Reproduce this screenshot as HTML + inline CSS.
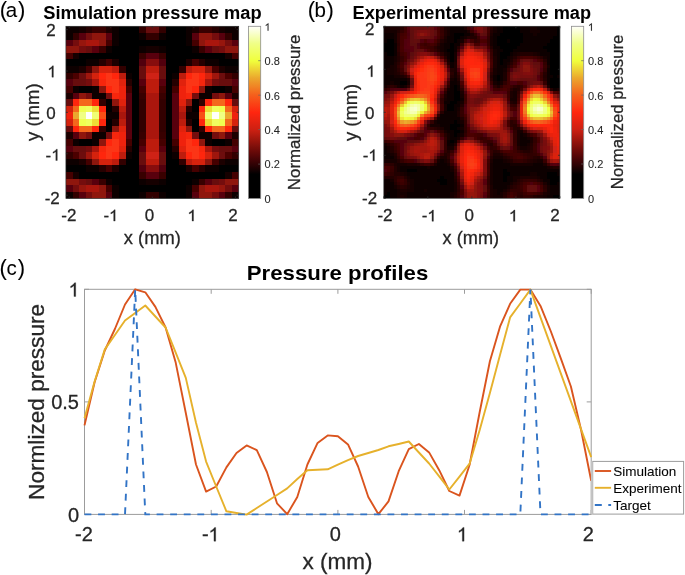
<!DOCTYPE html>
<html><head><meta charset="utf-8"><style>
html,body{margin:0;padding:0;background:#fff;}
body{width:685px;height:575px;position:relative;overflow:hidden;font-family:"Liberation Sans", sans-serif;}
text:not([font-weight]){stroke:#262626;stroke-width:0.28px;}
text.s{stroke-width:0.08px;}
</style></head><body>
<svg width="685" height="575" viewBox="0 0 685 575" style="position:absolute;left:0;top:0;will-change:transform" font-family='"Liberation Sans", sans-serif' fill="#262626"><defs><filter id="bl" x="0" y="0" width="1" height="1"><feGaussianBlur stdDeviation="0.45" edgeMode="duplicate"/></filter><clipPath id="cpa"><rect x="65.9" y="26.3" width="172.8" height="172.2"/></clipPath><clipPath id="cpb"><rect x="383.8" y="26.3" width="176.1" height="172.0"/></clipPath></defs><g shape-rendering="crispEdges" filter="url(#bl)" clip-path="url(#cpa)"><rect x="65.90" y="26.30" width="13.29" height="6.62" fill="#0e0101"/><rect x="79.19" y="26.30" width="6.65" height="6.62" fill="#160102"/><rect x="85.84" y="26.30" width="6.65" height="6.62" fill="#270204"/><rect x="92.48" y="26.30" width="13.29" height="6.62" fill="#370205"/><rect x="105.78" y="26.30" width="6.65" height="6.62" fill="#1c0103"/><rect x="112.42" y="26.30" width="6.65" height="6.62" fill="#0e0101"/><rect x="119.07" y="26.30" width="19.94" height="6.62" fill="#060001"/><rect x="139.01" y="26.30" width="6.65" height="6.62" fill="#320205"/><rect x="145.65" y="26.30" width="13.29" height="6.62" fill="#680a08"/><rect x="158.95" y="26.30" width="6.65" height="6.62" fill="#320205"/><rect x="165.59" y="26.30" width="19.94" height="6.62" fill="#060001"/><rect x="185.53" y="26.30" width="6.65" height="6.62" fill="#0e0101"/><rect x="192.18" y="26.30" width="6.65" height="6.62" fill="#1c0103"/><rect x="198.82" y="26.30" width="13.29" height="6.62" fill="#370205"/><rect x="212.12" y="26.30" width="6.65" height="6.62" fill="#270204"/><rect x="218.76" y="26.30" width="6.65" height="6.62" fill="#160102"/><rect x="225.41" y="26.30" width="13.29" height="6.62" fill="#0e0101"/><rect x="65.90" y="32.92" width="6.65" height="6.62" fill="#0e0101"/><rect x="72.55" y="32.92" width="6.65" height="6.62" fill="#320205"/><rect x="79.19" y="32.92" width="6.65" height="6.62" fill="#580607"/><rect x="85.84" y="32.92" width="6.65" height="6.62" fill="#740d09"/><rect x="92.48" y="32.92" width="13.29" height="6.62" fill="#8f130c"/><rect x="105.78" y="32.92" width="6.65" height="6.62" fill="#580607"/><rect x="112.42" y="32.92" width="6.65" height="6.62" fill="#110102"/><rect x="119.07" y="32.92" width="19.94" height="6.62" fill="#060001"/><rect x="139.01" y="32.92" width="6.65" height="6.62" fill="#110102"/><rect x="145.65" y="32.92" width="13.29" height="6.62" fill="#320205"/><rect x="158.95" y="32.92" width="6.65" height="6.62" fill="#110102"/><rect x="165.59" y="32.92" width="19.94" height="6.62" fill="#060001"/><rect x="185.53" y="32.92" width="6.65" height="6.62" fill="#110102"/><rect x="192.18" y="32.92" width="6.65" height="6.62" fill="#580607"/><rect x="198.82" y="32.92" width="13.29" height="6.62" fill="#8f130c"/><rect x="212.12" y="32.92" width="6.65" height="6.62" fill="#740d09"/><rect x="218.76" y="32.92" width="6.65" height="6.62" fill="#580607"/><rect x="225.41" y="32.92" width="6.65" height="6.62" fill="#320205"/><rect x="232.05" y="32.92" width="6.65" height="6.62" fill="#0e0101"/><rect x="65.90" y="39.55" width="6.65" height="6.62" fill="#580607"/><rect x="72.55" y="39.55" width="6.65" height="6.62" fill="#740d09"/><rect x="79.19" y="39.55" width="6.65" height="6.62" fill="#97140d"/><rect x="85.84" y="39.55" width="13.29" height="6.62" fill="#aa190e"/><rect x="99.13" y="39.55" width="6.65" height="6.62" fill="#8f130c"/><rect x="105.78" y="39.55" width="6.65" height="6.62" fill="#440406"/><rect x="112.42" y="39.55" width="6.65" height="6.62" fill="#0e0101"/><rect x="119.07" y="39.55" width="6.65" height="6.62" fill="#060001"/><rect x="125.72" y="39.55" width="6.65" height="6.62" fill="#030000"/><rect x="132.36" y="39.55" width="39.88" height="6.62" fill="#060001"/><rect x="172.24" y="39.55" width="6.65" height="6.62" fill="#030000"/><rect x="178.88" y="39.55" width="6.65" height="6.62" fill="#060001"/><rect x="185.53" y="39.55" width="6.65" height="6.62" fill="#0e0101"/><rect x="192.18" y="39.55" width="6.65" height="6.62" fill="#440406"/><rect x="198.82" y="39.55" width="6.65" height="6.62" fill="#8f130c"/><rect x="205.47" y="39.55" width="13.29" height="6.62" fill="#aa190e"/><rect x="218.76" y="39.55" width="6.65" height="6.62" fill="#97140d"/><rect x="225.41" y="39.55" width="6.65" height="6.62" fill="#740d09"/><rect x="232.05" y="39.55" width="6.65" height="6.62" fill="#580607"/><rect x="65.90" y="46.17" width="13.29" height="6.62" fill="#8f130c"/><rect x="79.19" y="46.17" width="6.65" height="6.62" fill="#740d09"/><rect x="85.84" y="46.17" width="6.65" height="6.62" fill="#680a08"/><rect x="92.48" y="46.17" width="6.65" height="6.62" fill="#580607"/><rect x="99.13" y="46.17" width="6.65" height="6.62" fill="#370205"/><rect x="105.78" y="46.17" width="6.65" height="6.62" fill="#110102"/><rect x="112.42" y="46.17" width="6.65" height="6.62" fill="#060001"/><rect x="119.07" y="46.17" width="13.29" height="6.62" fill="#030000"/><rect x="132.36" y="46.17" width="6.65" height="6.62" fill="#060001"/><rect x="139.01" y="46.17" width="6.65" height="6.62" fill="#0e0101"/><rect x="145.65" y="46.17" width="13.29" height="6.62" fill="#160102"/><rect x="158.95" y="46.17" width="6.65" height="6.62" fill="#0e0101"/><rect x="165.59" y="46.17" width="6.65" height="6.62" fill="#060001"/><rect x="172.24" y="46.17" width="13.29" height="6.62" fill="#030000"/><rect x="185.53" y="46.17" width="6.65" height="6.62" fill="#060001"/><rect x="192.18" y="46.17" width="6.65" height="6.62" fill="#110102"/><rect x="198.82" y="46.17" width="6.65" height="6.62" fill="#370205"/><rect x="205.47" y="46.17" width="6.65" height="6.62" fill="#580607"/><rect x="212.12" y="46.17" width="6.65" height="6.62" fill="#680a08"/><rect x="218.76" y="46.17" width="6.65" height="6.62" fill="#740d09"/><rect x="225.41" y="46.17" width="13.29" height="6.62" fill="#8f130c"/><rect x="65.90" y="52.79" width="6.65" height="6.62" fill="#440406"/><rect x="72.55" y="52.79" width="6.65" height="6.62" fill="#160102"/><rect x="79.19" y="52.79" width="33.23" height="6.62" fill="#060001"/><rect x="112.42" y="52.79" width="19.94" height="6.62" fill="#030000"/><rect x="132.36" y="52.79" width="6.65" height="6.62" fill="#060001"/><rect x="139.01" y="52.79" width="6.65" height="6.62" fill="#370205"/><rect x="145.65" y="52.79" width="13.29" height="6.62" fill="#580607"/><rect x="158.95" y="52.79" width="6.65" height="6.62" fill="#370205"/><rect x="165.59" y="52.79" width="6.65" height="6.62" fill="#060001"/><rect x="172.24" y="52.79" width="19.94" height="6.62" fill="#030000"/><rect x="192.18" y="52.79" width="33.23" height="6.62" fill="#060001"/><rect x="225.41" y="52.79" width="6.65" height="6.62" fill="#160102"/><rect x="232.05" y="52.79" width="6.65" height="6.62" fill="#440406"/><rect x="65.90" y="59.42" width="19.94" height="6.62" fill="#060001"/><rect x="85.84" y="59.42" width="13.29" height="6.62" fill="#0e0101"/><rect x="99.13" y="59.42" width="6.65" height="6.62" fill="#270204"/><rect x="105.78" y="59.42" width="6.65" height="6.62" fill="#440406"/><rect x="112.42" y="59.42" width="6.65" height="6.62" fill="#1c0103"/><rect x="119.07" y="59.42" width="13.29" height="6.62" fill="#030000"/><rect x="132.36" y="59.42" width="6.65" height="6.62" fill="#060001"/><rect x="139.01" y="59.42" width="6.65" height="6.62" fill="#510507"/><rect x="145.65" y="59.42" width="13.29" height="6.62" fill="#87110b"/><rect x="158.95" y="59.42" width="6.65" height="6.62" fill="#510507"/><rect x="165.59" y="59.42" width="6.65" height="6.62" fill="#060001"/><rect x="172.24" y="59.42" width="13.29" height="6.62" fill="#030000"/><rect x="185.53" y="59.42" width="6.65" height="6.62" fill="#1c0103"/><rect x="192.18" y="59.42" width="6.65" height="6.62" fill="#440406"/><rect x="198.82" y="59.42" width="6.65" height="6.62" fill="#270204"/><rect x="205.47" y="59.42" width="13.29" height="6.62" fill="#0e0101"/><rect x="218.76" y="59.42" width="19.94" height="6.62" fill="#060001"/><rect x="65.90" y="66.04" width="13.29" height="6.62" fill="#0e0101"/><rect x="79.19" y="66.04" width="6.65" height="6.62" fill="#1c0103"/><rect x="85.84" y="66.04" width="6.65" height="6.62" fill="#440406"/><rect x="92.48" y="66.04" width="6.65" height="6.62" fill="#8f130c"/><rect x="99.13" y="66.04" width="13.29" height="6.62" fill="#d52111"/><rect x="112.42" y="66.04" width="6.65" height="6.62" fill="#bd1d10"/><rect x="119.07" y="66.04" width="6.65" height="6.62" fill="#320205"/><rect x="125.72" y="66.04" width="6.65" height="6.62" fill="#030000"/><rect x="132.36" y="66.04" width="6.65" height="6.62" fill="#060001"/><rect x="139.01" y="66.04" width="6.65" height="6.62" fill="#680a08"/><rect x="145.65" y="66.04" width="13.29" height="6.62" fill="#bd1d10"/><rect x="158.95" y="66.04" width="6.65" height="6.62" fill="#680a08"/><rect x="165.59" y="66.04" width="6.65" height="6.62" fill="#060001"/><rect x="172.24" y="66.04" width="6.65" height="6.62" fill="#030000"/><rect x="178.88" y="66.04" width="6.65" height="6.62" fill="#320205"/><rect x="185.53" y="66.04" width="6.65" height="6.62" fill="#bd1d10"/><rect x="192.18" y="66.04" width="13.29" height="6.62" fill="#d52111"/><rect x="205.47" y="66.04" width="6.65" height="6.62" fill="#8f130c"/><rect x="212.12" y="66.04" width="6.65" height="6.62" fill="#440406"/><rect x="218.76" y="66.04" width="6.65" height="6.62" fill="#1c0103"/><rect x="225.41" y="66.04" width="13.29" height="6.62" fill="#0e0101"/><rect x="65.90" y="72.66" width="6.65" height="6.62" fill="#320205"/><rect x="72.55" y="72.66" width="6.65" height="6.62" fill="#4c0406"/><rect x="79.19" y="72.66" width="6.65" height="6.62" fill="#6d0b09"/><rect x="85.84" y="72.66" width="6.65" height="6.62" fill="#9f160d"/><rect x="92.48" y="72.66" width="6.65" height="6.62" fill="#d52111"/><rect x="99.13" y="72.66" width="6.65" height="6.62" fill="#ff260f"/><rect x="105.78" y="72.66" width="6.65" height="6.62" fill="#fc3613"/><rect x="112.42" y="72.66" width="6.65" height="6.62" fill="#ff260f"/><rect x="119.07" y="72.66" width="6.65" height="6.62" fill="#bd1d10"/><rect x="125.72" y="72.66" width="6.65" height="6.62" fill="#0e0101"/><rect x="132.36" y="72.66" width="6.65" height="6.62" fill="#030000"/><rect x="139.01" y="72.66" width="6.65" height="6.62" fill="#680a08"/><rect x="145.65" y="72.66" width="13.29" height="6.62" fill="#cf2012"/><rect x="158.95" y="72.66" width="6.65" height="6.62" fill="#680a08"/><rect x="165.59" y="72.66" width="6.65" height="6.62" fill="#030000"/><rect x="172.24" y="72.66" width="6.65" height="6.62" fill="#0e0101"/><rect x="178.88" y="72.66" width="6.65" height="6.62" fill="#bd1d10"/><rect x="185.53" y="72.66" width="6.65" height="6.62" fill="#ff260f"/><rect x="192.18" y="72.66" width="6.65" height="6.62" fill="#fc3613"/><rect x="198.82" y="72.66" width="6.65" height="6.62" fill="#ff260f"/><rect x="205.47" y="72.66" width="6.65" height="6.62" fill="#d52111"/><rect x="212.12" y="72.66" width="6.65" height="6.62" fill="#9f160d"/><rect x="218.76" y="72.66" width="6.65" height="6.62" fill="#6d0b09"/><rect x="225.41" y="72.66" width="6.65" height="6.62" fill="#4c0406"/><rect x="232.05" y="72.66" width="6.65" height="6.62" fill="#320205"/><rect x="65.90" y="79.28" width="6.65" height="6.62" fill="#580607"/><rect x="72.55" y="79.28" width="13.29" height="6.62" fill="#680a08"/><rect x="85.84" y="79.28" width="6.65" height="6.62" fill="#740d09"/><rect x="92.48" y="79.28" width="6.65" height="6.62" fill="#aa190e"/><rect x="99.13" y="79.28" width="6.65" height="6.62" fill="#f7250f"/><rect x="105.78" y="79.28" width="13.29" height="6.62" fill="#fc3613"/><rect x="119.07" y="79.28" width="6.65" height="6.62" fill="#e12211"/><rect x="125.72" y="79.28" width="6.65" height="6.62" fill="#270204"/><rect x="132.36" y="79.28" width="6.65" height="6.62" fill="#030000"/><rect x="139.01" y="79.28" width="6.65" height="6.62" fill="#580607"/><rect x="145.65" y="79.28" width="13.29" height="6.62" fill="#bd1d10"/><rect x="158.95" y="79.28" width="6.65" height="6.62" fill="#580607"/><rect x="165.59" y="79.28" width="6.65" height="6.62" fill="#030000"/><rect x="172.24" y="79.28" width="6.65" height="6.62" fill="#270204"/><rect x="178.88" y="79.28" width="6.65" height="6.62" fill="#e12211"/><rect x="185.53" y="79.28" width="13.29" height="6.62" fill="#fc3613"/><rect x="198.82" y="79.28" width="6.65" height="6.62" fill="#f7250f"/><rect x="205.47" y="79.28" width="6.65" height="6.62" fill="#aa190e"/><rect x="212.12" y="79.28" width="6.65" height="6.62" fill="#740d09"/><rect x="218.76" y="79.28" width="13.29" height="6.62" fill="#680a08"/><rect x="232.05" y="79.28" width="6.65" height="6.62" fill="#580607"/><rect x="65.90" y="85.91" width="6.65" height="6.62" fill="#440406"/><rect x="72.55" y="85.91" width="6.65" height="6.62" fill="#080001"/><rect x="79.19" y="85.91" width="13.29" height="6.62" fill="#060001"/><rect x="92.48" y="85.91" width="6.65" height="6.62" fill="#080001"/><rect x="99.13" y="85.91" width="6.65" height="6.62" fill="#8f130c"/><rect x="105.78" y="85.91" width="6.65" height="6.62" fill="#ff260f"/><rect x="112.42" y="85.91" width="6.65" height="6.62" fill="#fc3613"/><rect x="119.07" y="85.91" width="6.65" height="6.62" fill="#ef2410"/><rect x="125.72" y="85.91" width="6.65" height="6.62" fill="#440406"/><rect x="132.36" y="85.91" width="6.65" height="6.62" fill="#030000"/><rect x="139.01" y="85.91" width="6.65" height="6.62" fill="#440406"/><rect x="145.65" y="85.91" width="13.29" height="6.62" fill="#bd1d10"/><rect x="158.95" y="85.91" width="6.65" height="6.62" fill="#440406"/><rect x="165.59" y="85.91" width="6.65" height="6.62" fill="#030000"/><rect x="172.24" y="85.91" width="6.65" height="6.62" fill="#440406"/><rect x="178.88" y="85.91" width="6.65" height="6.62" fill="#ef2410"/><rect x="185.53" y="85.91" width="6.65" height="6.62" fill="#fc3613"/><rect x="192.18" y="85.91" width="6.65" height="6.62" fill="#ff260f"/><rect x="198.82" y="85.91" width="6.65" height="6.62" fill="#8f130c"/><rect x="205.47" y="85.91" width="6.65" height="6.62" fill="#080001"/><rect x="212.12" y="85.91" width="13.29" height="6.62" fill="#060001"/><rect x="225.41" y="85.91" width="6.65" height="6.62" fill="#080001"/><rect x="232.05" y="85.91" width="6.65" height="6.62" fill="#440406"/><rect x="65.90" y="92.53" width="6.65" height="6.62" fill="#1c0103"/><rect x="72.55" y="92.53" width="6.65" height="6.62" fill="#580607"/><rect x="79.19" y="92.53" width="6.65" height="6.62" fill="#8f130c"/><rect x="85.84" y="92.53" width="6.65" height="6.62" fill="#740d09"/><rect x="92.48" y="92.53" width="13.29" height="6.62" fill="#080001"/><rect x="105.78" y="92.53" width="6.65" height="6.62" fill="#740d09"/><rect x="112.42" y="92.53" width="6.65" height="6.62" fill="#f7250f"/><rect x="119.07" y="92.53" width="6.65" height="6.62" fill="#ef2410"/><rect x="125.72" y="92.53" width="6.65" height="6.62" fill="#580607"/><rect x="132.36" y="92.53" width="6.65" height="6.62" fill="#030000"/><rect x="139.01" y="92.53" width="6.65" height="6.62" fill="#370205"/><rect x="145.65" y="92.53" width="13.29" height="6.62" fill="#aa190e"/><rect x="158.95" y="92.53" width="6.65" height="6.62" fill="#370205"/><rect x="165.59" y="92.53" width="6.65" height="6.62" fill="#030000"/><rect x="172.24" y="92.53" width="6.65" height="6.62" fill="#580607"/><rect x="178.88" y="92.53" width="6.65" height="6.62" fill="#ef2410"/><rect x="185.53" y="92.53" width="6.65" height="6.62" fill="#f7250f"/><rect x="192.18" y="92.53" width="6.65" height="6.62" fill="#740d09"/><rect x="198.82" y="92.53" width="13.29" height="6.62" fill="#080001"/><rect x="212.12" y="92.53" width="6.65" height="6.62" fill="#740d09"/><rect x="218.76" y="92.53" width="6.65" height="6.62" fill="#8f130c"/><rect x="225.41" y="92.53" width="6.65" height="6.62" fill="#580607"/><rect x="232.05" y="92.53" width="6.65" height="6.62" fill="#1c0103"/><rect x="65.90" y="99.15" width="6.65" height="6.62" fill="#680a08"/><rect x="72.55" y="99.15" width="6.65" height="6.62" fill="#ff260f"/><rect x="79.19" y="99.15" width="13.29" height="6.62" fill="#f4681e"/><rect x="92.48" y="99.15" width="6.65" height="6.62" fill="#ff260f"/><rect x="99.13" y="99.15" width="6.65" height="6.62" fill="#320205"/><rect x="105.78" y="99.15" width="6.65" height="6.62" fill="#060001"/><rect x="112.42" y="99.15" width="6.65" height="6.62" fill="#8f130c"/><rect x="119.07" y="99.15" width="6.65" height="6.62" fill="#e12211"/><rect x="125.72" y="99.15" width="6.65" height="6.62" fill="#580607"/><rect x="132.36" y="99.15" width="6.65" height="6.62" fill="#030000"/><rect x="139.01" y="99.15" width="6.65" height="6.62" fill="#320205"/><rect x="145.65" y="99.15" width="13.29" height="6.62" fill="#aa190e"/><rect x="158.95" y="99.15" width="6.65" height="6.62" fill="#320205"/><rect x="165.59" y="99.15" width="6.65" height="6.62" fill="#030000"/><rect x="172.24" y="99.15" width="6.65" height="6.62" fill="#580607"/><rect x="178.88" y="99.15" width="6.65" height="6.62" fill="#e12211"/><rect x="185.53" y="99.15" width="6.65" height="6.62" fill="#8f130c"/><rect x="192.18" y="99.15" width="6.65" height="6.62" fill="#060001"/><rect x="198.82" y="99.15" width="6.65" height="6.62" fill="#320205"/><rect x="205.47" y="99.15" width="6.65" height="6.62" fill="#ff260f"/><rect x="212.12" y="99.15" width="13.29" height="6.62" fill="#f4681e"/><rect x="225.41" y="99.15" width="6.65" height="6.62" fill="#ff260f"/><rect x="232.05" y="99.15" width="6.65" height="6.62" fill="#680a08"/><rect x="65.90" y="105.78" width="6.65" height="6.62" fill="#d52111"/><rect x="72.55" y="105.78" width="6.65" height="6.62" fill="#f4681e"/><rect x="79.19" y="105.78" width="6.65" height="6.62" fill="#f0ff51"/><rect x="85.84" y="105.78" width="6.65" height="6.62" fill="#f0ff5e"/><rect x="92.48" y="105.78" width="6.65" height="6.62" fill="#eedd36"/><rect x="99.13" y="105.78" width="6.65" height="6.62" fill="#ff260f"/><rect x="105.78" y="105.78" width="6.65" height="6.62" fill="#060001"/><rect x="112.42" y="105.78" width="6.65" height="6.62" fill="#270204"/><rect x="119.07" y="105.78" width="6.65" height="6.62" fill="#bd1d10"/><rect x="125.72" y="105.78" width="6.65" height="6.62" fill="#580607"/><rect x="132.36" y="105.78" width="6.65" height="6.62" fill="#030000"/><rect x="139.01" y="105.78" width="6.65" height="6.62" fill="#320205"/><rect x="145.65" y="105.78" width="13.29" height="6.62" fill="#aa190e"/><rect x="158.95" y="105.78" width="6.65" height="6.62" fill="#320205"/><rect x="165.59" y="105.78" width="6.65" height="6.62" fill="#030000"/><rect x="172.24" y="105.78" width="6.65" height="6.62" fill="#580607"/><rect x="178.88" y="105.78" width="6.65" height="6.62" fill="#bd1d10"/><rect x="185.53" y="105.78" width="6.65" height="6.62" fill="#270204"/><rect x="192.18" y="105.78" width="6.65" height="6.62" fill="#060001"/><rect x="198.82" y="105.78" width="6.65" height="6.62" fill="#ff260f"/><rect x="205.47" y="105.78" width="6.65" height="6.62" fill="#eedd36"/><rect x="212.12" y="105.78" width="6.65" height="6.62" fill="#f0ff5e"/><rect x="218.76" y="105.78" width="6.65" height="6.62" fill="#f0ff51"/><rect x="225.41" y="105.78" width="6.65" height="6.62" fill="#f4681e"/><rect x="232.05" y="105.78" width="6.65" height="6.62" fill="#d52111"/><rect x="65.90" y="112.40" width="6.65" height="6.62" fill="#ef2410"/><rect x="72.55" y="112.40" width="6.65" height="6.62" fill="#eba82d"/><rect x="79.19" y="112.40" width="6.65" height="6.62" fill="#f0ff83"/><rect x="85.84" y="112.40" width="6.65" height="6.62" fill="#fffffa"/><rect x="92.48" y="112.40" width="6.65" height="6.62" fill="#f0ff72"/><rect x="99.13" y="112.40" width="6.65" height="6.62" fill="#f84f18"/><rect x="105.78" y="112.40" width="6.65" height="6.62" fill="#0e0101"/><rect x="112.42" y="112.40" width="6.65" height="6.62" fill="#110102"/><rect x="119.07" y="112.40" width="6.65" height="6.62" fill="#aa190e"/><rect x="125.72" y="112.40" width="6.65" height="6.62" fill="#580607"/><rect x="132.36" y="112.40" width="6.65" height="6.62" fill="#030000"/><rect x="139.01" y="112.40" width="6.65" height="6.62" fill="#320205"/><rect x="145.65" y="112.40" width="13.29" height="6.62" fill="#aa190e"/><rect x="158.95" y="112.40" width="6.65" height="6.62" fill="#320205"/><rect x="165.59" y="112.40" width="6.65" height="6.62" fill="#030000"/><rect x="172.24" y="112.40" width="6.65" height="6.62" fill="#580607"/><rect x="178.88" y="112.40" width="6.65" height="6.62" fill="#aa190e"/><rect x="185.53" y="112.40" width="6.65" height="6.62" fill="#110102"/><rect x="192.18" y="112.40" width="6.65" height="6.62" fill="#0e0101"/><rect x="198.82" y="112.40" width="6.65" height="6.62" fill="#f84f18"/><rect x="205.47" y="112.40" width="6.65" height="6.62" fill="#f0ff72"/><rect x="212.12" y="112.40" width="6.65" height="6.62" fill="#fffffa"/><rect x="218.76" y="112.40" width="6.65" height="6.62" fill="#f0ff83"/><rect x="225.41" y="112.40" width="6.65" height="6.62" fill="#eba82d"/><rect x="232.05" y="112.40" width="6.65" height="6.62" fill="#ef2410"/><rect x="65.90" y="119.02" width="6.65" height="6.62" fill="#d52111"/><rect x="72.55" y="119.02" width="6.65" height="6.62" fill="#f4681e"/><rect x="79.19" y="119.02" width="6.65" height="6.62" fill="#f0ff51"/><rect x="85.84" y="119.02" width="6.65" height="6.62" fill="#f0ff5e"/><rect x="92.48" y="119.02" width="6.65" height="6.62" fill="#eedd36"/><rect x="99.13" y="119.02" width="6.65" height="6.62" fill="#ff260f"/><rect x="105.78" y="119.02" width="6.65" height="6.62" fill="#060001"/><rect x="112.42" y="119.02" width="6.65" height="6.62" fill="#270204"/><rect x="119.07" y="119.02" width="6.65" height="6.62" fill="#bd1d10"/><rect x="125.72" y="119.02" width="6.65" height="6.62" fill="#580607"/><rect x="132.36" y="119.02" width="6.65" height="6.62" fill="#030000"/><rect x="139.01" y="119.02" width="6.65" height="6.62" fill="#320205"/><rect x="145.65" y="119.02" width="13.29" height="6.62" fill="#aa190e"/><rect x="158.95" y="119.02" width="6.65" height="6.62" fill="#320205"/><rect x="165.59" y="119.02" width="6.65" height="6.62" fill="#030000"/><rect x="172.24" y="119.02" width="6.65" height="6.62" fill="#580607"/><rect x="178.88" y="119.02" width="6.65" height="6.62" fill="#bd1d10"/><rect x="185.53" y="119.02" width="6.65" height="6.62" fill="#270204"/><rect x="192.18" y="119.02" width="6.65" height="6.62" fill="#060001"/><rect x="198.82" y="119.02" width="6.65" height="6.62" fill="#ff260f"/><rect x="205.47" y="119.02" width="6.65" height="6.62" fill="#eedd36"/><rect x="212.12" y="119.02" width="6.65" height="6.62" fill="#f0ff5e"/><rect x="218.76" y="119.02" width="6.65" height="6.62" fill="#f0ff51"/><rect x="225.41" y="119.02" width="6.65" height="6.62" fill="#f4681e"/><rect x="232.05" y="119.02" width="6.65" height="6.62" fill="#d52111"/><rect x="65.90" y="125.65" width="6.65" height="6.62" fill="#680a08"/><rect x="72.55" y="125.65" width="6.65" height="6.62" fill="#ff260f"/><rect x="79.19" y="125.65" width="13.29" height="6.62" fill="#f4681e"/><rect x="92.48" y="125.65" width="6.65" height="6.62" fill="#ff260f"/><rect x="99.13" y="125.65" width="6.65" height="6.62" fill="#320205"/><rect x="105.78" y="125.65" width="6.65" height="6.62" fill="#060001"/><rect x="112.42" y="125.65" width="6.65" height="6.62" fill="#8f130c"/><rect x="119.07" y="125.65" width="6.65" height="6.62" fill="#e12211"/><rect x="125.72" y="125.65" width="6.65" height="6.62" fill="#580607"/><rect x="132.36" y="125.65" width="6.65" height="6.62" fill="#030000"/><rect x="139.01" y="125.65" width="6.65" height="6.62" fill="#320205"/><rect x="145.65" y="125.65" width="13.29" height="6.62" fill="#aa190e"/><rect x="158.95" y="125.65" width="6.65" height="6.62" fill="#320205"/><rect x="165.59" y="125.65" width="6.65" height="6.62" fill="#030000"/><rect x="172.24" y="125.65" width="6.65" height="6.62" fill="#580607"/><rect x="178.88" y="125.65" width="6.65" height="6.62" fill="#e12211"/><rect x="185.53" y="125.65" width="6.65" height="6.62" fill="#8f130c"/><rect x="192.18" y="125.65" width="6.65" height="6.62" fill="#060001"/><rect x="198.82" y="125.65" width="6.65" height="6.62" fill="#320205"/><rect x="205.47" y="125.65" width="6.65" height="6.62" fill="#ff260f"/><rect x="212.12" y="125.65" width="13.29" height="6.62" fill="#f4681e"/><rect x="225.41" y="125.65" width="6.65" height="6.62" fill="#ff260f"/><rect x="232.05" y="125.65" width="6.65" height="6.62" fill="#680a08"/><rect x="65.90" y="132.27" width="6.65" height="6.62" fill="#1c0103"/><rect x="72.55" y="132.27" width="6.65" height="6.62" fill="#580607"/><rect x="79.19" y="132.27" width="6.65" height="6.62" fill="#8f130c"/><rect x="85.84" y="132.27" width="6.65" height="6.62" fill="#740d09"/><rect x="92.48" y="132.27" width="13.29" height="6.62" fill="#080001"/><rect x="105.78" y="132.27" width="6.65" height="6.62" fill="#740d09"/><rect x="112.42" y="132.27" width="6.65" height="6.62" fill="#f7250f"/><rect x="119.07" y="132.27" width="6.65" height="6.62" fill="#ef2410"/><rect x="125.72" y="132.27" width="6.65" height="6.62" fill="#580607"/><rect x="132.36" y="132.27" width="6.65" height="6.62" fill="#030000"/><rect x="139.01" y="132.27" width="6.65" height="6.62" fill="#370205"/><rect x="145.65" y="132.27" width="13.29" height="6.62" fill="#aa190e"/><rect x="158.95" y="132.27" width="6.65" height="6.62" fill="#370205"/><rect x="165.59" y="132.27" width="6.65" height="6.62" fill="#030000"/><rect x="172.24" y="132.27" width="6.65" height="6.62" fill="#580607"/><rect x="178.88" y="132.27" width="6.65" height="6.62" fill="#ef2410"/><rect x="185.53" y="132.27" width="6.65" height="6.62" fill="#f7250f"/><rect x="192.18" y="132.27" width="6.65" height="6.62" fill="#740d09"/><rect x="198.82" y="132.27" width="13.29" height="6.62" fill="#080001"/><rect x="212.12" y="132.27" width="6.65" height="6.62" fill="#740d09"/><rect x="218.76" y="132.27" width="6.65" height="6.62" fill="#8f130c"/><rect x="225.41" y="132.27" width="6.65" height="6.62" fill="#580607"/><rect x="232.05" y="132.27" width="6.65" height="6.62" fill="#1c0103"/><rect x="65.90" y="138.89" width="6.65" height="6.62" fill="#440406"/><rect x="72.55" y="138.89" width="6.65" height="6.62" fill="#080001"/><rect x="79.19" y="138.89" width="13.29" height="6.62" fill="#060001"/><rect x="92.48" y="138.89" width="6.65" height="6.62" fill="#080001"/><rect x="99.13" y="138.89" width="6.65" height="6.62" fill="#8f130c"/><rect x="105.78" y="138.89" width="6.65" height="6.62" fill="#ff260f"/><rect x="112.42" y="138.89" width="6.65" height="6.62" fill="#fc3613"/><rect x="119.07" y="138.89" width="6.65" height="6.62" fill="#ef2410"/><rect x="125.72" y="138.89" width="6.65" height="6.62" fill="#440406"/><rect x="132.36" y="138.89" width="6.65" height="6.62" fill="#030000"/><rect x="139.01" y="138.89" width="6.65" height="6.62" fill="#440406"/><rect x="145.65" y="138.89" width="13.29" height="6.62" fill="#bd1d10"/><rect x="158.95" y="138.89" width="6.65" height="6.62" fill="#440406"/><rect x="165.59" y="138.89" width="6.65" height="6.62" fill="#030000"/><rect x="172.24" y="138.89" width="6.65" height="6.62" fill="#440406"/><rect x="178.88" y="138.89" width="6.65" height="6.62" fill="#ef2410"/><rect x="185.53" y="138.89" width="6.65" height="6.62" fill="#fc3613"/><rect x="192.18" y="138.89" width="6.65" height="6.62" fill="#ff260f"/><rect x="198.82" y="138.89" width="6.65" height="6.62" fill="#8f130c"/><rect x="205.47" y="138.89" width="6.65" height="6.62" fill="#080001"/><rect x="212.12" y="138.89" width="13.29" height="6.62" fill="#060001"/><rect x="225.41" y="138.89" width="6.65" height="6.62" fill="#080001"/><rect x="232.05" y="138.89" width="6.65" height="6.62" fill="#440406"/><rect x="65.90" y="145.52" width="6.65" height="6.62" fill="#580607"/><rect x="72.55" y="145.52" width="13.29" height="6.62" fill="#680a08"/><rect x="85.84" y="145.52" width="6.65" height="6.62" fill="#740d09"/><rect x="92.48" y="145.52" width="6.65" height="6.62" fill="#aa190e"/><rect x="99.13" y="145.52" width="6.65" height="6.62" fill="#f7250f"/><rect x="105.78" y="145.52" width="13.29" height="6.62" fill="#fc3613"/><rect x="119.07" y="145.52" width="6.65" height="6.62" fill="#e12211"/><rect x="125.72" y="145.52" width="6.65" height="6.62" fill="#270204"/><rect x="132.36" y="145.52" width="6.65" height="6.62" fill="#030000"/><rect x="139.01" y="145.52" width="6.65" height="6.62" fill="#580607"/><rect x="145.65" y="145.52" width="13.29" height="6.62" fill="#bd1d10"/><rect x="158.95" y="145.52" width="6.65" height="6.62" fill="#580607"/><rect x="165.59" y="145.52" width="6.65" height="6.62" fill="#030000"/><rect x="172.24" y="145.52" width="6.65" height="6.62" fill="#270204"/><rect x="178.88" y="145.52" width="6.65" height="6.62" fill="#e12211"/><rect x="185.53" y="145.52" width="13.29" height="6.62" fill="#fc3613"/><rect x="198.82" y="145.52" width="6.65" height="6.62" fill="#f7250f"/><rect x="205.47" y="145.52" width="6.65" height="6.62" fill="#aa190e"/><rect x="212.12" y="145.52" width="6.65" height="6.62" fill="#740d09"/><rect x="218.76" y="145.52" width="13.29" height="6.62" fill="#680a08"/><rect x="232.05" y="145.52" width="6.65" height="6.62" fill="#580607"/><rect x="65.90" y="152.14" width="6.65" height="6.62" fill="#320205"/><rect x="72.55" y="152.14" width="6.65" height="6.62" fill="#4c0406"/><rect x="79.19" y="152.14" width="6.65" height="6.62" fill="#6d0b09"/><rect x="85.84" y="152.14" width="6.65" height="6.62" fill="#9f160d"/><rect x="92.48" y="152.14" width="6.65" height="6.62" fill="#d52111"/><rect x="99.13" y="152.14" width="6.65" height="6.62" fill="#ff260f"/><rect x="105.78" y="152.14" width="6.65" height="6.62" fill="#fc3613"/><rect x="112.42" y="152.14" width="6.65" height="6.62" fill="#ff260f"/><rect x="119.07" y="152.14" width="6.65" height="6.62" fill="#bd1d10"/><rect x="125.72" y="152.14" width="6.65" height="6.62" fill="#0e0101"/><rect x="132.36" y="152.14" width="6.65" height="6.62" fill="#030000"/><rect x="139.01" y="152.14" width="6.65" height="6.62" fill="#680a08"/><rect x="145.65" y="152.14" width="13.29" height="6.62" fill="#cf2012"/><rect x="158.95" y="152.14" width="6.65" height="6.62" fill="#680a08"/><rect x="165.59" y="152.14" width="6.65" height="6.62" fill="#030000"/><rect x="172.24" y="152.14" width="6.65" height="6.62" fill="#0e0101"/><rect x="178.88" y="152.14" width="6.65" height="6.62" fill="#bd1d10"/><rect x="185.53" y="152.14" width="6.65" height="6.62" fill="#ff260f"/><rect x="192.18" y="152.14" width="6.65" height="6.62" fill="#fc3613"/><rect x="198.82" y="152.14" width="6.65" height="6.62" fill="#ff260f"/><rect x="205.47" y="152.14" width="6.65" height="6.62" fill="#d52111"/><rect x="212.12" y="152.14" width="6.65" height="6.62" fill="#9f160d"/><rect x="218.76" y="152.14" width="6.65" height="6.62" fill="#6d0b09"/><rect x="225.41" y="152.14" width="6.65" height="6.62" fill="#4c0406"/><rect x="232.05" y="152.14" width="6.65" height="6.62" fill="#320205"/><rect x="65.90" y="158.76" width="13.29" height="6.62" fill="#0e0101"/><rect x="79.19" y="158.76" width="6.65" height="6.62" fill="#1c0103"/><rect x="85.84" y="158.76" width="6.65" height="6.62" fill="#440406"/><rect x="92.48" y="158.76" width="6.65" height="6.62" fill="#8f130c"/><rect x="99.13" y="158.76" width="13.29" height="6.62" fill="#d52111"/><rect x="112.42" y="158.76" width="6.65" height="6.62" fill="#bd1d10"/><rect x="119.07" y="158.76" width="6.65" height="6.62" fill="#320205"/><rect x="125.72" y="158.76" width="6.65" height="6.62" fill="#030000"/><rect x="132.36" y="158.76" width="6.65" height="6.62" fill="#060001"/><rect x="139.01" y="158.76" width="6.65" height="6.62" fill="#680a08"/><rect x="145.65" y="158.76" width="13.29" height="6.62" fill="#bd1d10"/><rect x="158.95" y="158.76" width="6.65" height="6.62" fill="#680a08"/><rect x="165.59" y="158.76" width="6.65" height="6.62" fill="#060001"/><rect x="172.24" y="158.76" width="6.65" height="6.62" fill="#030000"/><rect x="178.88" y="158.76" width="6.65" height="6.62" fill="#320205"/><rect x="185.53" y="158.76" width="6.65" height="6.62" fill="#bd1d10"/><rect x="192.18" y="158.76" width="13.29" height="6.62" fill="#d52111"/><rect x="205.47" y="158.76" width="6.65" height="6.62" fill="#8f130c"/><rect x="212.12" y="158.76" width="6.65" height="6.62" fill="#440406"/><rect x="218.76" y="158.76" width="6.65" height="6.62" fill="#1c0103"/><rect x="225.41" y="158.76" width="13.29" height="6.62" fill="#0e0101"/><rect x="65.90" y="165.38" width="19.94" height="6.62" fill="#060001"/><rect x="85.84" y="165.38" width="13.29" height="6.62" fill="#0e0101"/><rect x="99.13" y="165.38" width="6.65" height="6.62" fill="#270204"/><rect x="105.78" y="165.38" width="6.65" height="6.62" fill="#440406"/><rect x="112.42" y="165.38" width="6.65" height="6.62" fill="#1c0103"/><rect x="119.07" y="165.38" width="13.29" height="6.62" fill="#030000"/><rect x="132.36" y="165.38" width="6.65" height="6.62" fill="#060001"/><rect x="139.01" y="165.38" width="6.65" height="6.62" fill="#510507"/><rect x="145.65" y="165.38" width="13.29" height="6.62" fill="#87110b"/><rect x="158.95" y="165.38" width="6.65" height="6.62" fill="#510507"/><rect x="165.59" y="165.38" width="6.65" height="6.62" fill="#060001"/><rect x="172.24" y="165.38" width="13.29" height="6.62" fill="#030000"/><rect x="185.53" y="165.38" width="6.65" height="6.62" fill="#1c0103"/><rect x="192.18" y="165.38" width="6.65" height="6.62" fill="#440406"/><rect x="198.82" y="165.38" width="6.65" height="6.62" fill="#270204"/><rect x="205.47" y="165.38" width="13.29" height="6.62" fill="#0e0101"/><rect x="218.76" y="165.38" width="19.94" height="6.62" fill="#060001"/><rect x="65.90" y="172.01" width="6.65" height="6.62" fill="#440406"/><rect x="72.55" y="172.01" width="6.65" height="6.62" fill="#160102"/><rect x="79.19" y="172.01" width="33.23" height="6.62" fill="#060001"/><rect x="112.42" y="172.01" width="19.94" height="6.62" fill="#030000"/><rect x="132.36" y="172.01" width="6.65" height="6.62" fill="#060001"/><rect x="139.01" y="172.01" width="6.65" height="6.62" fill="#370205"/><rect x="145.65" y="172.01" width="13.29" height="6.62" fill="#580607"/><rect x="158.95" y="172.01" width="6.65" height="6.62" fill="#370205"/><rect x="165.59" y="172.01" width="6.65" height="6.62" fill="#060001"/><rect x="172.24" y="172.01" width="19.94" height="6.62" fill="#030000"/><rect x="192.18" y="172.01" width="33.23" height="6.62" fill="#060001"/><rect x="225.41" y="172.01" width="6.65" height="6.62" fill="#160102"/><rect x="232.05" y="172.01" width="6.65" height="6.62" fill="#440406"/><rect x="65.90" y="178.63" width="13.29" height="6.62" fill="#8f130c"/><rect x="79.19" y="178.63" width="6.65" height="6.62" fill="#740d09"/><rect x="85.84" y="178.63" width="6.65" height="6.62" fill="#680a08"/><rect x="92.48" y="178.63" width="6.65" height="6.62" fill="#580607"/><rect x="99.13" y="178.63" width="6.65" height="6.62" fill="#370205"/><rect x="105.78" y="178.63" width="6.65" height="6.62" fill="#110102"/><rect x="112.42" y="178.63" width="6.65" height="6.62" fill="#060001"/><rect x="119.07" y="178.63" width="13.29" height="6.62" fill="#030000"/><rect x="132.36" y="178.63" width="6.65" height="6.62" fill="#060001"/><rect x="139.01" y="178.63" width="6.65" height="6.62" fill="#0e0101"/><rect x="145.65" y="178.63" width="13.29" height="6.62" fill="#160102"/><rect x="158.95" y="178.63" width="6.65" height="6.62" fill="#0e0101"/><rect x="165.59" y="178.63" width="6.65" height="6.62" fill="#060001"/><rect x="172.24" y="178.63" width="13.29" height="6.62" fill="#030000"/><rect x="185.53" y="178.63" width="6.65" height="6.62" fill="#060001"/><rect x="192.18" y="178.63" width="6.65" height="6.62" fill="#110102"/><rect x="198.82" y="178.63" width="6.65" height="6.62" fill="#370205"/><rect x="205.47" y="178.63" width="6.65" height="6.62" fill="#580607"/><rect x="212.12" y="178.63" width="6.65" height="6.62" fill="#680a08"/><rect x="218.76" y="178.63" width="6.65" height="6.62" fill="#740d09"/><rect x="225.41" y="178.63" width="13.29" height="6.62" fill="#8f130c"/><rect x="65.90" y="185.25" width="6.65" height="6.62" fill="#580607"/><rect x="72.55" y="185.25" width="6.65" height="6.62" fill="#740d09"/><rect x="79.19" y="185.25" width="6.65" height="6.62" fill="#97140d"/><rect x="85.84" y="185.25" width="13.29" height="6.62" fill="#aa190e"/><rect x="99.13" y="185.25" width="6.65" height="6.62" fill="#8f130c"/><rect x="105.78" y="185.25" width="6.65" height="6.62" fill="#440406"/><rect x="112.42" y="185.25" width="6.65" height="6.62" fill="#0e0101"/><rect x="119.07" y="185.25" width="6.65" height="6.62" fill="#060001"/><rect x="125.72" y="185.25" width="6.65" height="6.62" fill="#030000"/><rect x="132.36" y="185.25" width="39.88" height="6.62" fill="#060001"/><rect x="172.24" y="185.25" width="6.65" height="6.62" fill="#030000"/><rect x="178.88" y="185.25" width="6.65" height="6.62" fill="#060001"/><rect x="185.53" y="185.25" width="6.65" height="6.62" fill="#0e0101"/><rect x="192.18" y="185.25" width="6.65" height="6.62" fill="#440406"/><rect x="198.82" y="185.25" width="6.65" height="6.62" fill="#8f130c"/><rect x="205.47" y="185.25" width="13.29" height="6.62" fill="#aa190e"/><rect x="218.76" y="185.25" width="6.65" height="6.62" fill="#97140d"/><rect x="225.41" y="185.25" width="6.65" height="6.62" fill="#740d09"/><rect x="232.05" y="185.25" width="6.65" height="6.62" fill="#580607"/><rect x="65.90" y="191.88" width="6.65" height="6.62" fill="#0e0101"/><rect x="72.55" y="191.88" width="6.65" height="6.62" fill="#320205"/><rect x="79.19" y="191.88" width="6.65" height="6.62" fill="#580607"/><rect x="85.84" y="191.88" width="6.65" height="6.62" fill="#740d09"/><rect x="92.48" y="191.88" width="13.29" height="6.62" fill="#8f130c"/><rect x="105.78" y="191.88" width="6.65" height="6.62" fill="#580607"/><rect x="112.42" y="191.88" width="6.65" height="6.62" fill="#110102"/><rect x="119.07" y="191.88" width="19.94" height="6.62" fill="#060001"/><rect x="139.01" y="191.88" width="6.65" height="6.62" fill="#110102"/><rect x="145.65" y="191.88" width="13.29" height="6.62" fill="#320205"/><rect x="158.95" y="191.88" width="6.65" height="6.62" fill="#110102"/><rect x="165.59" y="191.88" width="19.94" height="6.62" fill="#060001"/><rect x="185.53" y="191.88" width="6.65" height="6.62" fill="#110102"/><rect x="192.18" y="191.88" width="6.65" height="6.62" fill="#580607"/><rect x="198.82" y="191.88" width="13.29" height="6.62" fill="#8f130c"/><rect x="212.12" y="191.88" width="6.65" height="6.62" fill="#740d09"/><rect x="218.76" y="191.88" width="6.65" height="6.62" fill="#580607"/><rect x="225.41" y="191.88" width="6.65" height="6.62" fill="#320205"/><rect x="232.05" y="191.88" width="6.65" height="6.62" fill="#0e0101"/></g><g shape-rendering="crispEdges" filter="url(#bl)" clip-path="url(#cpb)"><rect x="383.80" y="26.30" width="3.32" height="3.25" fill="#160102"/><rect x="387.12" y="26.30" width="3.32" height="3.25" fill="#190103"/><rect x="390.45" y="26.30" width="9.97" height="3.25" fill="#1c0103"/><rect x="400.41" y="26.30" width="3.32" height="3.25" fill="#270204"/><rect x="403.74" y="26.30" width="3.32" height="3.25" fill="#3a0305"/><rect x="407.06" y="26.30" width="3.32" height="3.25" fill="#530507"/><rect x="410.38" y="26.30" width="3.32" height="3.25" fill="#630808"/><rect x="413.70" y="26.30" width="3.32" height="3.25" fill="#680a08"/><rect x="417.03" y="26.30" width="6.65" height="3.25" fill="#650908"/><rect x="423.67" y="26.30" width="3.32" height="3.25" fill="#680a08"/><rect x="426.99" y="26.30" width="3.32" height="3.25" fill="#6a0a09"/><rect x="430.32" y="26.30" width="3.32" height="3.25" fill="#650908"/><rect x="433.64" y="26.30" width="3.32" height="3.25" fill="#580607"/><rect x="436.96" y="26.30" width="3.32" height="3.25" fill="#470406"/><rect x="440.28" y="26.30" width="3.32" height="3.25" fill="#320205"/><rect x="443.61" y="26.30" width="3.32" height="3.25" fill="#1f0103"/><rect x="446.93" y="26.30" width="3.32" height="3.25" fill="#140102"/><rect x="450.25" y="26.30" width="3.32" height="3.25" fill="#0e0101"/><rect x="453.58" y="26.30" width="6.65" height="3.25" fill="#0b0001"/><rect x="460.22" y="26.30" width="3.32" height="3.25" fill="#110102"/><rect x="463.54" y="26.30" width="3.32" height="3.25" fill="#1c0103"/><rect x="466.87" y="26.30" width="3.32" height="3.25" fill="#350205"/><rect x="470.19" y="26.30" width="3.32" height="3.25" fill="#530507"/><rect x="473.51" y="26.30" width="3.32" height="3.25" fill="#720c09"/><rect x="476.83" y="26.30" width="3.32" height="3.25" fill="#81100a"/><rect x="480.16" y="26.30" width="3.32" height="3.25" fill="#7c0f0a"/><rect x="483.48" y="26.30" width="3.32" height="3.25" fill="#630808"/><rect x="486.80" y="26.30" width="3.32" height="3.25" fill="#420306"/><rect x="490.12" y="26.30" width="3.32" height="3.25" fill="#270204"/><rect x="493.45" y="26.30" width="3.32" height="3.25" fill="#140102"/><rect x="496.77" y="26.30" width="3.32" height="3.25" fill="#0b0001"/><rect x="500.09" y="26.30" width="3.32" height="3.25" fill="#080001"/><rect x="503.42" y="26.30" width="16.61" height="3.25" fill="#060001"/><rect x="520.03" y="26.30" width="3.32" height="3.25" fill="#080001"/><rect x="523.35" y="26.30" width="3.32" height="3.25" fill="#0b0001"/><rect x="526.67" y="26.30" width="3.32" height="3.25" fill="#110102"/><rect x="530.00" y="26.30" width="3.32" height="3.25" fill="#140102"/><rect x="533.32" y="26.30" width="3.32" height="3.25" fill="#160102"/><rect x="536.64" y="26.30" width="3.32" height="3.25" fill="#110102"/><rect x="539.96" y="26.30" width="3.32" height="3.25" fill="#0e0101"/><rect x="543.29" y="26.30" width="3.32" height="3.25" fill="#0b0001"/><rect x="546.61" y="26.30" width="9.97" height="3.25" fill="#080001"/><rect x="556.58" y="26.30" width="3.32" height="3.25" fill="#060001"/><rect x="383.80" y="29.55" width="3.32" height="3.25" fill="#160102"/><rect x="387.12" y="29.55" width="3.32" height="3.25" fill="#140102"/><rect x="390.45" y="29.55" width="3.32" height="3.25" fill="#160102"/><rect x="393.77" y="29.55" width="3.32" height="3.25" fill="#190103"/><rect x="397.09" y="29.55" width="3.32" height="3.25" fill="#220103"/><rect x="400.41" y="29.55" width="3.32" height="3.25" fill="#300205"/><rect x="403.74" y="29.55" width="3.32" height="3.25" fill="#3f0306"/><rect x="407.06" y="29.55" width="3.32" height="3.25" fill="#510507"/><rect x="410.38" y="29.55" width="3.32" height="3.25" fill="#600808"/><rect x="413.70" y="29.55" width="3.32" height="3.25" fill="#6d0b09"/><rect x="417.03" y="29.55" width="3.32" height="3.25" fill="#770d0a"/><rect x="420.35" y="29.55" width="6.65" height="3.25" fill="#7c0f0a"/><rect x="426.99" y="29.55" width="3.32" height="3.25" fill="#740d09"/><rect x="430.32" y="29.55" width="3.32" height="3.25" fill="#6a0a09"/><rect x="433.64" y="29.55" width="3.32" height="3.25" fill="#5b0707"/><rect x="436.96" y="29.55" width="3.32" height="3.25" fill="#490406"/><rect x="440.28" y="29.55" width="3.32" height="3.25" fill="#350205"/><rect x="443.61" y="29.55" width="3.32" height="3.25" fill="#220103"/><rect x="446.93" y="29.55" width="3.32" height="3.25" fill="#160102"/><rect x="450.25" y="29.55" width="3.32" height="3.25" fill="#0e0101"/><rect x="453.58" y="29.55" width="9.97" height="3.25" fill="#080001"/><rect x="463.54" y="29.55" width="3.32" height="3.25" fill="#0e0101"/><rect x="466.87" y="29.55" width="3.32" height="3.25" fill="#1f0103"/><rect x="470.19" y="29.55" width="3.32" height="3.25" fill="#3a0305"/><rect x="473.51" y="29.55" width="3.32" height="3.25" fill="#580607"/><rect x="476.83" y="29.55" width="3.32" height="3.25" fill="#6f0c09"/><rect x="480.16" y="29.55" width="3.32" height="3.25" fill="#740d09"/><rect x="483.48" y="29.55" width="3.32" height="3.25" fill="#630808"/><rect x="486.80" y="29.55" width="3.32" height="3.25" fill="#420306"/><rect x="490.12" y="29.55" width="3.32" height="3.25" fill="#240104"/><rect x="493.45" y="29.55" width="3.32" height="3.25" fill="#140102"/><rect x="496.77" y="29.55" width="3.32" height="3.25" fill="#0b0001"/><rect x="500.09" y="29.55" width="3.32" height="3.25" fill="#080001"/><rect x="503.42" y="29.55" width="16.61" height="3.25" fill="#060001"/><rect x="520.03" y="29.55" width="6.65" height="3.25" fill="#080001"/><rect x="526.67" y="29.55" width="3.32" height="3.25" fill="#0e0101"/><rect x="530.00" y="29.55" width="3.32" height="3.25" fill="#140102"/><rect x="533.32" y="29.55" width="3.32" height="3.25" fill="#160102"/><rect x="536.64" y="29.55" width="3.32" height="3.25" fill="#140102"/><rect x="539.96" y="29.55" width="3.32" height="3.25" fill="#0e0101"/><rect x="543.29" y="29.55" width="6.65" height="3.25" fill="#0b0001"/><rect x="549.93" y="29.55" width="6.65" height="3.25" fill="#080001"/><rect x="556.58" y="29.55" width="3.32" height="3.25" fill="#060001"/><rect x="383.80" y="32.79" width="3.32" height="3.25" fill="#110102"/><rect x="387.12" y="32.79" width="6.65" height="3.25" fill="#0b0001"/><rect x="393.77" y="32.79" width="3.32" height="3.25" fill="#160102"/><rect x="397.09" y="32.79" width="3.32" height="3.25" fill="#2d0204"/><rect x="400.41" y="32.79" width="3.32" height="3.25" fill="#3f0306"/><rect x="403.74" y="32.79" width="3.32" height="3.25" fill="#470406"/><rect x="407.06" y="32.79" width="3.32" height="3.25" fill="#4e0407"/><rect x="410.38" y="32.79" width="3.32" height="3.25" fill="#5e0708"/><rect x="413.70" y="32.79" width="3.32" height="3.25" fill="#720c09"/><rect x="417.03" y="32.79" width="3.32" height="3.25" fill="#84100b"/><rect x="420.35" y="32.79" width="3.32" height="3.25" fill="#8c120c"/><rect x="423.67" y="32.79" width="3.32" height="3.25" fill="#87110b"/><rect x="426.99" y="32.79" width="3.32" height="3.25" fill="#790e0a"/><rect x="430.32" y="32.79" width="3.32" height="3.25" fill="#6a0a09"/><rect x="433.64" y="32.79" width="3.32" height="3.25" fill="#5b0707"/><rect x="436.96" y="32.79" width="3.32" height="3.25" fill="#4c0406"/><rect x="440.28" y="32.79" width="3.32" height="3.25" fill="#370205"/><rect x="443.61" y="32.79" width="3.32" height="3.25" fill="#240104"/><rect x="446.93" y="32.79" width="3.32" height="3.25" fill="#140102"/><rect x="450.25" y="32.79" width="3.32" height="3.25" fill="#0b0001"/><rect x="453.58" y="32.79" width="3.32" height="3.25" fill="#060001"/><rect x="456.90" y="32.79" width="3.32" height="3.25" fill="#030000"/><rect x="460.22" y="32.79" width="3.32" height="3.25" fill="#060001"/><rect x="463.54" y="32.79" width="3.32" height="3.25" fill="#080001"/><rect x="466.87" y="32.79" width="3.32" height="3.25" fill="#0e0101"/><rect x="470.19" y="32.79" width="3.32" height="3.25" fill="#1c0103"/><rect x="473.51" y="32.79" width="3.32" height="3.25" fill="#300205"/><rect x="476.83" y="32.79" width="3.32" height="3.25" fill="#4e0407"/><rect x="480.16" y="32.79" width="3.32" height="3.25" fill="#630808"/><rect x="483.48" y="32.79" width="3.32" height="3.25" fill="#5b0707"/><rect x="486.80" y="32.79" width="3.32" height="3.25" fill="#3d0306"/><rect x="490.12" y="32.79" width="3.32" height="3.25" fill="#1f0103"/><rect x="493.45" y="32.79" width="3.32" height="3.25" fill="#0e0101"/><rect x="496.77" y="32.79" width="3.32" height="3.25" fill="#080001"/><rect x="500.09" y="32.79" width="23.26" height="3.25" fill="#060001"/><rect x="523.35" y="32.79" width="3.32" height="3.25" fill="#080001"/><rect x="526.67" y="32.79" width="3.32" height="3.25" fill="#0b0001"/><rect x="530.00" y="32.79" width="3.32" height="3.25" fill="#110102"/><rect x="533.32" y="32.79" width="3.32" height="3.25" fill="#140102"/><rect x="536.64" y="32.79" width="3.32" height="3.25" fill="#110102"/><rect x="539.96" y="32.79" width="3.32" height="3.25" fill="#0e0101"/><rect x="543.29" y="32.79" width="6.65" height="3.25" fill="#0b0001"/><rect x="549.93" y="32.79" width="6.65" height="3.25" fill="#080001"/><rect x="556.58" y="32.79" width="3.32" height="3.25" fill="#060001"/><rect x="383.80" y="36.04" width="3.32" height="3.25" fill="#0e0101"/><rect x="387.12" y="36.04" width="6.65" height="3.25" fill="#080001"/><rect x="393.77" y="36.04" width="3.32" height="3.25" fill="#140102"/><rect x="397.09" y="36.04" width="3.32" height="3.25" fill="#2d0204"/><rect x="400.41" y="36.04" width="3.32" height="3.25" fill="#440406"/><rect x="403.74" y="36.04" width="3.32" height="3.25" fill="#4c0406"/><rect x="407.06" y="36.04" width="3.32" height="3.25" fill="#510507"/><rect x="410.38" y="36.04" width="3.32" height="3.25" fill="#5e0708"/><rect x="413.70" y="36.04" width="3.32" height="3.25" fill="#6d0b09"/><rect x="417.03" y="36.04" width="3.32" height="3.25" fill="#770d0a"/><rect x="420.35" y="36.04" width="3.32" height="3.25" fill="#720c09"/><rect x="423.67" y="36.04" width="3.32" height="3.25" fill="#6d0b09"/><rect x="426.99" y="36.04" width="3.32" height="3.25" fill="#6a0a09"/><rect x="430.32" y="36.04" width="3.32" height="3.25" fill="#630808"/><rect x="433.64" y="36.04" width="3.32" height="3.25" fill="#560507"/><rect x="436.96" y="36.04" width="3.32" height="3.25" fill="#440406"/><rect x="440.28" y="36.04" width="3.32" height="3.25" fill="#300205"/><rect x="443.61" y="36.04" width="3.32" height="3.25" fill="#1f0103"/><rect x="446.93" y="36.04" width="3.32" height="3.25" fill="#110102"/><rect x="450.25" y="36.04" width="3.32" height="3.25" fill="#080001"/><rect x="453.58" y="36.04" width="6.65" height="3.25" fill="#060001"/><rect x="460.22" y="36.04" width="3.32" height="3.25" fill="#0b0001"/><rect x="463.54" y="36.04" width="3.32" height="3.25" fill="#160102"/><rect x="466.87" y="36.04" width="6.65" height="3.25" fill="#220103"/><rect x="473.51" y="36.04" width="3.32" height="3.25" fill="#240104"/><rect x="476.83" y="36.04" width="3.32" height="3.25" fill="#3a0305"/><rect x="480.16" y="36.04" width="3.32" height="3.25" fill="#530507"/><rect x="483.48" y="36.04" width="3.32" height="3.25" fill="#510507"/><rect x="486.80" y="36.04" width="3.32" height="3.25" fill="#350205"/><rect x="490.12" y="36.04" width="3.32" height="3.25" fill="#190103"/><rect x="493.45" y="36.04" width="3.32" height="3.25" fill="#0b0001"/><rect x="496.77" y="36.04" width="26.58" height="3.25" fill="#060001"/><rect x="523.35" y="36.04" width="3.32" height="3.25" fill="#080001"/><rect x="526.67" y="36.04" width="3.32" height="3.25" fill="#0b0001"/><rect x="530.00" y="36.04" width="3.32" height="3.25" fill="#0e0101"/><rect x="533.32" y="36.04" width="6.65" height="3.25" fill="#110102"/><rect x="539.96" y="36.04" width="3.32" height="3.25" fill="#0e0101"/><rect x="543.29" y="36.04" width="3.32" height="3.25" fill="#0b0001"/><rect x="546.61" y="36.04" width="6.65" height="3.25" fill="#080001"/><rect x="553.25" y="36.04" width="6.65" height="3.25" fill="#060001"/><rect x="383.80" y="39.28" width="3.32" height="3.25" fill="#080001"/><rect x="387.12" y="39.28" width="6.65" height="3.25" fill="#060001"/><rect x="393.77" y="39.28" width="3.32" height="3.25" fill="#140102"/><rect x="397.09" y="39.28" width="3.32" height="3.25" fill="#2d0204"/><rect x="400.41" y="39.28" width="3.32" height="3.25" fill="#440406"/><rect x="403.74" y="39.28" width="3.32" height="3.25" fill="#510507"/><rect x="407.06" y="39.28" width="3.32" height="3.25" fill="#560507"/><rect x="410.38" y="39.28" width="3.32" height="3.25" fill="#5e0708"/><rect x="413.70" y="39.28" width="3.32" height="3.25" fill="#630808"/><rect x="417.03" y="39.28" width="3.32" height="3.25" fill="#5e0708"/><rect x="420.35" y="39.28" width="3.32" height="3.25" fill="#510507"/><rect x="423.67" y="39.28" width="3.32" height="3.25" fill="#4c0406"/><rect x="426.99" y="39.28" width="3.32" height="3.25" fill="#530507"/><rect x="430.32" y="39.28" width="3.32" height="3.25" fill="#560507"/><rect x="433.64" y="39.28" width="3.32" height="3.25" fill="#490406"/><rect x="436.96" y="39.28" width="3.32" height="3.25" fill="#350205"/><rect x="440.28" y="39.28" width="3.32" height="3.25" fill="#240104"/><rect x="443.61" y="39.28" width="3.32" height="3.25" fill="#160102"/><rect x="446.93" y="39.28" width="3.32" height="3.25" fill="#0e0101"/><rect x="450.25" y="39.28" width="3.32" height="3.25" fill="#080001"/><rect x="453.58" y="39.28" width="3.32" height="3.25" fill="#060001"/><rect x="456.90" y="39.28" width="3.32" height="3.25" fill="#080001"/><rect x="460.22" y="39.28" width="3.32" height="3.25" fill="#190103"/><rect x="463.54" y="39.28" width="3.32" height="3.25" fill="#3d0306"/><rect x="466.87" y="39.28" width="3.32" height="3.25" fill="#510507"/><rect x="470.19" y="39.28" width="3.32" height="3.25" fill="#3f0306"/><rect x="473.51" y="39.28" width="3.32" height="3.25" fill="#2d0204"/><rect x="476.83" y="39.28" width="3.32" height="3.25" fill="#350205"/><rect x="480.16" y="39.28" width="3.32" height="3.25" fill="#4c0406"/><rect x="483.48" y="39.28" width="3.32" height="3.25" fill="#490406"/><rect x="486.80" y="39.28" width="3.32" height="3.25" fill="#320205"/><rect x="490.12" y="39.28" width="3.32" height="3.25" fill="#160102"/><rect x="493.45" y="39.28" width="3.32" height="3.25" fill="#080001"/><rect x="496.77" y="39.28" width="9.97" height="3.25" fill="#060001"/><rect x="506.74" y="39.28" width="3.32" height="3.25" fill="#080001"/><rect x="510.06" y="39.28" width="13.29" height="3.25" fill="#060001"/><rect x="523.35" y="39.28" width="3.32" height="3.25" fill="#080001"/><rect x="526.67" y="39.28" width="3.32" height="3.25" fill="#0b0001"/><rect x="530.00" y="39.28" width="9.97" height="3.25" fill="#0e0101"/><rect x="539.96" y="39.28" width="6.65" height="3.25" fill="#0b0001"/><rect x="546.61" y="39.28" width="3.32" height="3.25" fill="#080001"/><rect x="549.93" y="39.28" width="9.97" height="3.25" fill="#060001"/><rect x="383.80" y="42.53" width="3.32" height="3.25" fill="#060001"/><rect x="387.12" y="42.53" width="6.65" height="3.25" fill="#030000"/><rect x="393.77" y="42.53" width="3.32" height="3.25" fill="#110102"/><rect x="397.09" y="42.53" width="3.32" height="3.25" fill="#2a0204"/><rect x="400.41" y="42.53" width="3.32" height="3.25" fill="#440406"/><rect x="403.74" y="42.53" width="3.32" height="3.25" fill="#510507"/><rect x="407.06" y="42.53" width="3.32" height="3.25" fill="#580607"/><rect x="410.38" y="42.53" width="6.65" height="3.25" fill="#5b0707"/><rect x="417.03" y="42.53" width="3.32" height="3.25" fill="#4e0407"/><rect x="420.35" y="42.53" width="3.32" height="3.25" fill="#3f0306"/><rect x="423.67" y="42.53" width="3.32" height="3.25" fill="#370205"/><rect x="426.99" y="42.53" width="3.32" height="3.25" fill="#3f0306"/><rect x="430.32" y="42.53" width="3.32" height="3.25" fill="#440406"/><rect x="433.64" y="42.53" width="3.32" height="3.25" fill="#3a0305"/><rect x="436.96" y="42.53" width="3.32" height="3.25" fill="#270204"/><rect x="440.28" y="42.53" width="3.32" height="3.25" fill="#190103"/><rect x="443.61" y="42.53" width="3.32" height="3.25" fill="#110102"/><rect x="446.93" y="42.53" width="3.32" height="3.25" fill="#080001"/><rect x="450.25" y="42.53" width="3.32" height="3.25" fill="#060001"/><rect x="453.58" y="42.53" width="3.32" height="3.25" fill="#080001"/><rect x="456.90" y="42.53" width="3.32" height="3.25" fill="#110102"/><rect x="460.22" y="42.53" width="3.32" height="3.25" fill="#350205"/><rect x="463.54" y="42.53" width="3.32" height="3.25" fill="#6d0b09"/><rect x="466.87" y="42.53" width="3.32" height="3.25" fill="#8c120c"/><rect x="470.19" y="42.53" width="3.32" height="3.25" fill="#6d0b09"/><rect x="473.51" y="42.53" width="3.32" height="3.25" fill="#470406"/><rect x="476.83" y="42.53" width="3.32" height="3.25" fill="#440406"/><rect x="480.16" y="42.53" width="3.32" height="3.25" fill="#560507"/><rect x="483.48" y="42.53" width="3.32" height="3.25" fill="#510507"/><rect x="486.80" y="42.53" width="3.32" height="3.25" fill="#350205"/><rect x="490.12" y="42.53" width="3.32" height="3.25" fill="#190103"/><rect x="493.45" y="42.53" width="3.32" height="3.25" fill="#0b0001"/><rect x="496.77" y="42.53" width="23.26" height="3.25" fill="#060001"/><rect x="520.03" y="42.53" width="6.65" height="3.25" fill="#080001"/><rect x="526.67" y="42.53" width="6.65" height="3.25" fill="#0b0001"/><rect x="533.32" y="42.53" width="3.32" height="3.25" fill="#080001"/><rect x="536.64" y="42.53" width="3.32" height="3.25" fill="#0b0001"/><rect x="539.96" y="42.53" width="6.65" height="3.25" fill="#080001"/><rect x="546.61" y="42.53" width="13.29" height="3.25" fill="#060001"/><rect x="383.80" y="45.77" width="3.32" height="3.25" fill="#060001"/><rect x="387.12" y="45.77" width="6.65" height="3.25" fill="#030000"/><rect x="393.77" y="45.77" width="3.32" height="3.25" fill="#110102"/><rect x="397.09" y="45.77" width="3.32" height="3.25" fill="#2d0204"/><rect x="400.41" y="45.77" width="3.32" height="3.25" fill="#470406"/><rect x="403.74" y="45.77" width="3.32" height="3.25" fill="#530507"/><rect x="407.06" y="45.77" width="3.32" height="3.25" fill="#560507"/><rect x="410.38" y="45.77" width="3.32" height="3.25" fill="#580607"/><rect x="413.70" y="45.77" width="3.32" height="3.25" fill="#5b0707"/><rect x="417.03" y="45.77" width="3.32" height="3.25" fill="#530507"/><rect x="420.35" y="45.77" width="3.32" height="3.25" fill="#470406"/><rect x="423.67" y="45.77" width="3.32" height="3.25" fill="#3f0306"/><rect x="426.99" y="45.77" width="3.32" height="3.25" fill="#3a0305"/><rect x="430.32" y="45.77" width="3.32" height="3.25" fill="#370205"/><rect x="433.64" y="45.77" width="3.32" height="3.25" fill="#2a0204"/><rect x="436.96" y="45.77" width="3.32" height="3.25" fill="#1f0103"/><rect x="440.28" y="45.77" width="3.32" height="3.25" fill="#140102"/><rect x="443.61" y="45.77" width="3.32" height="3.25" fill="#0e0101"/><rect x="446.93" y="45.77" width="3.32" height="3.25" fill="#080001"/><rect x="450.25" y="45.77" width="3.32" height="3.25" fill="#060001"/><rect x="453.58" y="45.77" width="3.32" height="3.25" fill="#0b0001"/><rect x="456.90" y="45.77" width="3.32" height="3.25" fill="#220103"/><rect x="460.22" y="45.77" width="3.32" height="3.25" fill="#510507"/><rect x="463.54" y="45.77" width="3.32" height="3.25" fill="#97140d"/><rect x="466.87" y="45.77" width="3.32" height="3.25" fill="#bf1d11"/><rect x="470.19" y="45.77" width="3.32" height="3.25" fill="#9f160d"/><rect x="473.51" y="45.77" width="3.32" height="3.25" fill="#720c09"/><rect x="476.83" y="45.77" width="3.32" height="3.25" fill="#6d0b09"/><rect x="480.16" y="45.77" width="3.32" height="3.25" fill="#770d0a"/><rect x="483.48" y="45.77" width="3.32" height="3.25" fill="#680a08"/><rect x="486.80" y="45.77" width="3.32" height="3.25" fill="#440406"/><rect x="490.12" y="45.77" width="3.32" height="3.25" fill="#240104"/><rect x="493.45" y="45.77" width="3.32" height="3.25" fill="#110102"/><rect x="496.77" y="45.77" width="3.32" height="3.25" fill="#080001"/><rect x="500.09" y="45.77" width="16.61" height="3.25" fill="#060001"/><rect x="516.71" y="45.77" width="26.58" height="3.25" fill="#080001"/><rect x="543.29" y="45.77" width="16.61" height="3.25" fill="#060001"/><rect x="383.80" y="49.02" width="3.32" height="3.25" fill="#060001"/><rect x="387.12" y="49.02" width="6.65" height="3.25" fill="#030000"/><rect x="393.77" y="49.02" width="3.32" height="3.25" fill="#110102"/><rect x="397.09" y="49.02" width="3.32" height="3.25" fill="#2d0204"/><rect x="400.41" y="49.02" width="3.32" height="3.25" fill="#440406"/><rect x="403.74" y="49.02" width="3.32" height="3.25" fill="#4e0407"/><rect x="407.06" y="49.02" width="3.32" height="3.25" fill="#510507"/><rect x="410.38" y="49.02" width="3.32" height="3.25" fill="#580607"/><rect x="413.70" y="49.02" width="3.32" height="3.25" fill="#600808"/><rect x="417.03" y="49.02" width="3.32" height="3.25" fill="#650908"/><rect x="420.35" y="49.02" width="3.32" height="3.25" fill="#630808"/><rect x="423.67" y="49.02" width="3.32" height="3.25" fill="#580607"/><rect x="426.99" y="49.02" width="3.32" height="3.25" fill="#4c0406"/><rect x="430.32" y="49.02" width="3.32" height="3.25" fill="#3d0306"/><rect x="433.64" y="49.02" width="3.32" height="3.25" fill="#300205"/><rect x="436.96" y="49.02" width="3.32" height="3.25" fill="#220103"/><rect x="440.28" y="49.02" width="3.32" height="3.25" fill="#190103"/><rect x="443.61" y="49.02" width="3.32" height="3.25" fill="#0e0101"/><rect x="446.93" y="49.02" width="3.32" height="3.25" fill="#060001"/><rect x="450.25" y="49.02" width="3.32" height="3.25" fill="#030000"/><rect x="453.58" y="49.02" width="3.32" height="3.25" fill="#0e0101"/><rect x="456.90" y="49.02" width="3.32" height="3.25" fill="#350205"/><rect x="460.22" y="49.02" width="3.32" height="3.25" fill="#740d09"/><rect x="463.54" y="49.02" width="3.32" height="3.25" fill="#bf1d11"/><rect x="466.87" y="49.02" width="3.32" height="3.25" fill="#dc2211"/><rect x="470.19" y="49.02" width="3.32" height="3.25" fill="#d02012"/><rect x="473.51" y="49.02" width="3.32" height="3.25" fill="#af1a0f"/><rect x="476.83" y="49.02" width="3.32" height="3.25" fill="#a7180e"/><rect x="480.16" y="49.02" width="3.32" height="3.25" fill="#a4170e"/><rect x="483.48" y="49.02" width="3.32" height="3.25" fill="#87110b"/><rect x="486.80" y="49.02" width="3.32" height="3.25" fill="#580607"/><rect x="490.12" y="49.02" width="3.32" height="3.25" fill="#300205"/><rect x="493.45" y="49.02" width="3.32" height="3.25" fill="#160102"/><rect x="496.77" y="49.02" width="3.32" height="3.25" fill="#0b0001"/><rect x="500.09" y="49.02" width="3.32" height="3.25" fill="#080001"/><rect x="503.42" y="49.02" width="9.97" height="3.25" fill="#060001"/><rect x="513.38" y="49.02" width="3.32" height="3.25" fill="#080001"/><rect x="516.71" y="49.02" width="3.32" height="3.25" fill="#0e0101"/><rect x="520.03" y="49.02" width="6.65" height="3.25" fill="#110102"/><rect x="526.67" y="49.02" width="3.32" height="3.25" fill="#0e0101"/><rect x="530.00" y="49.02" width="6.65" height="3.25" fill="#0b0001"/><rect x="536.64" y="49.02" width="9.97" height="3.25" fill="#080001"/><rect x="546.61" y="49.02" width="13.29" height="3.25" fill="#060001"/><rect x="383.80" y="52.26" width="3.32" height="3.25" fill="#080001"/><rect x="387.12" y="52.26" width="6.65" height="3.25" fill="#060001"/><rect x="393.77" y="52.26" width="3.32" height="3.25" fill="#110102"/><rect x="397.09" y="52.26" width="3.32" height="3.25" fill="#270204"/><rect x="400.41" y="52.26" width="3.32" height="3.25" fill="#3d0306"/><rect x="403.74" y="52.26" width="3.32" height="3.25" fill="#470406"/><rect x="407.06" y="52.26" width="3.32" height="3.25" fill="#4e0407"/><rect x="410.38" y="52.26" width="3.32" height="3.25" fill="#5b0707"/><rect x="413.70" y="52.26" width="3.32" height="3.25" fill="#6a0a09"/><rect x="417.03" y="52.26" width="3.32" height="3.25" fill="#790e0a"/><rect x="420.35" y="52.26" width="3.32" height="3.25" fill="#84100b"/><rect x="423.67" y="52.26" width="3.32" height="3.25" fill="#87110b"/><rect x="426.99" y="52.26" width="3.32" height="3.25" fill="#7c0f0a"/><rect x="430.32" y="52.26" width="3.32" height="3.25" fill="#6a0a09"/><rect x="433.64" y="52.26" width="3.32" height="3.25" fill="#560507"/><rect x="436.96" y="52.26" width="3.32" height="3.25" fill="#3f0306"/><rect x="440.28" y="52.26" width="3.32" height="3.25" fill="#2a0204"/><rect x="443.61" y="52.26" width="3.32" height="3.25" fill="#160102"/><rect x="446.93" y="52.26" width="3.32" height="3.25" fill="#080001"/><rect x="450.25" y="52.26" width="3.32" height="3.25" fill="#030000"/><rect x="453.58" y="52.26" width="3.32" height="3.25" fill="#140102"/><rect x="456.90" y="52.26" width="3.32" height="3.25" fill="#4e0407"/><rect x="460.22" y="52.26" width="3.32" height="3.25" fill="#a2170e"/><rect x="463.54" y="52.26" width="3.32" height="3.25" fill="#df2211"/><rect x="466.87" y="52.26" width="3.32" height="3.25" fill="#ef2410"/><rect x="470.19" y="52.26" width="3.32" height="3.25" fill="#eb2410"/><rect x="473.51" y="52.26" width="3.32" height="3.25" fill="#e12211"/><rect x="476.83" y="52.26" width="3.32" height="3.25" fill="#d92111"/><rect x="480.16" y="52.26" width="3.32" height="3.25" fill="#cf2012"/><rect x="483.48" y="52.26" width="3.32" height="3.25" fill="#a2170e"/><rect x="486.80" y="52.26" width="3.32" height="3.25" fill="#680a08"/><rect x="490.12" y="52.26" width="3.32" height="3.25" fill="#370205"/><rect x="493.45" y="52.26" width="3.32" height="3.25" fill="#190103"/><rect x="496.77" y="52.26" width="3.32" height="3.25" fill="#0b0001"/><rect x="500.09" y="52.26" width="9.97" height="3.25" fill="#060001"/><rect x="510.06" y="52.26" width="3.32" height="3.25" fill="#0b0001"/><rect x="513.38" y="52.26" width="3.32" height="3.25" fill="#140102"/><rect x="516.71" y="52.26" width="3.32" height="3.25" fill="#1c0103"/><rect x="520.03" y="52.26" width="6.65" height="3.25" fill="#240104"/><rect x="526.67" y="52.26" width="6.65" height="3.25" fill="#220103"/><rect x="533.32" y="52.26" width="3.32" height="3.25" fill="#1c0103"/><rect x="536.64" y="52.26" width="3.32" height="3.25" fill="#190103"/><rect x="539.96" y="52.26" width="3.32" height="3.25" fill="#110102"/><rect x="543.29" y="52.26" width="3.32" height="3.25" fill="#0b0001"/><rect x="546.61" y="52.26" width="3.32" height="3.25" fill="#080001"/><rect x="549.93" y="52.26" width="9.97" height="3.25" fill="#060001"/><rect x="383.80" y="55.51" width="9.97" height="3.25" fill="#080001"/><rect x="393.77" y="55.51" width="3.32" height="3.25" fill="#140102"/><rect x="397.09" y="55.51" width="3.32" height="3.25" fill="#220103"/><rect x="400.41" y="55.51" width="3.32" height="3.25" fill="#320205"/><rect x="403.74" y="55.51" width="3.32" height="3.25" fill="#420306"/><rect x="407.06" y="55.51" width="3.32" height="3.25" fill="#510507"/><rect x="410.38" y="55.51" width="3.32" height="3.25" fill="#630808"/><rect x="413.70" y="55.51" width="3.32" height="3.25" fill="#790e0a"/><rect x="417.03" y="55.51" width="3.32" height="3.25" fill="#91130c"/><rect x="420.35" y="55.51" width="3.32" height="3.25" fill="#aa190e"/><rect x="423.67" y="55.51" width="3.32" height="3.25" fill="#bf1d11"/><rect x="426.99" y="55.51" width="3.32" height="3.25" fill="#ca1f12"/><rect x="430.32" y="55.51" width="3.32" height="3.25" fill="#c21e11"/><rect x="433.64" y="55.51" width="3.32" height="3.25" fill="#a2170e"/><rect x="436.96" y="55.51" width="3.32" height="3.25" fill="#740d09"/><rect x="440.28" y="55.51" width="3.32" height="3.25" fill="#4c0406"/><rect x="443.61" y="55.51" width="3.32" height="3.25" fill="#270204"/><rect x="446.93" y="55.51" width="3.32" height="3.25" fill="#0b0001"/><rect x="450.25" y="55.51" width="3.32" height="3.25" fill="#030000"/><rect x="453.58" y="55.51" width="3.32" height="3.25" fill="#160102"/><rect x="456.90" y="55.51" width="3.32" height="3.25" fill="#650908"/><rect x="460.22" y="55.51" width="3.32" height="3.25" fill="#cd2012"/><rect x="463.54" y="55.51" width="3.32" height="3.25" fill="#f22410"/><rect x="466.87" y="55.51" width="3.32" height="3.25" fill="#fc260f"/><rect x="470.19" y="55.51" width="3.32" height="3.25" fill="#fa250f"/><rect x="473.51" y="55.51" width="3.32" height="3.25" fill="#f42510"/><rect x="476.83" y="55.51" width="3.32" height="3.25" fill="#ed2410"/><rect x="480.16" y="55.51" width="3.32" height="3.25" fill="#e32311"/><rect x="483.48" y="55.51" width="3.32" height="3.25" fill="#b71b10"/><rect x="486.80" y="55.51" width="3.32" height="3.25" fill="#720c09"/><rect x="490.12" y="55.51" width="3.32" height="3.25" fill="#3d0306"/><rect x="493.45" y="55.51" width="3.32" height="3.25" fill="#1c0103"/><rect x="496.77" y="55.51" width="3.32" height="3.25" fill="#0b0001"/><rect x="500.09" y="55.51" width="6.65" height="3.25" fill="#060001"/><rect x="506.74" y="55.51" width="3.32" height="3.25" fill="#0b0001"/><rect x="510.06" y="55.51" width="3.32" height="3.25" fill="#140102"/><rect x="513.38" y="55.51" width="3.32" height="3.25" fill="#240104"/><rect x="516.71" y="55.51" width="3.32" height="3.25" fill="#350205"/><rect x="520.03" y="55.51" width="3.32" height="3.25" fill="#420306"/><rect x="523.35" y="55.51" width="6.65" height="3.25" fill="#470406"/><rect x="530.00" y="55.51" width="3.32" height="3.25" fill="#440406"/><rect x="533.32" y="55.51" width="3.32" height="3.25" fill="#3d0306"/><rect x="536.64" y="55.51" width="3.32" height="3.25" fill="#320205"/><rect x="539.96" y="55.51" width="3.32" height="3.25" fill="#270204"/><rect x="543.29" y="55.51" width="3.32" height="3.25" fill="#160102"/><rect x="546.61" y="55.51" width="3.32" height="3.25" fill="#0b0001"/><rect x="549.93" y="55.51" width="6.65" height="3.25" fill="#030000"/><rect x="556.58" y="55.51" width="3.32" height="3.25" fill="#060001"/><rect x="383.80" y="58.75" width="6.65" height="3.25" fill="#0b0001"/><rect x="390.45" y="58.75" width="3.32" height="3.25" fill="#0e0101"/><rect x="393.77" y="58.75" width="3.32" height="3.25" fill="#160102"/><rect x="397.09" y="58.75" width="3.32" height="3.25" fill="#240104"/><rect x="400.41" y="58.75" width="3.32" height="3.25" fill="#350205"/><rect x="403.74" y="58.75" width="3.32" height="3.25" fill="#470406"/><rect x="407.06" y="58.75" width="3.32" height="3.25" fill="#5b0707"/><rect x="410.38" y="58.75" width="3.32" height="3.25" fill="#720c09"/><rect x="413.70" y="58.75" width="3.32" height="3.25" fill="#8f130c"/><rect x="417.03" y="58.75" width="3.32" height="3.25" fill="#b21a0f"/><rect x="420.35" y="58.75" width="3.32" height="3.25" fill="#d22112"/><rect x="423.67" y="58.75" width="3.32" height="3.25" fill="#e62310"/><rect x="426.99" y="58.75" width="6.65" height="3.25" fill="#f22410"/><rect x="433.64" y="58.75" width="3.32" height="3.25" fill="#e32311"/><rect x="436.96" y="58.75" width="3.32" height="3.25" fill="#b71b10"/><rect x="440.28" y="58.75" width="3.32" height="3.25" fill="#790e0a"/><rect x="443.61" y="58.75" width="3.32" height="3.25" fill="#420306"/><rect x="446.93" y="58.75" width="3.32" height="3.25" fill="#140102"/><rect x="450.25" y="58.75" width="3.32" height="3.25" fill="#030000"/><rect x="453.58" y="58.75" width="3.32" height="3.25" fill="#190103"/><rect x="456.90" y="58.75" width="3.32" height="3.25" fill="#740d09"/><rect x="460.22" y="58.75" width="3.32" height="3.25" fill="#df2211"/><rect x="463.54" y="58.75" width="3.32" height="3.25" fill="#fa250f"/><rect x="466.87" y="58.75" width="3.32" height="3.25" fill="#ff2810"/><rect x="470.19" y="58.75" width="3.32" height="3.25" fill="#ff260f"/><rect x="473.51" y="58.75" width="3.32" height="3.25" fill="#fa250f"/><rect x="476.83" y="58.75" width="3.32" height="3.25" fill="#f7250f"/><rect x="480.16" y="58.75" width="3.32" height="3.25" fill="#ef2410"/><rect x="483.48" y="58.75" width="3.32" height="3.25" fill="#cf2012"/><rect x="486.80" y="58.75" width="3.32" height="3.25" fill="#81100a"/><rect x="490.12" y="58.75" width="3.32" height="3.25" fill="#440406"/><rect x="493.45" y="58.75" width="3.32" height="3.25" fill="#1c0103"/><rect x="496.77" y="58.75" width="3.32" height="3.25" fill="#0b0001"/><rect x="500.09" y="58.75" width="3.32" height="3.25" fill="#060001"/><rect x="503.42" y="58.75" width="3.32" height="3.25" fill="#080001"/><rect x="506.74" y="58.75" width="3.32" height="3.25" fill="#0e0101"/><rect x="510.06" y="58.75" width="3.32" height="3.25" fill="#1f0103"/><rect x="513.38" y="58.75" width="3.32" height="3.25" fill="#320205"/><rect x="516.71" y="58.75" width="3.32" height="3.25" fill="#490406"/><rect x="520.03" y="58.75" width="3.32" height="3.25" fill="#5e0708"/><rect x="523.35" y="58.75" width="6.65" height="3.25" fill="#6a0a09"/><rect x="530.00" y="58.75" width="3.32" height="3.25" fill="#600808"/><rect x="533.32" y="58.75" width="3.32" height="3.25" fill="#560507"/><rect x="536.64" y="58.75" width="3.32" height="3.25" fill="#4c0406"/><rect x="539.96" y="58.75" width="3.32" height="3.25" fill="#3f0306"/><rect x="543.29" y="58.75" width="3.32" height="3.25" fill="#270204"/><rect x="546.61" y="58.75" width="3.32" height="3.25" fill="#0e0101"/><rect x="549.93" y="58.75" width="6.65" height="3.25" fill="#030000"/><rect x="556.58" y="58.75" width="3.32" height="3.25" fill="#060001"/><rect x="383.80" y="62.00" width="6.65" height="3.25" fill="#0b0001"/><rect x="390.45" y="62.00" width="3.32" height="3.25" fill="#110102"/><rect x="393.77" y="62.00" width="3.32" height="3.25" fill="#1c0103"/><rect x="397.09" y="62.00" width="3.32" height="3.25" fill="#2a0204"/><rect x="400.41" y="62.00" width="3.32" height="3.25" fill="#3f0306"/><rect x="403.74" y="62.00" width="3.32" height="3.25" fill="#560507"/><rect x="407.06" y="62.00" width="3.32" height="3.25" fill="#6f0c09"/><rect x="410.38" y="62.00" width="3.32" height="3.25" fill="#8c120c"/><rect x="413.70" y="62.00" width="3.32" height="3.25" fill="#ad190f"/><rect x="417.03" y="62.00" width="3.32" height="3.25" fill="#d22112"/><rect x="420.35" y="62.00" width="3.32" height="3.25" fill="#eb2410"/><rect x="423.67" y="62.00" width="3.32" height="3.25" fill="#fa250f"/><rect x="426.99" y="62.00" width="6.65" height="3.25" fill="#fe2c10"/><rect x="433.64" y="62.00" width="3.32" height="3.25" fill="#f9250f"/><rect x="436.96" y="62.00" width="3.32" height="3.25" fill="#e42311"/><rect x="440.28" y="62.00" width="3.32" height="3.25" fill="#ad190f"/><rect x="443.61" y="62.00" width="3.32" height="3.25" fill="#630808"/><rect x="446.93" y="62.00" width="3.32" height="3.25" fill="#240104"/><rect x="450.25" y="62.00" width="3.32" height="3.25" fill="#080001"/><rect x="453.58" y="62.00" width="3.32" height="3.25" fill="#1c0103"/><rect x="456.90" y="62.00" width="3.32" height="3.25" fill="#740d09"/><rect x="460.22" y="62.00" width="3.32" height="3.25" fill="#df2211"/><rect x="463.54" y="62.00" width="3.32" height="3.25" fill="#fa250f"/><rect x="466.87" y="62.00" width="3.32" height="3.25" fill="#ff2810"/><rect x="470.19" y="62.00" width="3.32" height="3.25" fill="#ff260f"/><rect x="473.51" y="62.00" width="3.32" height="3.25" fill="#fc260f"/><rect x="476.83" y="62.00" width="3.32" height="3.25" fill="#fe260f"/><rect x="480.16" y="62.00" width="3.32" height="3.25" fill="#f7250f"/><rect x="483.48" y="62.00" width="3.32" height="3.25" fill="#de2211"/><rect x="486.80" y="62.00" width="3.32" height="3.25" fill="#8f130c"/><rect x="490.12" y="62.00" width="3.32" height="3.25" fill="#490406"/><rect x="493.45" y="62.00" width="3.32" height="3.25" fill="#1c0103"/><rect x="496.77" y="62.00" width="3.32" height="3.25" fill="#0b0001"/><rect x="500.09" y="62.00" width="3.32" height="3.25" fill="#060001"/><rect x="503.42" y="62.00" width="3.32" height="3.25" fill="#0b0001"/><rect x="506.74" y="62.00" width="3.32" height="3.25" fill="#140102"/><rect x="510.06" y="62.00" width="3.32" height="3.25" fill="#270204"/><rect x="513.38" y="62.00" width="3.32" height="3.25" fill="#3d0306"/><rect x="516.71" y="62.00" width="3.32" height="3.25" fill="#560507"/><rect x="520.03" y="62.00" width="3.32" height="3.25" fill="#6f0c09"/><rect x="523.35" y="62.00" width="3.32" height="3.25" fill="#84100b"/><rect x="526.67" y="62.00" width="3.32" height="3.25" fill="#81100a"/><rect x="530.00" y="62.00" width="3.32" height="3.25" fill="#6d0b09"/><rect x="533.32" y="62.00" width="3.32" height="3.25" fill="#600808"/><rect x="536.64" y="62.00" width="3.32" height="3.25" fill="#5e0708"/><rect x="539.96" y="62.00" width="3.32" height="3.25" fill="#530507"/><rect x="543.29" y="62.00" width="3.32" height="3.25" fill="#320205"/><rect x="546.61" y="62.00" width="3.32" height="3.25" fill="#110102"/><rect x="549.93" y="62.00" width="6.65" height="3.25" fill="#030000"/><rect x="556.58" y="62.00" width="3.32" height="3.25" fill="#060001"/><rect x="383.80" y="65.24" width="3.32" height="3.25" fill="#0e0101"/><rect x="387.12" y="65.24" width="3.32" height="3.25" fill="#110102"/><rect x="390.45" y="65.24" width="3.32" height="3.25" fill="#140102"/><rect x="393.77" y="65.24" width="3.32" height="3.25" fill="#1f0103"/><rect x="397.09" y="65.24" width="3.32" height="3.25" fill="#300205"/><rect x="400.41" y="65.24" width="3.32" height="3.25" fill="#440406"/><rect x="403.74" y="65.24" width="3.32" height="3.25" fill="#630808"/><rect x="407.06" y="65.24" width="3.32" height="3.25" fill="#87110b"/><rect x="410.38" y="65.24" width="3.32" height="3.25" fill="#af1a0f"/><rect x="413.70" y="65.24" width="3.32" height="3.25" fill="#d42112"/><rect x="417.03" y="65.24" width="3.32" height="3.25" fill="#eb2410"/><rect x="420.35" y="65.24" width="3.32" height="3.25" fill="#fa250f"/><rect x="423.67" y="65.24" width="3.32" height="3.25" fill="#fd3011"/><rect x="426.99" y="65.24" width="6.65" height="3.25" fill="#fc3813"/><rect x="433.64" y="65.24" width="3.32" height="3.25" fill="#fe2e11"/><rect x="436.96" y="65.24" width="3.32" height="3.25" fill="#f52510"/><rect x="440.28" y="65.24" width="3.32" height="3.25" fill="#d52111"/><rect x="443.61" y="65.24" width="3.32" height="3.25" fill="#89120b"/><rect x="446.93" y="65.24" width="3.32" height="3.25" fill="#3d0306"/><rect x="450.25" y="65.24" width="3.32" height="3.25" fill="#110102"/><rect x="453.58" y="65.24" width="3.32" height="3.25" fill="#1f0103"/><rect x="456.90" y="65.24" width="3.32" height="3.25" fill="#680a08"/><rect x="460.22" y="65.24" width="3.32" height="3.25" fill="#cf2012"/><rect x="463.54" y="65.24" width="3.32" height="3.25" fill="#f42510"/><rect x="466.87" y="65.24" width="3.32" height="3.25" fill="#ff260f"/><rect x="470.19" y="65.24" width="6.65" height="3.25" fill="#fe2a10"/><rect x="476.83" y="65.24" width="3.32" height="3.25" fill="#fe2c10"/><rect x="480.16" y="65.24" width="3.32" height="3.25" fill="#fe260f"/><rect x="483.48" y="65.24" width="3.32" height="3.25" fill="#e32311"/><rect x="486.80" y="65.24" width="3.32" height="3.25" fill="#8f130c"/><rect x="490.12" y="65.24" width="3.32" height="3.25" fill="#440406"/><rect x="493.45" y="65.24" width="3.32" height="3.25" fill="#1c0103"/><rect x="496.77" y="65.24" width="3.32" height="3.25" fill="#0b0001"/><rect x="500.09" y="65.24" width="3.32" height="3.25" fill="#080001"/><rect x="503.42" y="65.24" width="3.32" height="3.25" fill="#110102"/><rect x="506.74" y="65.24" width="3.32" height="3.25" fill="#220103"/><rect x="510.06" y="65.24" width="3.32" height="3.25" fill="#350205"/><rect x="513.38" y="65.24" width="3.32" height="3.25" fill="#4c0406"/><rect x="516.71" y="65.24" width="3.32" height="3.25" fill="#600808"/><rect x="520.03" y="65.24" width="3.32" height="3.25" fill="#790e0a"/><rect x="523.35" y="65.24" width="3.32" height="3.25" fill="#8f130c"/><rect x="526.67" y="65.24" width="3.32" height="3.25" fill="#8c120c"/><rect x="530.00" y="65.24" width="3.32" height="3.25" fill="#770d0a"/><rect x="533.32" y="65.24" width="3.32" height="3.25" fill="#680a08"/><rect x="536.64" y="65.24" width="3.32" height="3.25" fill="#650908"/><rect x="539.96" y="65.24" width="3.32" height="3.25" fill="#580607"/><rect x="543.29" y="65.24" width="3.32" height="3.25" fill="#370205"/><rect x="546.61" y="65.24" width="3.32" height="3.25" fill="#140102"/><rect x="549.93" y="65.24" width="3.32" height="3.25" fill="#030000"/><rect x="553.25" y="65.24" width="3.32" height="3.25" fill="#000000"/><rect x="556.58" y="65.24" width="3.32" height="3.25" fill="#060001"/><rect x="383.80" y="68.49" width="3.32" height="3.25" fill="#110102"/><rect x="387.12" y="68.49" width="3.32" height="3.25" fill="#140102"/><rect x="390.45" y="68.49" width="3.32" height="3.25" fill="#190103"/><rect x="393.77" y="68.49" width="3.32" height="3.25" fill="#1f0103"/><rect x="397.09" y="68.49" width="3.32" height="3.25" fill="#2a0204"/><rect x="400.41" y="68.49" width="3.32" height="3.25" fill="#3d0306"/><rect x="403.74" y="68.49" width="3.32" height="3.25" fill="#600808"/><rect x="407.06" y="68.49" width="3.32" height="3.25" fill="#91130c"/><rect x="410.38" y="68.49" width="3.32" height="3.25" fill="#cd2012"/><rect x="413.70" y="68.49" width="3.32" height="3.25" fill="#ed2410"/><rect x="417.03" y="68.49" width="3.32" height="3.25" fill="#fc260f"/><rect x="420.35" y="68.49" width="3.32" height="3.25" fill="#fe2e11"/><rect x="423.67" y="68.49" width="3.32" height="3.25" fill="#fc3613"/><rect x="426.99" y="68.49" width="3.32" height="3.25" fill="#fb3d14"/><rect x="430.32" y="68.49" width="3.32" height="3.25" fill="#fb3f15"/><rect x="433.64" y="68.49" width="3.32" height="3.25" fill="#fc3613"/><rect x="436.96" y="68.49" width="3.32" height="3.25" fill="#fc260f"/><rect x="440.28" y="68.49" width="3.32" height="3.25" fill="#e62310"/><rect x="443.61" y="68.49" width="3.32" height="3.25" fill="#ad190f"/><rect x="446.93" y="68.49" width="3.32" height="3.25" fill="#580607"/><rect x="450.25" y="68.49" width="3.32" height="3.25" fill="#220103"/><rect x="453.58" y="68.49" width="3.32" height="3.25" fill="#1c0103"/><rect x="456.90" y="68.49" width="3.32" height="3.25" fill="#4e0407"/><rect x="460.22" y="68.49" width="3.32" height="3.25" fill="#a2170e"/><rect x="463.54" y="68.49" width="3.32" height="3.25" fill="#e82310"/><rect x="466.87" y="68.49" width="3.32" height="3.25" fill="#fe2a10"/><rect x="470.19" y="68.49" width="3.32" height="3.25" fill="#fc3813"/><rect x="473.51" y="68.49" width="3.32" height="3.25" fill="#fc3a13"/><rect x="476.83" y="68.49" width="3.32" height="3.25" fill="#fc3813"/><rect x="480.16" y="68.49" width="3.32" height="3.25" fill="#ff2810"/><rect x="483.48" y="68.49" width="3.32" height="3.25" fill="#da2211"/><rect x="486.80" y="68.49" width="3.32" height="3.25" fill="#790e0a"/><rect x="490.12" y="68.49" width="3.32" height="3.25" fill="#370205"/><rect x="493.45" y="68.49" width="3.32" height="3.25" fill="#190103"/><rect x="496.77" y="68.49" width="6.65" height="3.25" fill="#0e0101"/><rect x="503.42" y="68.49" width="3.32" height="3.25" fill="#190103"/><rect x="506.74" y="68.49" width="3.32" height="3.25" fill="#320205"/><rect x="510.06" y="68.49" width="3.32" height="3.25" fill="#4e0407"/><rect x="513.38" y="68.49" width="3.32" height="3.25" fill="#600808"/><rect x="516.71" y="68.49" width="3.32" height="3.25" fill="#6d0b09"/><rect x="520.03" y="68.49" width="3.32" height="3.25" fill="#7c0f0a"/><rect x="523.35" y="68.49" width="3.32" height="3.25" fill="#89120b"/><rect x="526.67" y="68.49" width="3.32" height="3.25" fill="#8c120c"/><rect x="530.00" y="68.49" width="3.32" height="3.25" fill="#7f0f0a"/><rect x="533.32" y="68.49" width="3.32" height="3.25" fill="#6f0c09"/><rect x="536.64" y="68.49" width="3.32" height="3.25" fill="#630808"/><rect x="539.96" y="68.49" width="3.32" height="3.25" fill="#4e0407"/><rect x="543.29" y="68.49" width="3.32" height="3.25" fill="#300205"/><rect x="546.61" y="68.49" width="3.32" height="3.25" fill="#110102"/><rect x="549.93" y="68.49" width="6.65" height="3.25" fill="#030000"/><rect x="556.58" y="68.49" width="3.32" height="3.25" fill="#060001"/><rect x="383.80" y="71.73" width="3.32" height="3.25" fill="#110102"/><rect x="387.12" y="71.73" width="3.32" height="3.25" fill="#140102"/><rect x="390.45" y="71.73" width="3.32" height="3.25" fill="#190103"/><rect x="393.77" y="71.73" width="3.32" height="3.25" fill="#1c0103"/><rect x="397.09" y="71.73" width="3.32" height="3.25" fill="#220103"/><rect x="400.41" y="71.73" width="3.32" height="3.25" fill="#300205"/><rect x="403.74" y="71.73" width="3.32" height="3.25" fill="#490406"/><rect x="407.06" y="71.73" width="3.32" height="3.25" fill="#790e0a"/><rect x="410.38" y="71.73" width="3.32" height="3.25" fill="#c81f11"/><rect x="413.70" y="71.73" width="3.32" height="3.25" fill="#f52510"/><rect x="417.03" y="71.73" width="3.32" height="3.25" fill="#fd3011"/><rect x="420.35" y="71.73" width="3.32" height="3.25" fill="#fd3412"/><rect x="423.67" y="71.73" width="3.32" height="3.25" fill="#fc3813"/><rect x="426.99" y="71.73" width="3.32" height="3.25" fill="#fa4115"/><rect x="430.32" y="71.73" width="3.32" height="3.25" fill="#fa4516"/><rect x="433.64" y="71.73" width="3.32" height="3.25" fill="#fb3b14"/><rect x="436.96" y="71.73" width="3.32" height="3.25" fill="#ff2810"/><rect x="440.28" y="71.73" width="3.32" height="3.25" fill="#ed2410"/><rect x="443.61" y="71.73" width="3.32" height="3.25" fill="#c21e11"/><rect x="446.93" y="71.73" width="3.32" height="3.25" fill="#6a0a09"/><rect x="450.25" y="71.73" width="3.32" height="3.25" fill="#2a0204"/><rect x="453.58" y="71.73" width="3.32" height="3.25" fill="#190103"/><rect x="456.90" y="71.73" width="3.32" height="3.25" fill="#370205"/><rect x="460.22" y="71.73" width="3.32" height="3.25" fill="#7c0f0a"/><rect x="463.54" y="71.73" width="3.32" height="3.25" fill="#da2211"/><rect x="466.87" y="71.73" width="3.32" height="3.25" fill="#fe2a10"/><rect x="470.19" y="71.73" width="3.32" height="3.25" fill="#fb3f15"/><rect x="473.51" y="71.73" width="3.32" height="3.25" fill="#fa4516"/><rect x="476.83" y="71.73" width="3.32" height="3.25" fill="#fb3f15"/><rect x="480.16" y="71.73" width="3.32" height="3.25" fill="#ff2810"/><rect x="483.48" y="71.73" width="3.32" height="3.25" fill="#d22112"/><rect x="486.80" y="71.73" width="3.32" height="3.25" fill="#680a08"/><rect x="490.12" y="71.73" width="3.32" height="3.25" fill="#2a0204"/><rect x="493.45" y="71.73" width="3.32" height="3.25" fill="#140102"/><rect x="496.77" y="71.73" width="3.32" height="3.25" fill="#0b0001"/><rect x="500.09" y="71.73" width="3.32" height="3.25" fill="#0e0101"/><rect x="503.42" y="71.73" width="3.32" height="3.25" fill="#1c0103"/><rect x="506.74" y="71.73" width="3.32" height="3.25" fill="#3f0306"/><rect x="510.06" y="71.73" width="3.32" height="3.25" fill="#650908"/><rect x="513.38" y="71.73" width="6.65" height="3.25" fill="#770d0a"/><rect x="520.03" y="71.73" width="3.32" height="3.25" fill="#790e0a"/><rect x="523.35" y="71.73" width="3.32" height="3.25" fill="#81100a"/><rect x="526.67" y="71.73" width="3.32" height="3.25" fill="#84100b"/><rect x="530.00" y="71.73" width="3.32" height="3.25" fill="#7f0f0a"/><rect x="533.32" y="71.73" width="3.32" height="3.25" fill="#720c09"/><rect x="536.64" y="71.73" width="3.32" height="3.25" fill="#5b0707"/><rect x="539.96" y="71.73" width="3.32" height="3.25" fill="#420306"/><rect x="543.29" y="71.73" width="3.32" height="3.25" fill="#270204"/><rect x="546.61" y="71.73" width="3.32" height="3.25" fill="#110102"/><rect x="549.93" y="71.73" width="9.97" height="3.25" fill="#060001"/><rect x="383.80" y="74.98" width="9.97" height="3.25" fill="#110102"/><rect x="393.77" y="74.98" width="3.32" height="3.25" fill="#140102"/><rect x="397.09" y="74.98" width="3.32" height="3.25" fill="#160102"/><rect x="400.41" y="74.98" width="3.32" height="3.25" fill="#1c0103"/><rect x="403.74" y="74.98" width="3.32" height="3.25" fill="#270204"/><rect x="407.06" y="74.98" width="3.32" height="3.25" fill="#470406"/><rect x="410.38" y="74.98" width="3.32" height="3.25" fill="#94140c"/><rect x="413.70" y="74.98" width="3.32" height="3.25" fill="#ed2410"/><rect x="417.03" y="74.98" width="3.32" height="3.25" fill="#fd3212"/><rect x="420.35" y="74.98" width="3.32" height="3.25" fill="#fc3613"/><rect x="423.67" y="74.98" width="3.32" height="3.25" fill="#fc3813"/><rect x="426.99" y="74.98" width="3.32" height="3.25" fill="#fa4115"/><rect x="430.32" y="74.98" width="3.32" height="3.25" fill="#f94717"/><rect x="433.64" y="74.98" width="3.32" height="3.25" fill="#fb3f15"/><rect x="436.96" y="74.98" width="3.32" height="3.25" fill="#fe2c10"/><rect x="440.28" y="74.98" width="3.32" height="3.25" fill="#ef2410"/><rect x="443.61" y="74.98" width="3.32" height="3.25" fill="#bf1d11"/><rect x="446.93" y="74.98" width="3.32" height="3.25" fill="#650908"/><rect x="450.25" y="74.98" width="3.32" height="3.25" fill="#240104"/><rect x="453.58" y="74.98" width="3.32" height="3.25" fill="#140102"/><rect x="456.90" y="74.98" width="3.32" height="3.25" fill="#2a0204"/><rect x="460.22" y="74.98" width="3.32" height="3.25" fill="#680a08"/><rect x="463.54" y="74.98" width="3.32" height="3.25" fill="#cd2012"/><rect x="466.87" y="74.98" width="3.32" height="3.25" fill="#fc260f"/><rect x="470.19" y="74.98" width="3.32" height="3.25" fill="#fb3b14"/><rect x="473.51" y="74.98" width="3.32" height="3.25" fill="#fa4316"/><rect x="476.83" y="74.98" width="3.32" height="3.25" fill="#fb3d14"/><rect x="480.16" y="74.98" width="3.32" height="3.25" fill="#ff260f"/><rect x="483.48" y="74.98" width="3.32" height="3.25" fill="#cf2012"/><rect x="486.80" y="74.98" width="3.32" height="3.25" fill="#630808"/><rect x="490.12" y="74.98" width="3.32" height="3.25" fill="#240104"/><rect x="493.45" y="74.98" width="3.32" height="3.25" fill="#0e0101"/><rect x="496.77" y="74.98" width="3.32" height="3.25" fill="#060001"/><rect x="500.09" y="74.98" width="3.32" height="3.25" fill="#080001"/><rect x="503.42" y="74.98" width="3.32" height="3.25" fill="#1c0103"/><rect x="506.74" y="74.98" width="3.32" height="3.25" fill="#420306"/><rect x="510.06" y="74.98" width="3.32" height="3.25" fill="#6d0b09"/><rect x="513.38" y="74.98" width="3.32" height="3.25" fill="#7f0f0a"/><rect x="516.71" y="74.98" width="3.32" height="3.25" fill="#790e0a"/><rect x="520.03" y="74.98" width="3.32" height="3.25" fill="#740d09"/><rect x="523.35" y="74.98" width="6.65" height="3.25" fill="#770d0a"/><rect x="530.00" y="74.98" width="3.32" height="3.25" fill="#740d09"/><rect x="533.32" y="74.98" width="3.32" height="3.25" fill="#6a0a09"/><rect x="536.64" y="74.98" width="3.32" height="3.25" fill="#530507"/><rect x="539.96" y="74.98" width="3.32" height="3.25" fill="#3d0306"/><rect x="543.29" y="74.98" width="3.32" height="3.25" fill="#240104"/><rect x="546.61" y="74.98" width="3.32" height="3.25" fill="#110102"/><rect x="549.93" y="74.98" width="3.32" height="3.25" fill="#080001"/><rect x="553.25" y="74.98" width="3.32" height="3.25" fill="#060001"/><rect x="556.58" y="74.98" width="3.32" height="3.25" fill="#080001"/><rect x="383.80" y="78.22" width="3.32" height="3.25" fill="#0e0101"/><rect x="387.12" y="78.22" width="6.65" height="3.25" fill="#0b0001"/><rect x="393.77" y="78.22" width="9.97" height="3.25" fill="#0e0101"/><rect x="403.74" y="78.22" width="3.32" height="3.25" fill="#0b0001"/><rect x="407.06" y="78.22" width="3.32" height="3.25" fill="#1c0103"/><rect x="410.38" y="78.22" width="3.32" height="3.25" fill="#680a08"/><rect x="413.70" y="78.22" width="3.32" height="3.25" fill="#e12211"/><rect x="417.03" y="78.22" width="3.32" height="3.25" fill="#fd3011"/><rect x="420.35" y="78.22" width="6.65" height="3.25" fill="#fc3613"/><rect x="426.99" y="78.22" width="3.32" height="3.25" fill="#fb3f15"/><rect x="430.32" y="78.22" width="3.32" height="3.25" fill="#fa4516"/><rect x="433.64" y="78.22" width="3.32" height="3.25" fill="#fb3d14"/><rect x="436.96" y="78.22" width="3.32" height="3.25" fill="#ff2810"/><rect x="440.28" y="78.22" width="3.32" height="3.25" fill="#e82310"/><rect x="443.61" y="78.22" width="3.32" height="3.25" fill="#aa190e"/><rect x="446.93" y="78.22" width="3.32" height="3.25" fill="#530507"/><rect x="450.25" y="78.22" width="3.32" height="3.25" fill="#190103"/><rect x="453.58" y="78.22" width="3.32" height="3.25" fill="#0b0001"/><rect x="456.90" y="78.22" width="3.32" height="3.25" fill="#220103"/><rect x="460.22" y="78.22" width="3.32" height="3.25" fill="#5b0707"/><rect x="463.54" y="78.22" width="3.32" height="3.25" fill="#ba1c10"/><rect x="466.87" y="78.22" width="3.32" height="3.25" fill="#f22410"/><rect x="470.19" y="78.22" width="3.32" height="3.25" fill="#fd3011"/><rect x="473.51" y="78.22" width="3.32" height="3.25" fill="#fc3613"/><rect x="476.83" y="78.22" width="3.32" height="3.25" fill="#fd3212"/><rect x="480.16" y="78.22" width="3.32" height="3.25" fill="#f9250f"/><rect x="483.48" y="78.22" width="3.32" height="3.25" fill="#cd2012"/><rect x="486.80" y="78.22" width="3.32" height="3.25" fill="#6a0a09"/><rect x="490.12" y="78.22" width="3.32" height="3.25" fill="#2a0204"/><rect x="493.45" y="78.22" width="3.32" height="3.25" fill="#0e0101"/><rect x="496.77" y="78.22" width="3.32" height="3.25" fill="#060001"/><rect x="500.09" y="78.22" width="3.32" height="3.25" fill="#080001"/><rect x="503.42" y="78.22" width="3.32" height="3.25" fill="#1c0103"/><rect x="506.74" y="78.22" width="3.32" height="3.25" fill="#420306"/><rect x="510.06" y="78.22" width="3.32" height="3.25" fill="#650908"/><rect x="513.38" y="78.22" width="3.32" height="3.25" fill="#6f0c09"/><rect x="516.71" y="78.22" width="3.32" height="3.25" fill="#6a0a09"/><rect x="520.03" y="78.22" width="6.65" height="3.25" fill="#650908"/><rect x="526.67" y="78.22" width="3.32" height="3.25" fill="#680a08"/><rect x="530.00" y="78.22" width="3.32" height="3.25" fill="#6a0a09"/><rect x="533.32" y="78.22" width="3.32" height="3.25" fill="#650908"/><rect x="536.64" y="78.22" width="3.32" height="3.25" fill="#580607"/><rect x="539.96" y="78.22" width="3.32" height="3.25" fill="#420306"/><rect x="543.29" y="78.22" width="3.32" height="3.25" fill="#270204"/><rect x="546.61" y="78.22" width="3.32" height="3.25" fill="#110102"/><rect x="549.93" y="78.22" width="3.32" height="3.25" fill="#060001"/><rect x="553.25" y="78.22" width="3.32" height="3.25" fill="#030000"/><rect x="556.58" y="78.22" width="3.32" height="3.25" fill="#060001"/><rect x="383.80" y="81.47" width="3.32" height="3.25" fill="#0e0101"/><rect x="387.12" y="81.47" width="3.32" height="3.25" fill="#110102"/><rect x="390.45" y="81.47" width="3.32" height="3.25" fill="#140102"/><rect x="393.77" y="81.47" width="3.32" height="3.25" fill="#110102"/><rect x="397.09" y="81.47" width="3.32" height="3.25" fill="#0b0001"/><rect x="400.41" y="81.47" width="6.65" height="3.25" fill="#060001"/><rect x="407.06" y="81.47" width="3.32" height="3.25" fill="#140102"/><rect x="410.38" y="81.47" width="3.32" height="3.25" fill="#600808"/><rect x="413.70" y="81.47" width="3.32" height="3.25" fill="#de2211"/><rect x="417.03" y="81.47" width="3.32" height="3.25" fill="#fe2e11"/><rect x="420.35" y="81.47" width="6.65" height="3.25" fill="#fc3613"/><rect x="426.99" y="81.47" width="3.32" height="3.25" fill="#fb3b14"/><rect x="430.32" y="81.47" width="3.32" height="3.25" fill="#fb3d14"/><rect x="433.64" y="81.47" width="3.32" height="3.25" fill="#fd3011"/><rect x="436.96" y="81.47" width="3.32" height="3.25" fill="#f42510"/><rect x="440.28" y="81.47" width="3.32" height="3.25" fill="#d02012"/><rect x="443.61" y="81.47" width="3.32" height="3.25" fill="#81100a"/><rect x="446.93" y="81.47" width="3.32" height="3.25" fill="#3d0306"/><rect x="450.25" y="81.47" width="3.32" height="3.25" fill="#110102"/><rect x="453.58" y="81.47" width="3.32" height="3.25" fill="#080001"/><rect x="456.90" y="81.47" width="3.32" height="3.25" fill="#190103"/><rect x="460.22" y="81.47" width="3.32" height="3.25" fill="#4c0406"/><rect x="463.54" y="81.47" width="3.32" height="3.25" fill="#9f160d"/><rect x="466.87" y="81.47" width="3.32" height="3.25" fill="#e42311"/><rect x="470.19" y="81.47" width="3.32" height="3.25" fill="#f7250f"/><rect x="473.51" y="81.47" width="3.32" height="3.25" fill="#fc260f"/><rect x="476.83" y="81.47" width="3.32" height="3.25" fill="#f9250f"/><rect x="480.16" y="81.47" width="3.32" height="3.25" fill="#e92310"/><rect x="483.48" y="81.47" width="3.32" height="3.25" fill="#bf1d11"/><rect x="486.80" y="81.47" width="3.32" height="3.25" fill="#740d09"/><rect x="490.12" y="81.47" width="3.32" height="3.25" fill="#3a0305"/><rect x="493.45" y="81.47" width="3.32" height="3.25" fill="#160102"/><rect x="496.77" y="81.47" width="3.32" height="3.25" fill="#0e0101"/><rect x="500.09" y="81.47" width="3.32" height="3.25" fill="#160102"/><rect x="503.42" y="81.47" width="3.32" height="3.25" fill="#2d0204"/><rect x="506.74" y="81.47" width="3.32" height="3.25" fill="#420306"/><rect x="510.06" y="81.47" width="6.65" height="3.25" fill="#4e0407"/><rect x="516.71" y="81.47" width="6.65" height="3.25" fill="#470406"/><rect x="523.35" y="81.47" width="3.32" height="3.25" fill="#510507"/><rect x="526.67" y="81.47" width="3.32" height="3.25" fill="#5e0708"/><rect x="530.00" y="81.47" width="3.32" height="3.25" fill="#6a0a09"/><rect x="533.32" y="81.47" width="6.65" height="3.25" fill="#720c09"/><rect x="539.96" y="81.47" width="3.32" height="3.25" fill="#600808"/><rect x="543.29" y="81.47" width="3.32" height="3.25" fill="#350205"/><rect x="546.61" y="81.47" width="3.32" height="3.25" fill="#0e0101"/><rect x="549.93" y="81.47" width="6.65" height="3.25" fill="#000000"/><rect x="556.58" y="81.47" width="3.32" height="3.25" fill="#030000"/><rect x="383.80" y="84.72" width="3.32" height="3.25" fill="#160102"/><rect x="387.12" y="84.72" width="3.32" height="3.25" fill="#220103"/><rect x="390.45" y="84.72" width="3.32" height="3.25" fill="#2d0204"/><rect x="393.77" y="84.72" width="3.32" height="3.25" fill="#270204"/><rect x="397.09" y="84.72" width="3.32" height="3.25" fill="#190103"/><rect x="400.41" y="84.72" width="3.32" height="3.25" fill="#110102"/><rect x="403.74" y="84.72" width="3.32" height="3.25" fill="#140102"/><rect x="407.06" y="84.72" width="3.32" height="3.25" fill="#2d0204"/><rect x="410.38" y="84.72" width="3.32" height="3.25" fill="#770d0a"/><rect x="413.70" y="84.72" width="3.32" height="3.25" fill="#e32311"/><rect x="417.03" y="84.72" width="3.32" height="3.25" fill="#fe2c10"/><rect x="420.35" y="84.72" width="6.65" height="3.25" fill="#fc3613"/><rect x="426.99" y="84.72" width="3.32" height="3.25" fill="#fc3a13"/><rect x="430.32" y="84.72" width="3.32" height="3.25" fill="#fc3613"/><rect x="433.64" y="84.72" width="3.32" height="3.25" fill="#fc260f"/><rect x="436.96" y="84.72" width="3.32" height="3.25" fill="#df2211"/><rect x="440.28" y="84.72" width="3.32" height="3.25" fill="#9f160d"/><rect x="443.61" y="84.72" width="3.32" height="3.25" fill="#5b0707"/><rect x="446.93" y="84.72" width="3.32" height="3.25" fill="#2a0204"/><rect x="450.25" y="84.72" width="3.32" height="3.25" fill="#0b0001"/><rect x="453.58" y="84.72" width="3.32" height="3.25" fill="#060001"/><rect x="456.90" y="84.72" width="3.32" height="3.25" fill="#110102"/><rect x="460.22" y="84.72" width="3.32" height="3.25" fill="#3a0305"/><rect x="463.54" y="84.72" width="3.32" height="3.25" fill="#81100a"/><rect x="466.87" y="84.72" width="3.32" height="3.25" fill="#cd2012"/><rect x="470.19" y="84.72" width="3.32" height="3.25" fill="#e42311"/><rect x="473.51" y="84.72" width="3.32" height="3.25" fill="#e82310"/><rect x="476.83" y="84.72" width="3.32" height="3.25" fill="#e12211"/><rect x="480.16" y="84.72" width="3.32" height="3.25" fill="#d02012"/><rect x="483.48" y="84.72" width="3.32" height="3.25" fill="#ad190f"/><rect x="486.80" y="84.72" width="3.32" height="3.25" fill="#7c0f0a"/><rect x="490.12" y="84.72" width="3.32" height="3.25" fill="#4e0407"/><rect x="493.45" y="84.72" width="3.32" height="3.25" fill="#2a0204"/><rect x="496.77" y="84.72" width="3.32" height="3.25" fill="#1f0103"/><rect x="500.09" y="84.72" width="3.32" height="3.25" fill="#2d0204"/><rect x="503.42" y="84.72" width="3.32" height="3.25" fill="#420306"/><rect x="506.74" y="84.72" width="3.32" height="3.25" fill="#440406"/><rect x="510.06" y="84.72" width="3.32" height="3.25" fill="#3a0305"/><rect x="513.38" y="84.72" width="3.32" height="3.25" fill="#2d0204"/><rect x="516.71" y="84.72" width="3.32" height="3.25" fill="#270204"/><rect x="520.03" y="84.72" width="3.32" height="3.25" fill="#320205"/><rect x="523.35" y="84.72" width="3.32" height="3.25" fill="#4c0406"/><rect x="526.67" y="84.72" width="3.32" height="3.25" fill="#6d0b09"/><rect x="530.00" y="84.72" width="3.32" height="3.25" fill="#8c120c"/><rect x="533.32" y="84.72" width="3.32" height="3.25" fill="#aa190e"/><rect x="536.64" y="84.72" width="3.32" height="3.25" fill="#b71b10"/><rect x="539.96" y="84.72" width="3.32" height="3.25" fill="#9f160d"/><rect x="543.29" y="84.72" width="3.32" height="3.25" fill="#5b0707"/><rect x="546.61" y="84.72" width="3.32" height="3.25" fill="#1c0103"/><rect x="549.93" y="84.72" width="6.65" height="3.25" fill="#000000"/><rect x="556.58" y="84.72" width="3.32" height="3.25" fill="#030000"/><rect x="383.80" y="87.96" width="3.32" height="3.25" fill="#300205"/><rect x="387.12" y="87.96" width="3.32" height="3.25" fill="#3d0306"/><rect x="390.45" y="87.96" width="3.32" height="3.25" fill="#4e0407"/><rect x="393.77" y="87.96" width="6.65" height="3.25" fill="#530507"/><rect x="400.41" y="87.96" width="3.32" height="3.25" fill="#510507"/><rect x="403.74" y="87.96" width="3.32" height="3.25" fill="#530507"/><rect x="407.06" y="87.96" width="3.32" height="3.25" fill="#6d0b09"/><rect x="410.38" y="87.96" width="3.32" height="3.25" fill="#ad190f"/><rect x="413.70" y="87.96" width="3.32" height="3.25" fill="#eb2410"/><rect x="417.03" y="87.96" width="3.32" height="3.25" fill="#fe2c10"/><rect x="420.35" y="87.96" width="3.32" height="3.25" fill="#fc3613"/><rect x="423.67" y="87.96" width="3.32" height="3.25" fill="#fc3a13"/><rect x="426.99" y="87.96" width="3.32" height="3.25" fill="#fb3b14"/><rect x="430.32" y="87.96" width="3.32" height="3.25" fill="#fd3212"/><rect x="433.64" y="87.96" width="3.32" height="3.25" fill="#f22410"/><rect x="436.96" y="87.96" width="3.32" height="3.25" fill="#c21e11"/><rect x="440.28" y="87.96" width="3.32" height="3.25" fill="#770d0a"/><rect x="443.61" y="87.96" width="3.32" height="3.25" fill="#3f0306"/><rect x="446.93" y="87.96" width="3.32" height="3.25" fill="#190103"/><rect x="450.25" y="87.96" width="3.32" height="3.25" fill="#080001"/><rect x="453.58" y="87.96" width="3.32" height="3.25" fill="#060001"/><rect x="456.90" y="87.96" width="3.32" height="3.25" fill="#0b0001"/><rect x="460.22" y="87.96" width="3.32" height="3.25" fill="#2a0204"/><rect x="463.54" y="87.96" width="3.32" height="3.25" fill="#650908"/><rect x="466.87" y="87.96" width="3.32" height="3.25" fill="#a7180e"/><rect x="470.19" y="87.96" width="3.32" height="3.25" fill="#c81f11"/><rect x="473.51" y="87.96" width="3.32" height="3.25" fill="#ca1f12"/><rect x="476.83" y="87.96" width="3.32" height="3.25" fill="#bd1d10"/><rect x="480.16" y="87.96" width="3.32" height="3.25" fill="#a7180e"/><rect x="483.48" y="87.96" width="3.32" height="3.25" fill="#8f130c"/><rect x="486.80" y="87.96" width="3.32" height="3.25" fill="#740d09"/><rect x="490.12" y="87.96" width="3.32" height="3.25" fill="#580607"/><rect x="493.45" y="87.96" width="3.32" height="3.25" fill="#3f0306"/><rect x="496.77" y="87.96" width="3.32" height="3.25" fill="#3a0305"/><rect x="500.09" y="87.96" width="3.32" height="3.25" fill="#440406"/><rect x="503.42" y="87.96" width="3.32" height="3.25" fill="#4c0406"/><rect x="506.74" y="87.96" width="3.32" height="3.25" fill="#3f0306"/><rect x="510.06" y="87.96" width="3.32" height="3.25" fill="#2a0204"/><rect x="513.38" y="87.96" width="3.32" height="3.25" fill="#1c0103"/><rect x="516.71" y="87.96" width="3.32" height="3.25" fill="#220103"/><rect x="520.03" y="87.96" width="3.32" height="3.25" fill="#3d0306"/><rect x="523.35" y="87.96" width="3.32" height="3.25" fill="#6f0c09"/><rect x="526.67" y="87.96" width="3.32" height="3.25" fill="#b51b10"/><rect x="530.00" y="87.96" width="3.32" height="3.25" fill="#e42311"/><rect x="533.32" y="87.96" width="3.32" height="3.25" fill="#fa250f"/><rect x="536.64" y="87.96" width="3.32" height="3.25" fill="#ff2810"/><rect x="539.96" y="87.96" width="3.32" height="3.25" fill="#f42510"/><rect x="543.29" y="87.96" width="3.32" height="3.25" fill="#bd1d10"/><rect x="546.61" y="87.96" width="3.32" height="3.25" fill="#5e0708"/><rect x="549.93" y="87.96" width="3.32" height="3.25" fill="#220103"/><rect x="553.25" y="87.96" width="3.32" height="3.25" fill="#110102"/><rect x="556.58" y="87.96" width="3.32" height="3.25" fill="#160102"/><rect x="383.80" y="91.21" width="3.32" height="3.25" fill="#560507"/><rect x="387.12" y="91.21" width="3.32" height="3.25" fill="#5e0708"/><rect x="390.45" y="91.21" width="3.32" height="3.25" fill="#740d09"/><rect x="393.77" y="91.21" width="3.32" height="3.25" fill="#94140c"/><rect x="397.09" y="91.21" width="3.32" height="3.25" fill="#b51b10"/><rect x="400.41" y="91.21" width="3.32" height="3.25" fill="#cd2012"/><rect x="403.74" y="91.21" width="3.32" height="3.25" fill="#d42112"/><rect x="407.06" y="91.21" width="3.32" height="3.25" fill="#de2211"/><rect x="410.38" y="91.21" width="3.32" height="3.25" fill="#ef2410"/><rect x="413.70" y="91.21" width="3.32" height="3.25" fill="#ff2810"/><rect x="417.03" y="91.21" width="3.32" height="3.25" fill="#fc3813"/><rect x="420.35" y="91.21" width="3.32" height="3.25" fill="#fb3f15"/><rect x="423.67" y="91.21" width="6.65" height="3.25" fill="#fa4316"/><rect x="430.32" y="91.21" width="3.32" height="3.25" fill="#fd3212"/><rect x="433.64" y="91.21" width="3.32" height="3.25" fill="#e92310"/><rect x="436.96" y="91.21" width="3.32" height="3.25" fill="#a4170e"/><rect x="440.28" y="91.21" width="3.32" height="3.25" fill="#580607"/><rect x="443.61" y="91.21" width="3.32" height="3.25" fill="#2a0204"/><rect x="446.93" y="91.21" width="3.32" height="3.25" fill="#110102"/><rect x="450.25" y="91.21" width="3.32" height="3.25" fill="#080001"/><rect x="453.58" y="91.21" width="6.65" height="3.25" fill="#060001"/><rect x="460.22" y="91.21" width="3.32" height="3.25" fill="#1c0103"/><rect x="463.54" y="91.21" width="3.32" height="3.25" fill="#4e0407"/><rect x="466.87" y="91.21" width="3.32" height="3.25" fill="#87110b"/><rect x="470.19" y="91.21" width="6.65" height="3.25" fill="#a2170e"/><rect x="476.83" y="91.21" width="3.32" height="3.25" fill="#94140c"/><rect x="480.16" y="91.21" width="3.32" height="3.25" fill="#84100b"/><rect x="483.48" y="91.21" width="3.32" height="3.25" fill="#740d09"/><rect x="486.80" y="91.21" width="3.32" height="3.25" fill="#680a08"/><rect x="490.12" y="91.21" width="3.32" height="3.25" fill="#5e0708"/><rect x="493.45" y="91.21" width="6.65" height="3.25" fill="#560507"/><rect x="500.09" y="91.21" width="3.32" height="3.25" fill="#580607"/><rect x="503.42" y="91.21" width="3.32" height="3.25" fill="#510507"/><rect x="506.74" y="91.21" width="3.32" height="3.25" fill="#370205"/><rect x="510.06" y="91.21" width="3.32" height="3.25" fill="#1f0103"/><rect x="513.38" y="91.21" width="3.32" height="3.25" fill="#190103"/><rect x="516.71" y="91.21" width="3.32" height="3.25" fill="#2d0204"/><rect x="520.03" y="91.21" width="3.32" height="3.25" fill="#600808"/><rect x="523.35" y="91.21" width="3.32" height="3.25" fill="#bd1d10"/><rect x="526.67" y="91.21" width="3.32" height="3.25" fill="#fe260f"/><rect x="530.00" y="91.21" width="3.32" height="3.25" fill="#f85119"/><rect x="533.32" y="91.21" width="3.32" height="3.25" fill="#f36f20"/><rect x="536.64" y="91.21" width="3.32" height="3.25" fill="#f27220"/><rect x="539.96" y="91.21" width="3.32" height="3.25" fill="#f6581a"/><rect x="543.29" y="91.21" width="3.32" height="3.25" fill="#fd3011"/><rect x="546.61" y="91.21" width="3.32" height="3.25" fill="#d92111"/><rect x="549.93" y="91.21" width="3.32" height="3.25" fill="#81100a"/><rect x="553.25" y="91.21" width="3.32" height="3.25" fill="#4c0406"/><rect x="556.58" y="91.21" width="3.32" height="3.25" fill="#420306"/><rect x="383.80" y="94.45" width="3.32" height="3.25" fill="#740d09"/><rect x="387.12" y="94.45" width="3.32" height="3.25" fill="#790e0a"/><rect x="390.45" y="94.45" width="3.32" height="3.25" fill="#97140d"/><rect x="393.77" y="94.45" width="3.32" height="3.25" fill="#ca1f12"/><rect x="397.09" y="94.45" width="3.32" height="3.25" fill="#ed2410"/><rect x="400.41" y="94.45" width="3.32" height="3.25" fill="#fe2c10"/><rect x="403.74" y="94.45" width="3.32" height="3.25" fill="#fb3d14"/><rect x="407.06" y="94.45" width="3.32" height="3.25" fill="#f94b17"/><rect x="410.38" y="94.45" width="3.32" height="3.25" fill="#f6561a"/><rect x="413.70" y="94.45" width="3.32" height="3.25" fill="#f5601c"/><rect x="417.03" y="94.45" width="3.32" height="3.25" fill="#f4681e"/><rect x="420.35" y="94.45" width="3.32" height="3.25" fill="#f4651d"/><rect x="423.67" y="94.45" width="3.32" height="3.25" fill="#f55c1b"/><rect x="426.99" y="94.45" width="3.32" height="3.25" fill="#f94b17"/><rect x="430.32" y="94.45" width="3.32" height="3.25" fill="#fe2e11"/><rect x="433.64" y="94.45" width="3.32" height="3.25" fill="#da2211"/><rect x="436.96" y="94.45" width="3.32" height="3.25" fill="#84100b"/><rect x="440.28" y="94.45" width="3.32" height="3.25" fill="#420306"/><rect x="443.61" y="94.45" width="3.32" height="3.25" fill="#1c0103"/><rect x="446.93" y="94.45" width="3.32" height="3.25" fill="#0e0101"/><rect x="450.25" y="94.45" width="3.32" height="3.25" fill="#080001"/><rect x="453.58" y="94.45" width="6.65" height="3.25" fill="#060001"/><rect x="460.22" y="94.45" width="3.32" height="3.25" fill="#140102"/><rect x="463.54" y="94.45" width="3.32" height="3.25" fill="#3f0306"/><rect x="466.87" y="94.45" width="3.32" height="3.25" fill="#720c09"/><rect x="470.19" y="94.45" width="3.32" height="3.25" fill="#84100b"/><rect x="473.51" y="94.45" width="3.32" height="3.25" fill="#7f0f0a"/><rect x="476.83" y="94.45" width="3.32" height="3.25" fill="#770d0a"/><rect x="480.16" y="94.45" width="3.32" height="3.25" fill="#6f0c09"/><rect x="483.48" y="94.45" width="3.32" height="3.25" fill="#6d0b09"/><rect x="486.80" y="94.45" width="3.32" height="3.25" fill="#720c09"/><rect x="490.12" y="94.45" width="3.32" height="3.25" fill="#770d0a"/><rect x="493.45" y="94.45" width="3.32" height="3.25" fill="#790e0a"/><rect x="496.77" y="94.45" width="3.32" height="3.25" fill="#7c0f0a"/><rect x="500.09" y="94.45" width="3.32" height="3.25" fill="#770d0a"/><rect x="503.42" y="94.45" width="3.32" height="3.25" fill="#600808"/><rect x="506.74" y="94.45" width="3.32" height="3.25" fill="#3a0305"/><rect x="510.06" y="94.45" width="3.32" height="3.25" fill="#1c0103"/><rect x="513.38" y="94.45" width="3.32" height="3.25" fill="#190103"/><rect x="516.71" y="94.45" width="3.32" height="3.25" fill="#370205"/><rect x="520.03" y="94.45" width="3.32" height="3.25" fill="#89120b"/><rect x="523.35" y="94.45" width="3.32" height="3.25" fill="#f22410"/><rect x="526.67" y="94.45" width="3.32" height="3.25" fill="#f55c1b"/><rect x="530.00" y="94.45" width="3.32" height="3.25" fill="#ed9c2a"/><rect x="533.32" y="94.45" width="3.32" height="3.25" fill="#ecc031"/><rect x="536.64" y="94.45" width="3.32" height="3.25" fill="#ecbd31"/><rect x="539.96" y="94.45" width="3.32" height="3.25" fill="#ed992a"/><rect x="543.29" y="94.45" width="3.32" height="3.25" fill="#f4681e"/><rect x="546.61" y="94.45" width="3.32" height="3.25" fill="#fc3613"/><rect x="549.93" y="94.45" width="3.32" height="3.25" fill="#e12211"/><rect x="553.25" y="94.45" width="3.32" height="3.25" fill="#8c120c"/><rect x="556.58" y="94.45" width="3.32" height="3.25" fill="#6f0c09"/><rect x="383.80" y="97.70" width="3.32" height="3.25" fill="#84100b"/><rect x="387.12" y="97.70" width="3.32" height="3.25" fill="#89120b"/><rect x="390.45" y="97.70" width="3.32" height="3.25" fill="#ad190f"/><rect x="393.77" y="97.70" width="3.32" height="3.25" fill="#dc2211"/><rect x="397.09" y="97.70" width="3.32" height="3.25" fill="#fe260f"/><rect x="400.41" y="97.70" width="3.32" height="3.25" fill="#f84d18"/><rect x="403.74" y="97.70" width="3.32" height="3.25" fill="#f17922"/><rect x="407.06" y="97.70" width="3.32" height="3.25" fill="#eca32c"/><rect x="410.38" y="97.70" width="3.32" height="3.25" fill="#ecc031"/><rect x="413.70" y="97.70" width="3.32" height="3.25" fill="#edcb33"/><rect x="417.03" y="97.70" width="3.32" height="3.25" fill="#edc532"/><rect x="420.35" y="97.70" width="3.32" height="3.25" fill="#ecb12f"/><rect x="423.67" y="97.70" width="3.32" height="3.25" fill="#ef8d27"/><rect x="426.99" y="97.70" width="3.32" height="3.25" fill="#f65a1b"/><rect x="430.32" y="97.70" width="3.32" height="3.25" fill="#ff2810"/><rect x="433.64" y="97.70" width="3.32" height="3.25" fill="#c81f11"/><rect x="436.96" y="97.70" width="3.32" height="3.25" fill="#6d0b09"/><rect x="440.28" y="97.70" width="3.32" height="3.25" fill="#320205"/><rect x="443.61" y="97.70" width="3.32" height="3.25" fill="#140102"/><rect x="446.93" y="97.70" width="6.65" height="3.25" fill="#080001"/><rect x="453.58" y="97.70" width="6.65" height="3.25" fill="#060001"/><rect x="460.22" y="97.70" width="3.32" height="3.25" fill="#110102"/><rect x="463.54" y="97.70" width="3.32" height="3.25" fill="#3d0306"/><rect x="466.87" y="97.70" width="3.32" height="3.25" fill="#6a0a09"/><rect x="470.19" y="97.70" width="3.32" height="3.25" fill="#740d09"/><rect x="473.51" y="97.70" width="3.32" height="3.25" fill="#6a0a09"/><rect x="476.83" y="97.70" width="3.32" height="3.25" fill="#650908"/><rect x="480.16" y="97.70" width="3.32" height="3.25" fill="#680a08"/><rect x="483.48" y="97.70" width="3.32" height="3.25" fill="#790e0a"/><rect x="486.80" y="97.70" width="3.32" height="3.25" fill="#91130c"/><rect x="490.12" y="97.70" width="3.32" height="3.25" fill="#a7180e"/><rect x="493.45" y="97.70" width="6.65" height="3.25" fill="#af1a0f"/><rect x="500.09" y="97.70" width="3.32" height="3.25" fill="#a2170e"/><rect x="503.42" y="97.70" width="3.32" height="3.25" fill="#790e0a"/><rect x="506.74" y="97.70" width="3.32" height="3.25" fill="#420306"/><rect x="510.06" y="97.70" width="6.65" height="3.25" fill="#190103"/><rect x="516.71" y="97.70" width="3.32" height="3.25" fill="#3f0306"/><rect x="520.03" y="97.70" width="3.32" height="3.25" fill="#ad190f"/><rect x="523.35" y="97.70" width="3.32" height="3.25" fill="#fc3a13"/><rect x="526.67" y="97.70" width="3.32" height="3.25" fill="#ee9228"/><rect x="530.00" y="97.70" width="3.32" height="3.25" fill="#eed735"/><rect x="533.32" y="97.70" width="3.32" height="3.25" fill="#f0fa3b"/><rect x="536.64" y="97.70" width="3.32" height="3.25" fill="#eff43a"/><rect x="539.96" y="97.70" width="3.32" height="3.25" fill="#edce34"/><rect x="543.29" y="97.70" width="3.32" height="3.25" fill="#ed9729"/><rect x="546.61" y="97.70" width="3.32" height="3.25" fill="#f6581a"/><rect x="549.93" y="97.70" width="3.32" height="3.25" fill="#fc260f"/><rect x="553.25" y="97.70" width="3.32" height="3.25" fill="#bf1d11"/><rect x="556.58" y="97.70" width="3.32" height="3.25" fill="#9a150d"/><rect x="383.80" y="100.94" width="3.32" height="3.25" fill="#94140c"/><rect x="387.12" y="100.94" width="3.32" height="3.25" fill="#9a150d"/><rect x="390.45" y="100.94" width="3.32" height="3.25" fill="#c21e11"/><rect x="393.77" y="100.94" width="3.32" height="3.25" fill="#ef2410"/><rect x="397.09" y="100.94" width="3.32" height="3.25" fill="#fb3f15"/><rect x="400.41" y="100.94" width="3.32" height="3.25" fill="#f17922"/><rect x="403.74" y="100.94" width="3.32" height="3.25" fill="#ecc031"/><rect x="407.06" y="100.94" width="3.32" height="3.25" fill="#f0ff40"/><rect x="410.38" y="100.94" width="3.32" height="3.25" fill="#f0ff60"/><rect x="413.70" y="100.94" width="3.32" height="3.25" fill="#f0ff6d"/><rect x="417.03" y="100.94" width="3.32" height="3.25" fill="#f0ff63"/><rect x="420.35" y="100.94" width="3.32" height="3.25" fill="#f0ff45"/><rect x="423.67" y="100.94" width="3.32" height="3.25" fill="#edc833"/><rect x="426.99" y="100.94" width="3.32" height="3.25" fill="#f17922"/><rect x="430.32" y="100.94" width="3.32" height="3.25" fill="#fd3212"/><rect x="433.64" y="100.94" width="3.32" height="3.25" fill="#d02012"/><rect x="436.96" y="100.94" width="3.32" height="3.25" fill="#6f0c09"/><rect x="440.28" y="100.94" width="3.32" height="3.25" fill="#350205"/><rect x="443.61" y="100.94" width="3.32" height="3.25" fill="#110102"/><rect x="446.93" y="100.94" width="3.32" height="3.25" fill="#080001"/><rect x="450.25" y="100.94" width="6.65" height="3.25" fill="#060001"/><rect x="456.90" y="100.94" width="3.32" height="3.25" fill="#080001"/><rect x="460.22" y="100.94" width="3.32" height="3.25" fill="#190103"/><rect x="463.54" y="100.94" width="3.32" height="3.25" fill="#420306"/><rect x="466.87" y="100.94" width="3.32" height="3.25" fill="#6a0a09"/><rect x="470.19" y="100.94" width="3.32" height="3.25" fill="#720c09"/><rect x="473.51" y="100.94" width="6.65" height="3.25" fill="#680a08"/><rect x="480.16" y="100.94" width="3.32" height="3.25" fill="#770d0a"/><rect x="483.48" y="100.94" width="3.32" height="3.25" fill="#91130c"/><rect x="486.80" y="100.94" width="3.32" height="3.25" fill="#b71b10"/><rect x="490.12" y="100.94" width="3.32" height="3.25" fill="#d02012"/><rect x="493.45" y="100.94" width="3.32" height="3.25" fill="#d72111"/><rect x="496.77" y="100.94" width="3.32" height="3.25" fill="#d42112"/><rect x="500.09" y="100.94" width="3.32" height="3.25" fill="#c21e11"/><rect x="503.42" y="100.94" width="3.32" height="3.25" fill="#91130c"/><rect x="506.74" y="100.94" width="3.32" height="3.25" fill="#4e0407"/><rect x="510.06" y="100.94" width="3.32" height="3.25" fill="#220103"/><rect x="513.38" y="100.94" width="3.32" height="3.25" fill="#1f0103"/><rect x="516.71" y="100.94" width="3.32" height="3.25" fill="#4c0406"/><rect x="520.03" y="100.94" width="3.32" height="3.25" fill="#cf2012"/><rect x="523.35" y="100.94" width="3.32" height="3.25" fill="#f6561a"/><rect x="526.67" y="100.94" width="3.32" height="3.25" fill="#edc232"/><rect x="530.00" y="100.94" width="3.32" height="3.25" fill="#f0ff47"/><rect x="533.32" y="100.94" width="3.32" height="3.25" fill="#f0ff63"/><rect x="536.64" y="100.94" width="3.32" height="3.25" fill="#f0ff65"/><rect x="539.96" y="100.94" width="3.32" height="3.25" fill="#f0ff4a"/><rect x="543.29" y="100.94" width="3.32" height="3.25" fill="#eed435"/><rect x="546.61" y="100.94" width="3.32" height="3.25" fill="#ef8826"/><rect x="549.93" y="100.94" width="3.32" height="3.25" fill="#fa4316"/><rect x="553.25" y="100.94" width="3.32" height="3.25" fill="#e62310"/><rect x="556.58" y="100.94" width="3.32" height="3.25" fill="#cf2012"/><rect x="383.80" y="104.19" width="6.65" height="3.25" fill="#aa190e"/><rect x="390.45" y="104.19" width="3.32" height="3.25" fill="#d72111"/><rect x="393.77" y="104.19" width="3.32" height="3.25" fill="#fe2e11"/><rect x="397.09" y="104.19" width="3.32" height="3.25" fill="#f27220"/><rect x="400.41" y="104.19" width="3.32" height="3.25" fill="#edc532"/><rect x="403.74" y="104.19" width="3.32" height="3.25" fill="#f0ff4c"/><rect x="407.06" y="104.19" width="3.32" height="3.25" fill="#f0ff7c"/><rect x="410.38" y="104.19" width="3.32" height="3.25" fill="#f4ffa4"/><rect x="413.70" y="104.19" width="3.32" height="3.25" fill="#f6ffb4"/><rect x="417.03" y="104.19" width="3.32" height="3.25" fill="#f4ffa4"/><rect x="420.35" y="104.19" width="3.32" height="3.25" fill="#f0ff77"/><rect x="423.67" y="104.19" width="3.32" height="3.25" fill="#f0fd3c"/><rect x="426.99" y="104.19" width="3.32" height="3.25" fill="#ec9e2b"/><rect x="430.32" y="104.19" width="3.32" height="3.25" fill="#f84d18"/><rect x="433.64" y="104.19" width="3.32" height="3.25" fill="#e92310"/><rect x="436.96" y="104.19" width="3.32" height="3.25" fill="#8f130c"/><rect x="440.28" y="104.19" width="3.32" height="3.25" fill="#3f0306"/><rect x="443.61" y="104.19" width="3.32" height="3.25" fill="#140102"/><rect x="446.93" y="104.19" width="6.65" height="3.25" fill="#060001"/><rect x="453.58" y="104.19" width="3.32" height="3.25" fill="#080001"/><rect x="456.90" y="104.19" width="3.32" height="3.25" fill="#0e0101"/><rect x="460.22" y="104.19" width="3.32" height="3.25" fill="#240104"/><rect x="463.54" y="104.19" width="3.32" height="3.25" fill="#4e0407"/><rect x="466.87" y="104.19" width="3.32" height="3.25" fill="#740d09"/><rect x="470.19" y="104.19" width="3.32" height="3.25" fill="#7c0f0a"/><rect x="473.51" y="104.19" width="3.32" height="3.25" fill="#770d0a"/><rect x="476.83" y="104.19" width="3.32" height="3.25" fill="#7f0f0a"/><rect x="480.16" y="104.19" width="3.32" height="3.25" fill="#97140d"/><rect x="483.48" y="104.19" width="3.32" height="3.25" fill="#b21a0f"/><rect x="486.80" y="104.19" width="3.32" height="3.25" fill="#cf2012"/><rect x="490.12" y="104.19" width="3.32" height="3.25" fill="#df2211"/><rect x="493.45" y="104.19" width="3.32" height="3.25" fill="#e62310"/><rect x="496.77" y="104.19" width="3.32" height="3.25" fill="#e42311"/><rect x="500.09" y="104.19" width="3.32" height="3.25" fill="#d02012"/><rect x="503.42" y="104.19" width="3.32" height="3.25" fill="#9c160d"/><rect x="506.74" y="104.19" width="3.32" height="3.25" fill="#5e0708"/><rect x="510.06" y="104.19" width="3.32" height="3.25" fill="#350205"/><rect x="513.38" y="104.19" width="3.32" height="3.25" fill="#300205"/><rect x="516.71" y="104.19" width="3.32" height="3.25" fill="#5b0707"/><rect x="520.03" y="104.19" width="3.32" height="3.25" fill="#e12211"/><rect x="523.35" y="104.19" width="3.32" height="3.25" fill="#f27220"/><rect x="526.67" y="104.19" width="3.32" height="3.25" fill="#efec39"/><rect x="530.00" y="104.19" width="3.32" height="3.25" fill="#f0ff6d"/><rect x="533.32" y="104.19" width="3.32" height="3.25" fill="#f2ff95"/><rect x="536.64" y="104.19" width="3.32" height="3.25" fill="#f4ffa8"/><rect x="539.96" y="104.19" width="3.32" height="3.25" fill="#f1ff91"/><rect x="543.29" y="104.19" width="3.32" height="3.25" fill="#f0ff5b"/><rect x="546.61" y="104.19" width="3.32" height="3.25" fill="#edce34"/><rect x="549.93" y="104.19" width="3.32" height="3.25" fill="#f27220"/><rect x="553.25" y="104.19" width="3.32" height="3.25" fill="#fe2c10"/><rect x="556.58" y="104.19" width="3.32" height="3.25" fill="#ef2410"/><rect x="383.80" y="107.43" width="3.32" height="3.25" fill="#bd1d10"/><rect x="387.12" y="107.43" width="3.32" height="3.25" fill="#b51b10"/><rect x="390.45" y="107.43" width="3.32" height="3.25" fill="#df2211"/><rect x="393.77" y="107.43" width="3.32" height="3.25" fill="#fa4516"/><rect x="397.09" y="107.43" width="3.32" height="3.25" fill="#eca32c"/><rect x="400.41" y="107.43" width="3.32" height="3.25" fill="#f0ff47"/><rect x="403.74" y="107.43" width="3.32" height="3.25" fill="#f0ff7e"/><rect x="407.06" y="107.43" width="3.32" height="3.25" fill="#f4ffa4"/><rect x="410.38" y="107.43" width="3.32" height="3.25" fill="#f8ffc4"/><rect x="413.70" y="107.43" width="3.32" height="3.25" fill="#f9ffcf"/><rect x="417.03" y="107.43" width="3.32" height="3.25" fill="#f5ffb0"/><rect x="420.35" y="107.43" width="3.32" height="3.25" fill="#f0ff74"/><rect x="423.67" y="107.43" width="3.32" height="3.25" fill="#f0fa3b"/><rect x="426.99" y="107.43" width="3.32" height="3.25" fill="#ebab2e"/><rect x="430.32" y="107.43" width="3.32" height="3.25" fill="#f55c1b"/><rect x="433.64" y="107.43" width="3.32" height="3.25" fill="#f42510"/><rect x="436.96" y="107.43" width="3.32" height="3.25" fill="#94140c"/><rect x="440.28" y="107.43" width="3.32" height="3.25" fill="#3f0306"/><rect x="443.61" y="107.43" width="3.32" height="3.25" fill="#140102"/><rect x="446.93" y="107.43" width="6.65" height="3.25" fill="#060001"/><rect x="453.58" y="107.43" width="3.32" height="3.25" fill="#0b0001"/><rect x="456.90" y="107.43" width="3.32" height="3.25" fill="#160102"/><rect x="460.22" y="107.43" width="3.32" height="3.25" fill="#320205"/><rect x="463.54" y="107.43" width="3.32" height="3.25" fill="#560507"/><rect x="466.87" y="107.43" width="3.32" height="3.25" fill="#790e0a"/><rect x="470.19" y="107.43" width="3.32" height="3.25" fill="#89120b"/><rect x="473.51" y="107.43" width="3.32" height="3.25" fill="#91130c"/><rect x="476.83" y="107.43" width="3.32" height="3.25" fill="#9f160d"/><rect x="480.16" y="107.43" width="3.32" height="3.25" fill="#b71b10"/><rect x="483.48" y="107.43" width="3.32" height="3.25" fill="#cd2012"/><rect x="486.80" y="107.43" width="3.32" height="3.25" fill="#da2211"/><rect x="490.12" y="107.43" width="3.32" height="3.25" fill="#e82310"/><rect x="493.45" y="107.43" width="3.32" height="3.25" fill="#f02410"/><rect x="496.77" y="107.43" width="3.32" height="3.25" fill="#ed2410"/><rect x="500.09" y="107.43" width="3.32" height="3.25" fill="#da2211"/><rect x="503.42" y="107.43" width="3.32" height="3.25" fill="#a7180e"/><rect x="506.74" y="107.43" width="3.32" height="3.25" fill="#6f0c09"/><rect x="510.06" y="107.43" width="3.32" height="3.25" fill="#490406"/><rect x="513.38" y="107.43" width="3.32" height="3.25" fill="#420306"/><rect x="516.71" y="107.43" width="3.32" height="3.25" fill="#6a0a09"/><rect x="520.03" y="107.43" width="3.32" height="3.25" fill="#e92310"/><rect x="523.35" y="107.43" width="3.32" height="3.25" fill="#f08124"/><rect x="526.67" y="107.43" width="3.32" height="3.25" fill="#f0ff3d"/><rect x="530.00" y="107.43" width="3.32" height="3.25" fill="#f0ff81"/><rect x="533.32" y="107.43" width="3.32" height="3.25" fill="#f6ffb8"/><rect x="536.64" y="107.43" width="3.32" height="3.25" fill="#faffd3"/><rect x="539.96" y="107.43" width="3.32" height="3.25" fill="#f8ffc7"/><rect x="543.29" y="107.43" width="3.32" height="3.25" fill="#f0ff89"/><rect x="546.61" y="107.43" width="3.32" height="3.25" fill="#f0ff45"/><rect x="549.93" y="107.43" width="3.32" height="3.25" fill="#eca32c"/><rect x="553.25" y="107.43" width="3.32" height="3.25" fill="#f94717"/><rect x="556.58" y="107.43" width="3.32" height="3.25" fill="#ff2810"/><rect x="383.80" y="110.68" width="3.32" height="3.25" fill="#c51e11"/><rect x="387.12" y="110.68" width="3.32" height="3.25" fill="#b21a0f"/><rect x="390.45" y="110.68" width="3.32" height="3.25" fill="#de2211"/><rect x="393.77" y="110.68" width="3.32" height="3.25" fill="#f94b17"/><rect x="397.09" y="110.68" width="3.32" height="3.25" fill="#ecba30"/><rect x="400.41" y="110.68" width="3.32" height="3.25" fill="#f0ff60"/><rect x="403.74" y="110.68" width="3.32" height="3.25" fill="#f1ff8d"/><rect x="407.06" y="110.68" width="3.32" height="3.25" fill="#f3ffa1"/><rect x="410.38" y="110.68" width="3.32" height="3.25" fill="#f6ffb4"/><rect x="413.70" y="110.68" width="3.32" height="3.25" fill="#f5ffb0"/><rect x="417.03" y="110.68" width="3.32" height="3.25" fill="#f0ff77"/><rect x="420.35" y="110.68" width="3.32" height="3.25" fill="#efef39"/><rect x="423.67" y="110.68" width="3.32" height="3.25" fill="#eba82d"/><rect x="426.99" y="110.68" width="3.32" height="3.25" fill="#f08124"/><rect x="430.32" y="110.68" width="3.32" height="3.25" fill="#f84d18"/><rect x="433.64" y="110.68" width="3.32" height="3.25" fill="#df2211"/><rect x="436.96" y="110.68" width="3.32" height="3.25" fill="#630808"/><rect x="440.28" y="110.68" width="3.32" height="3.25" fill="#270204"/><rect x="443.61" y="110.68" width="3.32" height="3.25" fill="#110102"/><rect x="446.93" y="110.68" width="6.65" height="3.25" fill="#080001"/><rect x="453.58" y="110.68" width="3.32" height="3.25" fill="#0e0101"/><rect x="456.90" y="110.68" width="3.32" height="3.25" fill="#1c0103"/><rect x="460.22" y="110.68" width="3.32" height="3.25" fill="#350205"/><rect x="463.54" y="110.68" width="3.32" height="3.25" fill="#530507"/><rect x="466.87" y="110.68" width="3.32" height="3.25" fill="#740d09"/><rect x="470.19" y="110.68" width="3.32" height="3.25" fill="#91130c"/><rect x="473.51" y="110.68" width="3.32" height="3.25" fill="#aa190e"/><rect x="476.83" y="110.68" width="3.32" height="3.25" fill="#b71b10"/><rect x="480.16" y="110.68" width="3.32" height="3.25" fill="#c81f11"/><rect x="483.48" y="110.68" width="3.32" height="3.25" fill="#d72111"/><rect x="486.80" y="110.68" width="3.32" height="3.25" fill="#e62310"/><rect x="490.12" y="110.68" width="3.32" height="3.25" fill="#f42510"/><rect x="493.45" y="110.68" width="3.32" height="3.25" fill="#fc260f"/><rect x="496.77" y="110.68" width="3.32" height="3.25" fill="#f9250f"/><rect x="500.09" y="110.68" width="3.32" height="3.25" fill="#e42311"/><rect x="503.42" y="110.68" width="3.32" height="3.25" fill="#b71b10"/><rect x="506.74" y="110.68" width="3.32" height="3.25" fill="#81100a"/><rect x="510.06" y="110.68" width="3.32" height="3.25" fill="#5e0708"/><rect x="513.38" y="110.68" width="3.32" height="3.25" fill="#510507"/><rect x="516.71" y="110.68" width="3.32" height="3.25" fill="#720c09"/><rect x="520.03" y="110.68" width="3.32" height="3.25" fill="#e82310"/><rect x="523.35" y="110.68" width="3.32" height="3.25" fill="#f17922"/><rect x="526.67" y="110.68" width="3.32" height="3.25" fill="#eff43a"/><rect x="530.00" y="110.68" width="3.32" height="3.25" fill="#f0ff72"/><rect x="533.32" y="110.68" width="3.32" height="3.25" fill="#f2ff99"/><rect x="536.64" y="110.68" width="3.32" height="3.25" fill="#f5ffb0"/><rect x="539.96" y="110.68" width="3.32" height="3.25" fill="#f4ffa8"/><rect x="543.29" y="110.68" width="3.32" height="3.25" fill="#f0ff81"/><rect x="546.61" y="110.68" width="3.32" height="3.25" fill="#f0ff51"/><rect x="549.93" y="110.68" width="3.32" height="3.25" fill="#ecbd31"/><rect x="553.25" y="110.68" width="3.32" height="3.25" fill="#f85119"/><rect x="556.58" y="110.68" width="3.32" height="3.25" fill="#ff2810"/><rect x="383.80" y="113.92" width="3.32" height="3.25" fill="#bd1d10"/><rect x="387.12" y="113.92" width="3.32" height="3.25" fill="#aa190e"/><rect x="390.45" y="113.92" width="3.32" height="3.25" fill="#d72111"/><rect x="393.77" y="113.92" width="3.32" height="3.25" fill="#fa4516"/><rect x="397.09" y="113.92" width="3.32" height="3.25" fill="#ecb12f"/><rect x="400.41" y="113.92" width="3.32" height="3.25" fill="#f0ff54"/><rect x="403.74" y="113.92" width="3.32" height="3.25" fill="#f0ff74"/><rect x="407.06" y="113.92" width="3.32" height="3.25" fill="#f0ff77"/><rect x="410.38" y="113.92" width="3.32" height="3.25" fill="#f0ff79"/><rect x="413.70" y="113.92" width="3.32" height="3.25" fill="#f0ff6d"/><rect x="417.03" y="113.92" width="3.32" height="3.25" fill="#efef39"/><rect x="420.35" y="113.92" width="3.32" height="3.25" fill="#f08324"/><rect x="423.67" y="113.92" width="3.32" height="3.25" fill="#f94917"/><rect x="426.99" y="113.92" width="3.32" height="3.25" fill="#fc3a13"/><rect x="430.32" y="113.92" width="3.32" height="3.25" fill="#f7250f"/><rect x="433.64" y="113.92" width="3.32" height="3.25" fill="#94140c"/><rect x="436.96" y="113.92" width="3.32" height="3.25" fill="#300205"/><rect x="440.28" y="113.92" width="13.29" height="3.25" fill="#0e0101"/><rect x="453.58" y="113.92" width="3.32" height="3.25" fill="#110102"/><rect x="456.90" y="113.92" width="3.32" height="3.25" fill="#1c0103"/><rect x="460.22" y="113.92" width="3.32" height="3.25" fill="#300205"/><rect x="463.54" y="113.92" width="3.32" height="3.25" fill="#490406"/><rect x="466.87" y="113.92" width="3.32" height="3.25" fill="#6a0a09"/><rect x="470.19" y="113.92" width="3.32" height="3.25" fill="#97140d"/><rect x="473.51" y="113.92" width="3.32" height="3.25" fill="#ba1c10"/><rect x="476.83" y="113.92" width="3.32" height="3.25" fill="#c51e11"/><rect x="480.16" y="113.92" width="3.32" height="3.25" fill="#ca1f12"/><rect x="483.48" y="113.92" width="3.32" height="3.25" fill="#da2211"/><rect x="486.80" y="113.92" width="3.32" height="3.25" fill="#ef2410"/><rect x="490.12" y="113.92" width="3.32" height="3.25" fill="#fc260f"/><rect x="493.45" y="113.92" width="3.32" height="3.25" fill="#fe2a10"/><rect x="496.77" y="113.92" width="3.32" height="3.25" fill="#fc260f"/><rect x="500.09" y="113.92" width="3.32" height="3.25" fill="#e82310"/><rect x="503.42" y="113.92" width="3.32" height="3.25" fill="#ba1c10"/><rect x="506.74" y="113.92" width="3.32" height="3.25" fill="#81100a"/><rect x="510.06" y="113.92" width="3.32" height="3.25" fill="#5e0708"/><rect x="513.38" y="113.92" width="3.32" height="3.25" fill="#510507"/><rect x="516.71" y="113.92" width="3.32" height="3.25" fill="#720c09"/><rect x="520.03" y="113.92" width="3.32" height="3.25" fill="#df2211"/><rect x="523.35" y="113.92" width="3.32" height="3.25" fill="#f55e1c"/><rect x="526.67" y="113.92" width="3.32" height="3.25" fill="#edc232"/><rect x="530.00" y="113.92" width="3.32" height="3.25" fill="#f0ff42"/><rect x="533.32" y="113.92" width="3.32" height="3.25" fill="#f0ff5b"/><rect x="536.64" y="113.92" width="3.32" height="3.25" fill="#f0ff60"/><rect x="539.96" y="113.92" width="3.32" height="3.25" fill="#f0ff59"/><rect x="543.29" y="113.92" width="3.32" height="3.25" fill="#f0ff4c"/><rect x="546.61" y="113.92" width="3.32" height="3.25" fill="#efef39"/><rect x="549.93" y="113.92" width="3.32" height="3.25" fill="#eba82d"/><rect x="553.25" y="113.92" width="3.32" height="3.25" fill="#f94917"/><rect x="556.58" y="113.92" width="3.32" height="3.25" fill="#f9250f"/><rect x="383.80" y="117.17" width="3.32" height="3.25" fill="#ad190f"/><rect x="387.12" y="117.17" width="3.32" height="3.25" fill="#a2170e"/><rect x="390.45" y="117.17" width="3.32" height="3.25" fill="#d52111"/><rect x="393.77" y="117.17" width="3.32" height="3.25" fill="#fb3b14"/><rect x="397.09" y="117.17" width="3.32" height="3.25" fill="#ee9228"/><rect x="400.41" y="117.17" width="3.32" height="3.25" fill="#efe638"/><rect x="403.74" y="117.17" width="3.32" height="3.25" fill="#f0ff3d"/><rect x="407.06" y="117.17" width="3.32" height="3.25" fill="#f0fa3b"/><rect x="410.38" y="117.17" width="3.32" height="3.25" fill="#eff43a"/><rect x="413.70" y="117.17" width="3.32" height="3.25" fill="#eeda36"/><rect x="417.03" y="117.17" width="3.32" height="3.25" fill="#ef8d27"/><rect x="420.35" y="117.17" width="3.32" height="3.25" fill="#fc3813"/><rect x="423.67" y="117.17" width="3.32" height="3.25" fill="#de2211"/><rect x="426.99" y="117.17" width="3.32" height="3.25" fill="#bd1d10"/><rect x="430.32" y="117.17" width="3.32" height="3.25" fill="#91130c"/><rect x="433.64" y="117.17" width="3.32" height="3.25" fill="#470406"/><rect x="436.96" y="117.17" width="3.32" height="3.25" fill="#140102"/><rect x="440.28" y="117.17" width="3.32" height="3.25" fill="#080001"/><rect x="443.61" y="117.17" width="3.32" height="3.25" fill="#0b0001"/><rect x="446.93" y="117.17" width="3.32" height="3.25" fill="#0e0101"/><rect x="450.25" y="117.17" width="6.65" height="3.25" fill="#0b0001"/><rect x="456.90" y="117.17" width="3.32" height="3.25" fill="#110102"/><rect x="460.22" y="117.17" width="3.32" height="3.25" fill="#220103"/><rect x="463.54" y="117.17" width="3.32" height="3.25" fill="#3d0306"/><rect x="466.87" y="117.17" width="3.32" height="3.25" fill="#650908"/><rect x="470.19" y="117.17" width="3.32" height="3.25" fill="#94140c"/><rect x="473.51" y="117.17" width="3.32" height="3.25" fill="#ba1c10"/><rect x="476.83" y="117.17" width="3.32" height="3.25" fill="#c81f11"/><rect x="480.16" y="117.17" width="3.32" height="3.25" fill="#cd2012"/><rect x="483.48" y="117.17" width="3.32" height="3.25" fill="#de2211"/><rect x="486.80" y="117.17" width="3.32" height="3.25" fill="#f02410"/><rect x="490.12" y="117.17" width="3.32" height="3.25" fill="#fe260f"/><rect x="493.45" y="117.17" width="3.32" height="3.25" fill="#ff260f"/><rect x="496.77" y="117.17" width="3.32" height="3.25" fill="#f42510"/><rect x="500.09" y="117.17" width="3.32" height="3.25" fill="#d72111"/><rect x="503.42" y="117.17" width="3.32" height="3.25" fill="#9c160d"/><rect x="506.74" y="117.17" width="3.32" height="3.25" fill="#630808"/><rect x="510.06" y="117.17" width="6.65" height="3.25" fill="#440406"/><rect x="516.71" y="117.17" width="3.32" height="3.25" fill="#6a0a09"/><rect x="520.03" y="117.17" width="3.32" height="3.25" fill="#cf2012"/><rect x="523.35" y="117.17" width="3.32" height="3.25" fill="#fb3b14"/><rect x="526.67" y="117.17" width="3.32" height="3.25" fill="#f17e23"/><rect x="530.00" y="117.17" width="3.32" height="3.25" fill="#ebab2e"/><rect x="533.32" y="117.17" width="3.32" height="3.25" fill="#edc232"/><rect x="536.64" y="117.17" width="3.32" height="3.25" fill="#edc532"/><rect x="539.96" y="117.17" width="3.32" height="3.25" fill="#ecbd31"/><rect x="543.29" y="117.17" width="3.32" height="3.25" fill="#ebab2e"/><rect x="546.61" y="117.17" width="3.32" height="3.25" fill="#ee9428"/><rect x="549.93" y="117.17" width="3.32" height="3.25" fill="#f4681e"/><rect x="553.25" y="117.17" width="3.32" height="3.25" fill="#fe2e11"/><rect x="556.58" y="117.17" width="3.32" height="3.25" fill="#ed2410"/><rect x="383.80" y="120.41" width="3.32" height="3.25" fill="#94140c"/><rect x="387.12" y="120.41" width="3.32" height="3.25" fill="#9a150d"/><rect x="390.45" y="120.41" width="3.32" height="3.25" fill="#d22112"/><rect x="393.77" y="120.41" width="3.32" height="3.25" fill="#fe2c10"/><rect x="397.09" y="120.41" width="3.32" height="3.25" fill="#f4681e"/><rect x="400.41" y="120.41" width="3.32" height="3.25" fill="#ed9c2a"/><rect x="403.74" y="120.41" width="3.32" height="3.25" fill="#ebab2e"/><rect x="407.06" y="120.41" width="3.32" height="3.25" fill="#eca32c"/><rect x="410.38" y="120.41" width="3.32" height="3.25" fill="#ee9428"/><rect x="413.70" y="120.41" width="3.32" height="3.25" fill="#f17922"/><rect x="417.03" y="120.41" width="3.32" height="3.25" fill="#fa4316"/><rect x="420.35" y="120.41" width="3.32" height="3.25" fill="#e12211"/><rect x="423.67" y="120.41" width="3.32" height="3.25" fill="#84100b"/><rect x="426.99" y="120.41" width="3.32" height="3.25" fill="#510507"/><rect x="430.32" y="120.41" width="3.32" height="3.25" fill="#320205"/><rect x="433.64" y="120.41" width="3.32" height="3.25" fill="#190103"/><rect x="436.96" y="120.41" width="3.32" height="3.25" fill="#0e0101"/><rect x="440.28" y="120.41" width="13.29" height="3.25" fill="#080001"/><rect x="453.58" y="120.41" width="3.32" height="3.25" fill="#060001"/><rect x="456.90" y="120.41" width="3.32" height="3.25" fill="#080001"/><rect x="460.22" y="120.41" width="3.32" height="3.25" fill="#160102"/><rect x="463.54" y="120.41" width="3.32" height="3.25" fill="#350205"/><rect x="466.87" y="120.41" width="3.32" height="3.25" fill="#600808"/><rect x="470.19" y="120.41" width="3.32" height="3.25" fill="#8c120c"/><rect x="473.51" y="120.41" width="3.32" height="3.25" fill="#ad190f"/><rect x="476.83" y="120.41" width="3.32" height="3.25" fill="#bf1d11"/><rect x="480.16" y="120.41" width="3.32" height="3.25" fill="#ca1f12"/><rect x="483.48" y="120.41" width="3.32" height="3.25" fill="#dc2211"/><rect x="486.80" y="120.41" width="3.32" height="3.25" fill="#ed2410"/><rect x="490.12" y="120.41" width="3.32" height="3.25" fill="#f52510"/><rect x="493.45" y="120.41" width="3.32" height="3.25" fill="#f02410"/><rect x="496.77" y="120.41" width="3.32" height="3.25" fill="#e12211"/><rect x="500.09" y="120.41" width="3.32" height="3.25" fill="#b71b10"/><rect x="503.42" y="120.41" width="3.32" height="3.25" fill="#770d0a"/><rect x="506.74" y="120.41" width="3.32" height="3.25" fill="#440406"/><rect x="510.06" y="120.41" width="3.32" height="3.25" fill="#2a0204"/><rect x="513.38" y="120.41" width="3.32" height="3.25" fill="#320205"/><rect x="516.71" y="120.41" width="3.32" height="3.25" fill="#580607"/><rect x="520.03" y="120.41" width="3.32" height="3.25" fill="#a7180e"/><rect x="523.35" y="120.41" width="3.32" height="3.25" fill="#ef2410"/><rect x="526.67" y="120.41" width="3.32" height="3.25" fill="#fb3d14"/><rect x="530.00" y="120.41" width="3.32" height="3.25" fill="#f6561a"/><rect x="533.32" y="120.41" width="3.32" height="3.25" fill="#f4651d"/><rect x="536.64" y="120.41" width="3.32" height="3.25" fill="#f4681e"/><rect x="539.96" y="120.41" width="3.32" height="3.25" fill="#f5601c"/><rect x="543.29" y="120.41" width="3.32" height="3.25" fill="#f6561a"/><rect x="546.61" y="120.41" width="3.32" height="3.25" fill="#f94717"/><rect x="549.93" y="120.41" width="3.32" height="3.25" fill="#fd3212"/><rect x="553.25" y="120.41" width="3.32" height="3.25" fill="#f02410"/><rect x="556.58" y="120.41" width="3.32" height="3.25" fill="#e32311"/><rect x="383.80" y="123.66" width="3.32" height="3.25" fill="#81100a"/><rect x="387.12" y="123.66" width="3.32" height="3.25" fill="#8c120c"/><rect x="390.45" y="123.66" width="3.32" height="3.25" fill="#bf1d11"/><rect x="393.77" y="123.66" width="3.32" height="3.25" fill="#f22410"/><rect x="397.09" y="123.66" width="3.32" height="3.25" fill="#fb3f15"/><rect x="400.41" y="123.66" width="3.32" height="3.25" fill="#f55c1b"/><rect x="403.74" y="123.66" width="3.32" height="3.25" fill="#f4631d"/><rect x="407.06" y="123.66" width="3.32" height="3.25" fill="#f65a1b"/><rect x="410.38" y="123.66" width="3.32" height="3.25" fill="#f94b17"/><rect x="413.70" y="123.66" width="3.32" height="3.25" fill="#fc3613"/><rect x="417.03" y="123.66" width="3.32" height="3.25" fill="#ed2410"/><rect x="420.35" y="123.66" width="3.32" height="3.25" fill="#a7180e"/><rect x="423.67" y="123.66" width="3.32" height="3.25" fill="#5b0707"/><rect x="426.99" y="123.66" width="3.32" height="3.25" fill="#300205"/><rect x="430.32" y="123.66" width="3.32" height="3.25" fill="#190103"/><rect x="433.64" y="123.66" width="6.65" height="3.25" fill="#140102"/><rect x="440.28" y="123.66" width="3.32" height="3.25" fill="#110102"/><rect x="443.61" y="123.66" width="3.32" height="3.25" fill="#0b0001"/><rect x="446.93" y="123.66" width="3.32" height="3.25" fill="#080001"/><rect x="450.25" y="123.66" width="9.97" height="3.25" fill="#060001"/><rect x="460.22" y="123.66" width="3.32" height="3.25" fill="#110102"/><rect x="463.54" y="123.66" width="3.32" height="3.25" fill="#300205"/><rect x="466.87" y="123.66" width="3.32" height="3.25" fill="#560507"/><rect x="470.19" y="123.66" width="3.32" height="3.25" fill="#790e0a"/><rect x="473.51" y="123.66" width="3.32" height="3.25" fill="#94140c"/><rect x="476.83" y="123.66" width="3.32" height="3.25" fill="#aa190e"/><rect x="480.16" y="123.66" width="3.32" height="3.25" fill="#bf1d11"/><rect x="483.48" y="123.66" width="3.32" height="3.25" fill="#d22112"/><rect x="486.80" y="123.66" width="3.32" height="3.25" fill="#df2211"/><rect x="490.12" y="123.66" width="3.32" height="3.25" fill="#e42311"/><rect x="493.45" y="123.66" width="3.32" height="3.25" fill="#de2211"/><rect x="496.77" y="123.66" width="3.32" height="3.25" fill="#cd2012"/><rect x="500.09" y="123.66" width="3.32" height="3.25" fill="#a2170e"/><rect x="503.42" y="123.66" width="3.32" height="3.25" fill="#720c09"/><rect x="506.74" y="123.66" width="3.32" height="3.25" fill="#440406"/><rect x="510.06" y="123.66" width="3.32" height="3.25" fill="#2a0204"/><rect x="513.38" y="123.66" width="3.32" height="3.25" fill="#270204"/><rect x="516.71" y="123.66" width="3.32" height="3.25" fill="#3f0306"/><rect x="520.03" y="123.66" width="3.32" height="3.25" fill="#6f0c09"/><rect x="523.35" y="123.66" width="3.32" height="3.25" fill="#b51b10"/><rect x="526.67" y="123.66" width="3.32" height="3.25" fill="#e62310"/><rect x="530.00" y="123.66" width="3.32" height="3.25" fill="#f9250f"/><rect x="533.32" y="123.66" width="3.32" height="3.25" fill="#ff2810"/><rect x="536.64" y="123.66" width="3.32" height="3.25" fill="#fe2a10"/><rect x="539.96" y="123.66" width="6.65" height="3.25" fill="#ff2810"/><rect x="546.61" y="123.66" width="3.32" height="3.25" fill="#fe260f"/><rect x="549.93" y="123.66" width="3.32" height="3.25" fill="#f7250f"/><rect x="553.25" y="123.66" width="3.32" height="3.25" fill="#e82310"/><rect x="556.58" y="123.66" width="3.32" height="3.25" fill="#de2211"/><rect x="383.80" y="126.90" width="3.32" height="3.25" fill="#770d0a"/><rect x="387.12" y="126.90" width="3.32" height="3.25" fill="#7f0f0a"/><rect x="390.45" y="126.90" width="3.32" height="3.25" fill="#a4170e"/><rect x="393.77" y="126.90" width="3.32" height="3.25" fill="#d92111"/><rect x="397.09" y="126.90" width="3.32" height="3.25" fill="#f42510"/><rect x="400.41" y="126.90" width="6.65" height="3.25" fill="#fe2c10"/><rect x="407.06" y="126.90" width="3.32" height="3.25" fill="#fc260f"/><rect x="410.38" y="126.90" width="3.32" height="3.25" fill="#f02410"/><rect x="413.70" y="126.90" width="3.32" height="3.25" fill="#df2211"/><rect x="417.03" y="126.90" width="3.32" height="3.25" fill="#b51b10"/><rect x="420.35" y="126.90" width="3.32" height="3.25" fill="#7c0f0a"/><rect x="423.67" y="126.90" width="3.32" height="3.25" fill="#510507"/><rect x="426.99" y="126.90" width="3.32" height="3.25" fill="#3a0305"/><rect x="430.32" y="126.90" width="3.32" height="3.25" fill="#300205"/><rect x="433.64" y="126.90" width="3.32" height="3.25" fill="#2a0204"/><rect x="436.96" y="126.90" width="3.32" height="3.25" fill="#240104"/><rect x="440.28" y="126.90" width="3.32" height="3.25" fill="#1c0103"/><rect x="443.61" y="126.90" width="3.32" height="3.25" fill="#110102"/><rect x="446.93" y="126.90" width="3.32" height="3.25" fill="#0b0001"/><rect x="450.25" y="126.90" width="6.65" height="3.25" fill="#060001"/><rect x="456.90" y="126.90" width="3.32" height="3.25" fill="#080001"/><rect x="460.22" y="126.90" width="3.32" height="3.25" fill="#140102"/><rect x="463.54" y="126.90" width="3.32" height="3.25" fill="#2d0204"/><rect x="466.87" y="126.90" width="3.32" height="3.25" fill="#4c0406"/><rect x="470.19" y="126.90" width="3.32" height="3.25" fill="#630808"/><rect x="473.51" y="126.90" width="3.32" height="3.25" fill="#740d09"/><rect x="476.83" y="126.90" width="3.32" height="3.25" fill="#89120b"/><rect x="480.16" y="126.90" width="3.32" height="3.25" fill="#a2170e"/><rect x="483.48" y="126.90" width="3.32" height="3.25" fill="#b21a0f"/><rect x="486.80" y="126.90" width="3.32" height="3.25" fill="#bf1d11"/><rect x="490.12" y="126.90" width="3.32" height="3.25" fill="#c21e11"/><rect x="493.45" y="126.90" width="3.32" height="3.25" fill="#bf1d11"/><rect x="496.77" y="126.90" width="3.32" height="3.25" fill="#b51b10"/><rect x="500.09" y="126.90" width="3.32" height="3.25" fill="#9f160d"/><rect x="503.42" y="126.90" width="3.32" height="3.25" fill="#81100a"/><rect x="506.74" y="126.90" width="3.32" height="3.25" fill="#5e0708"/><rect x="510.06" y="126.90" width="3.32" height="3.25" fill="#3d0306"/><rect x="513.38" y="126.90" width="3.32" height="3.25" fill="#270204"/><rect x="516.71" y="126.90" width="3.32" height="3.25" fill="#240104"/><rect x="520.03" y="126.90" width="3.32" height="3.25" fill="#3a0305"/><rect x="523.35" y="126.90" width="3.32" height="3.25" fill="#6a0a09"/><rect x="526.67" y="126.90" width="3.32" height="3.25" fill="#9f160d"/><rect x="530.00" y="126.90" width="3.32" height="3.25" fill="#c81f11"/><rect x="533.32" y="126.90" width="3.32" height="3.25" fill="#d42112"/><rect x="536.64" y="126.90" width="3.32" height="3.25" fill="#d52111"/><rect x="539.96" y="126.90" width="3.32" height="3.25" fill="#d92111"/><rect x="543.29" y="126.90" width="3.32" height="3.25" fill="#e92310"/><rect x="546.61" y="126.90" width="3.32" height="3.25" fill="#f7250f"/><rect x="549.93" y="126.90" width="3.32" height="3.25" fill="#fc260f"/><rect x="553.25" y="126.90" width="3.32" height="3.25" fill="#ed2410"/><rect x="556.58" y="126.90" width="3.32" height="3.25" fill="#df2211"/><rect x="383.80" y="130.15" width="3.32" height="3.25" fill="#740d09"/><rect x="387.12" y="130.15" width="3.32" height="3.25" fill="#790e0a"/><rect x="390.45" y="130.15" width="3.32" height="3.25" fill="#91130c"/><rect x="393.77" y="130.15" width="3.32" height="3.25" fill="#af1a0f"/><rect x="397.09" y="130.15" width="3.32" height="3.25" fill="#cd2012"/><rect x="400.41" y="130.15" width="3.32" height="3.25" fill="#d72111"/><rect x="403.74" y="130.15" width="3.32" height="3.25" fill="#d22112"/><rect x="407.06" y="130.15" width="3.32" height="3.25" fill="#c21e11"/><rect x="410.38" y="130.15" width="3.32" height="3.25" fill="#aa190e"/><rect x="413.70" y="130.15" width="3.32" height="3.25" fill="#91130c"/><rect x="417.03" y="130.15" width="3.32" height="3.25" fill="#740d09"/><rect x="420.35" y="130.15" width="3.32" height="3.25" fill="#5b0707"/><rect x="423.67" y="130.15" width="3.32" height="3.25" fill="#530507"/><rect x="426.99" y="130.15" width="3.32" height="3.25" fill="#560507"/><rect x="430.32" y="130.15" width="3.32" height="3.25" fill="#5b0707"/><rect x="433.64" y="130.15" width="3.32" height="3.25" fill="#530507"/><rect x="436.96" y="130.15" width="3.32" height="3.25" fill="#420306"/><rect x="440.28" y="130.15" width="3.32" height="3.25" fill="#2d0204"/><rect x="443.61" y="130.15" width="3.32" height="3.25" fill="#190103"/><rect x="446.93" y="130.15" width="3.32" height="3.25" fill="#0e0101"/><rect x="450.25" y="130.15" width="3.32" height="3.25" fill="#080001"/><rect x="453.58" y="130.15" width="6.65" height="3.25" fill="#060001"/><rect x="460.22" y="130.15" width="3.32" height="3.25" fill="#110102"/><rect x="463.54" y="130.15" width="3.32" height="3.25" fill="#2a0204"/><rect x="466.87" y="130.15" width="3.32" height="3.25" fill="#440406"/><rect x="470.19" y="130.15" width="3.32" height="3.25" fill="#510507"/><rect x="473.51" y="130.15" width="3.32" height="3.25" fill="#580607"/><rect x="476.83" y="130.15" width="3.32" height="3.25" fill="#600808"/><rect x="480.16" y="130.15" width="3.32" height="3.25" fill="#6f0c09"/><rect x="483.48" y="130.15" width="3.32" height="3.25" fill="#7f0f0a"/><rect x="486.80" y="130.15" width="3.32" height="3.25" fill="#8f130c"/><rect x="490.12" y="130.15" width="6.65" height="3.25" fill="#9a150d"/><rect x="496.77" y="130.15" width="3.32" height="3.25" fill="#9c160d"/><rect x="500.09" y="130.15" width="3.32" height="3.25" fill="#9f160d"/><rect x="503.42" y="130.15" width="3.32" height="3.25" fill="#97140d"/><rect x="506.74" y="130.15" width="3.32" height="3.25" fill="#790e0a"/><rect x="510.06" y="130.15" width="3.32" height="3.25" fill="#510507"/><rect x="513.38" y="130.15" width="3.32" height="3.25" fill="#2d0204"/><rect x="516.71" y="130.15" width="3.32" height="3.25" fill="#160102"/><rect x="520.03" y="130.15" width="3.32" height="3.25" fill="#190103"/><rect x="523.35" y="130.15" width="3.32" height="3.25" fill="#370205"/><rect x="526.67" y="130.15" width="3.32" height="3.25" fill="#5b0707"/><rect x="530.00" y="130.15" width="3.32" height="3.25" fill="#770d0a"/><rect x="533.32" y="130.15" width="3.32" height="3.25" fill="#87110b"/><rect x="536.64" y="130.15" width="3.32" height="3.25" fill="#8f130c"/><rect x="539.96" y="130.15" width="3.32" height="3.25" fill="#a2170e"/><rect x="543.29" y="130.15" width="3.32" height="3.25" fill="#cf2012"/><rect x="546.61" y="130.15" width="3.32" height="3.25" fill="#ed2410"/><rect x="549.93" y="130.15" width="3.32" height="3.25" fill="#fa250f"/><rect x="553.25" y="130.15" width="3.32" height="3.25" fill="#f22410"/><rect x="556.58" y="130.15" width="3.32" height="3.25" fill="#e42311"/><rect x="383.80" y="133.39" width="3.32" height="3.25" fill="#740d09"/><rect x="387.12" y="133.39" width="3.32" height="3.25" fill="#790e0a"/><rect x="390.45" y="133.39" width="3.32" height="3.25" fill="#84100b"/><rect x="393.77" y="133.39" width="3.32" height="3.25" fill="#8c120c"/><rect x="397.09" y="133.39" width="3.32" height="3.25" fill="#8f130c"/><rect x="400.41" y="133.39" width="3.32" height="3.25" fill="#89120b"/><rect x="403.74" y="133.39" width="3.32" height="3.25" fill="#81100a"/><rect x="407.06" y="133.39" width="3.32" height="3.25" fill="#740d09"/><rect x="410.38" y="133.39" width="3.32" height="3.25" fill="#650908"/><rect x="413.70" y="133.39" width="3.32" height="3.25" fill="#560507"/><rect x="417.03" y="133.39" width="3.32" height="3.25" fill="#4c0406"/><rect x="420.35" y="133.39" width="3.32" height="3.25" fill="#490406"/><rect x="423.67" y="133.39" width="3.32" height="3.25" fill="#580607"/><rect x="426.99" y="133.39" width="3.32" height="3.25" fill="#770d0a"/><rect x="430.32" y="133.39" width="3.32" height="3.25" fill="#8c120c"/><rect x="433.64" y="133.39" width="3.32" height="3.25" fill="#81100a"/><rect x="436.96" y="133.39" width="3.32" height="3.25" fill="#630808"/><rect x="440.28" y="133.39" width="3.32" height="3.25" fill="#420306"/><rect x="443.61" y="133.39" width="3.32" height="3.25" fill="#270204"/><rect x="446.93" y="133.39" width="3.32" height="3.25" fill="#140102"/><rect x="450.25" y="133.39" width="3.32" height="3.25" fill="#080001"/><rect x="453.58" y="133.39" width="3.32" height="3.25" fill="#060001"/><rect x="456.90" y="133.39" width="3.32" height="3.25" fill="#080001"/><rect x="460.22" y="133.39" width="3.32" height="3.25" fill="#140102"/><rect x="463.54" y="133.39" width="3.32" height="3.25" fill="#300205"/><rect x="466.87" y="133.39" width="3.32" height="3.25" fill="#470406"/><rect x="470.19" y="133.39" width="3.32" height="3.25" fill="#4c0406"/><rect x="473.51" y="133.39" width="3.32" height="3.25" fill="#440406"/><rect x="476.83" y="133.39" width="6.65" height="3.25" fill="#3f0306"/><rect x="483.48" y="133.39" width="3.32" height="3.25" fill="#4e0407"/><rect x="486.80" y="133.39" width="3.32" height="3.25" fill="#680a08"/><rect x="490.12" y="133.39" width="3.32" height="3.25" fill="#770d0a"/><rect x="493.45" y="133.39" width="3.32" height="3.25" fill="#7c0f0a"/><rect x="496.77" y="133.39" width="3.32" height="3.25" fill="#87110b"/><rect x="500.09" y="133.39" width="3.32" height="3.25" fill="#9f160d"/><rect x="503.42" y="133.39" width="3.32" height="3.25" fill="#a4170e"/><rect x="506.74" y="133.39" width="3.32" height="3.25" fill="#89120b"/><rect x="510.06" y="133.39" width="3.32" height="3.25" fill="#5b0707"/><rect x="513.38" y="133.39" width="3.32" height="3.25" fill="#300205"/><rect x="516.71" y="133.39" width="3.32" height="3.25" fill="#140102"/><rect x="520.03" y="133.39" width="3.32" height="3.25" fill="#0e0101"/><rect x="523.35" y="133.39" width="3.32" height="3.25" fill="#190103"/><rect x="526.67" y="133.39" width="3.32" height="3.25" fill="#2a0204"/><rect x="530.00" y="133.39" width="3.32" height="3.25" fill="#3d0306"/><rect x="533.32" y="133.39" width="3.32" height="3.25" fill="#4c0406"/><rect x="536.64" y="133.39" width="3.32" height="3.25" fill="#5e0708"/><rect x="539.96" y="133.39" width="3.32" height="3.25" fill="#770d0a"/><rect x="543.29" y="133.39" width="3.32" height="3.25" fill="#a2170e"/><rect x="546.61" y="133.39" width="3.32" height="3.25" fill="#d42112"/><rect x="549.93" y="133.39" width="3.32" height="3.25" fill="#e92310"/><rect x="553.25" y="133.39" width="3.32" height="3.25" fill="#ef2410"/><rect x="556.58" y="133.39" width="3.32" height="3.25" fill="#eb2410"/><rect x="383.80" y="136.64" width="3.32" height="3.25" fill="#5e0708"/><rect x="387.12" y="136.64" width="3.32" height="3.25" fill="#650908"/><rect x="390.45" y="136.64" width="3.32" height="3.25" fill="#6f0c09"/><rect x="393.77" y="136.64" width="3.32" height="3.25" fill="#6d0b09"/><rect x="397.09" y="136.64" width="3.32" height="3.25" fill="#650908"/><rect x="400.41" y="136.64" width="3.32" height="3.25" fill="#600808"/><rect x="403.74" y="136.64" width="3.32" height="3.25" fill="#5b0707"/><rect x="407.06" y="136.64" width="3.32" height="3.25" fill="#560507"/><rect x="410.38" y="136.64" width="3.32" height="3.25" fill="#4e0407"/><rect x="413.70" y="136.64" width="6.65" height="3.25" fill="#470406"/><rect x="420.35" y="136.64" width="3.32" height="3.25" fill="#4e0407"/><rect x="423.67" y="136.64" width="3.32" height="3.25" fill="#6a0a09"/><rect x="426.99" y="136.64" width="3.32" height="3.25" fill="#97140d"/><rect x="430.32" y="136.64" width="3.32" height="3.25" fill="#b21a0f"/><rect x="433.64" y="136.64" width="3.32" height="3.25" fill="#a7180e"/><rect x="436.96" y="136.64" width="3.32" height="3.25" fill="#7f0f0a"/><rect x="440.28" y="136.64" width="3.32" height="3.25" fill="#530507"/><rect x="443.61" y="136.64" width="3.32" height="3.25" fill="#300205"/><rect x="446.93" y="136.64" width="3.32" height="3.25" fill="#140102"/><rect x="450.25" y="136.64" width="6.65" height="3.25" fill="#080001"/><rect x="456.90" y="136.64" width="3.32" height="3.25" fill="#140102"/><rect x="460.22" y="136.64" width="3.32" height="3.25" fill="#300205"/><rect x="463.54" y="136.64" width="3.32" height="3.25" fill="#510507"/><rect x="466.87" y="136.64" width="3.32" height="3.25" fill="#650908"/><rect x="470.19" y="136.64" width="3.32" height="3.25" fill="#600808"/><rect x="473.51" y="136.64" width="3.32" height="3.25" fill="#4c0406"/><rect x="476.83" y="136.64" width="3.32" height="3.25" fill="#3a0305"/><rect x="480.16" y="136.64" width="3.32" height="3.25" fill="#300205"/><rect x="483.48" y="136.64" width="3.32" height="3.25" fill="#370205"/><rect x="486.80" y="136.64" width="3.32" height="3.25" fill="#470406"/><rect x="490.12" y="136.64" width="3.32" height="3.25" fill="#560507"/><rect x="493.45" y="136.64" width="3.32" height="3.25" fill="#630808"/><rect x="496.77" y="136.64" width="3.32" height="3.25" fill="#790e0a"/><rect x="500.09" y="136.64" width="3.32" height="3.25" fill="#9a150d"/><rect x="503.42" y="136.64" width="3.32" height="3.25" fill="#aa190e"/><rect x="506.74" y="136.64" width="3.32" height="3.25" fill="#8f130c"/><rect x="510.06" y="136.64" width="3.32" height="3.25" fill="#600808"/><rect x="513.38" y="136.64" width="3.32" height="3.25" fill="#320205"/><rect x="516.71" y="136.64" width="3.32" height="3.25" fill="#140102"/><rect x="520.03" y="136.64" width="3.32" height="3.25" fill="#080001"/><rect x="523.35" y="136.64" width="3.32" height="3.25" fill="#0b0001"/><rect x="526.67" y="136.64" width="3.32" height="3.25" fill="#140102"/><rect x="530.00" y="136.64" width="3.32" height="3.25" fill="#1f0103"/><rect x="533.32" y="136.64" width="3.32" height="3.25" fill="#320205"/><rect x="536.64" y="136.64" width="3.32" height="3.25" fill="#490406"/><rect x="539.96" y="136.64" width="3.32" height="3.25" fill="#630808"/><rect x="543.29" y="136.64" width="3.32" height="3.25" fill="#84100b"/><rect x="546.61" y="136.64" width="3.32" height="3.25" fill="#aa190e"/><rect x="549.93" y="136.64" width="3.32" height="3.25" fill="#d22112"/><rect x="553.25" y="136.64" width="3.32" height="3.25" fill="#e82310"/><rect x="556.58" y="136.64" width="3.32" height="3.25" fill="#f02410"/><rect x="383.80" y="139.88" width="3.32" height="3.25" fill="#370205"/><rect x="387.12" y="139.88" width="3.32" height="3.25" fill="#3f0306"/><rect x="390.45" y="139.88" width="3.32" height="3.25" fill="#4c0406"/><rect x="393.77" y="139.88" width="3.32" height="3.25" fill="#510507"/><rect x="397.09" y="139.88" width="3.32" height="3.25" fill="#530507"/><rect x="400.41" y="139.88" width="3.32" height="3.25" fill="#560507"/><rect x="403.74" y="139.88" width="3.32" height="3.25" fill="#580607"/><rect x="407.06" y="139.88" width="3.32" height="3.25" fill="#5e0708"/><rect x="410.38" y="139.88" width="3.32" height="3.25" fill="#600808"/><rect x="413.70" y="139.88" width="3.32" height="3.25" fill="#630808"/><rect x="417.03" y="139.88" width="3.32" height="3.25" fill="#680a08"/><rect x="420.35" y="139.88" width="3.32" height="3.25" fill="#740d09"/><rect x="423.67" y="139.88" width="3.32" height="3.25" fill="#8c120c"/><rect x="426.99" y="139.88" width="3.32" height="3.25" fill="#ad190f"/><rect x="430.32" y="139.88" width="3.32" height="3.25" fill="#bf1d11"/><rect x="433.64" y="139.88" width="3.32" height="3.25" fill="#b21a0f"/><rect x="436.96" y="139.88" width="3.32" height="3.25" fill="#8c120c"/><rect x="440.28" y="139.88" width="3.32" height="3.25" fill="#5e0708"/><rect x="443.61" y="139.88" width="3.32" height="3.25" fill="#320205"/><rect x="446.93" y="139.88" width="3.32" height="3.25" fill="#110102"/><rect x="450.25" y="139.88" width="3.32" height="3.25" fill="#060001"/><rect x="453.58" y="139.88" width="3.32" height="3.25" fill="#110102"/><rect x="456.90" y="139.88" width="3.32" height="3.25" fill="#3d0306"/><rect x="460.22" y="139.88" width="3.32" height="3.25" fill="#740d09"/><rect x="463.54" y="139.88" width="3.32" height="3.25" fill="#9c160d"/><rect x="466.87" y="139.88" width="3.32" height="3.25" fill="#a7180e"/><rect x="470.19" y="139.88" width="3.32" height="3.25" fill="#91130c"/><rect x="473.51" y="139.88" width="3.32" height="3.25" fill="#740d09"/><rect x="476.83" y="139.88" width="3.32" height="3.25" fill="#5b0707"/><rect x="480.16" y="139.88" width="3.32" height="3.25" fill="#470406"/><rect x="483.48" y="139.88" width="3.32" height="3.25" fill="#370205"/><rect x="486.80" y="139.88" width="3.32" height="3.25" fill="#300205"/><rect x="490.12" y="139.88" width="3.32" height="3.25" fill="#370205"/><rect x="493.45" y="139.88" width="3.32" height="3.25" fill="#4e0407"/><rect x="496.77" y="139.88" width="3.32" height="3.25" fill="#6f0c09"/><rect x="500.09" y="139.88" width="3.32" height="3.25" fill="#94140c"/><rect x="503.42" y="139.88" width="3.32" height="3.25" fill="#a2170e"/><rect x="506.74" y="139.88" width="3.32" height="3.25" fill="#8c120c"/><rect x="510.06" y="139.88" width="3.32" height="3.25" fill="#630808"/><rect x="513.38" y="139.88" width="3.32" height="3.25" fill="#350205"/><rect x="516.71" y="139.88" width="3.32" height="3.25" fill="#140102"/><rect x="520.03" y="139.88" width="6.65" height="3.25" fill="#080001"/><rect x="526.67" y="139.88" width="3.32" height="3.25" fill="#110102"/><rect x="530.00" y="139.88" width="3.32" height="3.25" fill="#1c0103"/><rect x="533.32" y="139.88" width="3.32" height="3.25" fill="#300205"/><rect x="536.64" y="139.88" width="3.32" height="3.25" fill="#470406"/><rect x="539.96" y="139.88" width="3.32" height="3.25" fill="#600808"/><rect x="543.29" y="139.88" width="3.32" height="3.25" fill="#790e0a"/><rect x="546.61" y="139.88" width="3.32" height="3.25" fill="#94140c"/><rect x="549.93" y="139.88" width="3.32" height="3.25" fill="#ba1c10"/><rect x="553.25" y="139.88" width="3.32" height="3.25" fill="#e42311"/><rect x="556.58" y="139.88" width="3.32" height="3.25" fill="#f02410"/><rect x="383.80" y="143.13" width="3.32" height="3.25" fill="#190103"/><rect x="387.12" y="143.13" width="3.32" height="3.25" fill="#220103"/><rect x="390.45" y="143.13" width="3.32" height="3.25" fill="#320205"/><rect x="393.77" y="143.13" width="3.32" height="3.25" fill="#3f0306"/><rect x="397.09" y="143.13" width="3.32" height="3.25" fill="#4c0406"/><rect x="400.41" y="143.13" width="3.32" height="3.25" fill="#580607"/><rect x="403.74" y="143.13" width="3.32" height="3.25" fill="#650908"/><rect x="407.06" y="143.13" width="3.32" height="3.25" fill="#740d09"/><rect x="410.38" y="143.13" width="3.32" height="3.25" fill="#81100a"/><rect x="413.70" y="143.13" width="3.32" height="3.25" fill="#8c120c"/><rect x="417.03" y="143.13" width="3.32" height="3.25" fill="#94140c"/><rect x="420.35" y="143.13" width="3.32" height="3.25" fill="#9c160d"/><rect x="423.67" y="143.13" width="3.32" height="3.25" fill="#a7180e"/><rect x="426.99" y="143.13" width="3.32" height="3.25" fill="#b51b10"/><rect x="430.32" y="143.13" width="3.32" height="3.25" fill="#bd1d10"/><rect x="433.64" y="143.13" width="3.32" height="3.25" fill="#b21a0f"/><rect x="436.96" y="143.13" width="3.32" height="3.25" fill="#91130c"/><rect x="440.28" y="143.13" width="3.32" height="3.25" fill="#600808"/><rect x="443.61" y="143.13" width="3.32" height="3.25" fill="#320205"/><rect x="446.93" y="143.13" width="3.32" height="3.25" fill="#110102"/><rect x="450.25" y="143.13" width="3.32" height="3.25" fill="#080001"/><rect x="453.58" y="143.13" width="3.32" height="3.25" fill="#220103"/><rect x="456.90" y="143.13" width="3.32" height="3.25" fill="#6d0b09"/><rect x="460.22" y="143.13" width="3.32" height="3.25" fill="#c51e11"/><rect x="463.54" y="143.13" width="6.65" height="3.25" fill="#e32311"/><rect x="470.19" y="143.13" width="3.32" height="3.25" fill="#d22112"/><rect x="473.51" y="143.13" width="3.32" height="3.25" fill="#b21a0f"/><rect x="476.83" y="143.13" width="3.32" height="3.25" fill="#94140c"/><rect x="480.16" y="143.13" width="3.32" height="3.25" fill="#740d09"/><rect x="483.48" y="143.13" width="3.32" height="3.25" fill="#4e0407"/><rect x="486.80" y="143.13" width="3.32" height="3.25" fill="#2d0204"/><rect x="490.12" y="143.13" width="3.32" height="3.25" fill="#270204"/><rect x="493.45" y="143.13" width="3.32" height="3.25" fill="#3f0306"/><rect x="496.77" y="143.13" width="3.32" height="3.25" fill="#600808"/><rect x="500.09" y="143.13" width="3.32" height="3.25" fill="#7f0f0a"/><rect x="503.42" y="143.13" width="3.32" height="3.25" fill="#8c120c"/><rect x="506.74" y="143.13" width="3.32" height="3.25" fill="#7f0f0a"/><rect x="510.06" y="143.13" width="3.32" height="3.25" fill="#5e0708"/><rect x="513.38" y="143.13" width="3.32" height="3.25" fill="#370205"/><rect x="516.71" y="143.13" width="3.32" height="3.25" fill="#190103"/><rect x="520.03" y="143.13" width="6.65" height="3.25" fill="#0e0101"/><rect x="526.67" y="143.13" width="3.32" height="3.25" fill="#160102"/><rect x="530.00" y="143.13" width="3.32" height="3.25" fill="#240104"/><rect x="533.32" y="143.13" width="3.32" height="3.25" fill="#370205"/><rect x="536.64" y="143.13" width="3.32" height="3.25" fill="#510507"/><rect x="539.96" y="143.13" width="3.32" height="3.25" fill="#680a08"/><rect x="543.29" y="143.13" width="3.32" height="3.25" fill="#770d0a"/><rect x="546.61" y="143.13" width="3.32" height="3.25" fill="#89120b"/><rect x="549.93" y="143.13" width="3.32" height="3.25" fill="#aa190e"/><rect x="553.25" y="143.13" width="3.32" height="3.25" fill="#de2211"/><rect x="556.58" y="143.13" width="3.32" height="3.25" fill="#ef2410"/><rect x="383.80" y="146.38" width="3.32" height="3.25" fill="#110102"/><rect x="387.12" y="146.38" width="3.32" height="3.25" fill="#160102"/><rect x="390.45" y="146.38" width="3.32" height="3.25" fill="#270204"/><rect x="393.77" y="146.38" width="3.32" height="3.25" fill="#370205"/><rect x="397.09" y="146.38" width="3.32" height="3.25" fill="#470406"/><rect x="400.41" y="146.38" width="3.32" height="3.25" fill="#580607"/><rect x="403.74" y="146.38" width="3.32" height="3.25" fill="#6d0b09"/><rect x="407.06" y="146.38" width="3.32" height="3.25" fill="#84100b"/><rect x="410.38" y="146.38" width="3.32" height="3.25" fill="#97140d"/><rect x="413.70" y="146.38" width="3.32" height="3.25" fill="#a4170e"/><rect x="417.03" y="146.38" width="3.32" height="3.25" fill="#a7180e"/><rect x="420.35" y="146.38" width="6.65" height="3.25" fill="#a4170e"/><rect x="426.99" y="146.38" width="3.32" height="3.25" fill="#ad190f"/><rect x="430.32" y="146.38" width="3.32" height="3.25" fill="#b21a0f"/><rect x="433.64" y="146.38" width="3.32" height="3.25" fill="#ad190f"/><rect x="436.96" y="146.38" width="3.32" height="3.25" fill="#8f130c"/><rect x="440.28" y="146.38" width="3.32" height="3.25" fill="#5e0708"/><rect x="443.61" y="146.38" width="3.32" height="3.25" fill="#300205"/><rect x="446.93" y="146.38" width="6.65" height="3.25" fill="#160102"/><rect x="453.58" y="146.38" width="3.32" height="3.25" fill="#3d0306"/><rect x="456.90" y="146.38" width="3.32" height="3.25" fill="#89120b"/><rect x="460.22" y="146.38" width="3.32" height="3.25" fill="#da2211"/><rect x="463.54" y="146.38" width="3.32" height="3.25" fill="#f22410"/><rect x="466.87" y="146.38" width="3.32" height="3.25" fill="#f52510"/><rect x="470.19" y="146.38" width="3.32" height="3.25" fill="#ed2410"/><rect x="473.51" y="146.38" width="3.32" height="3.25" fill="#dc2211"/><rect x="476.83" y="146.38" width="3.32" height="3.25" fill="#ca1f12"/><rect x="480.16" y="146.38" width="3.32" height="3.25" fill="#a4170e"/><rect x="483.48" y="146.38" width="3.32" height="3.25" fill="#6f0c09"/><rect x="486.80" y="146.38" width="3.32" height="3.25" fill="#420306"/><rect x="490.12" y="146.38" width="3.32" height="3.25" fill="#2d0204"/><rect x="493.45" y="146.38" width="3.32" height="3.25" fill="#320205"/><rect x="496.77" y="146.38" width="3.32" height="3.25" fill="#470406"/><rect x="500.09" y="146.38" width="3.32" height="3.25" fill="#5b0707"/><rect x="503.42" y="146.38" width="3.32" height="3.25" fill="#6a0a09"/><rect x="506.74" y="146.38" width="3.32" height="3.25" fill="#650908"/><rect x="510.06" y="146.38" width="3.32" height="3.25" fill="#530507"/><rect x="513.38" y="146.38" width="3.32" height="3.25" fill="#3a0305"/><rect x="516.71" y="146.38" width="3.32" height="3.25" fill="#220103"/><rect x="520.03" y="146.38" width="6.65" height="3.25" fill="#190103"/><rect x="526.67" y="146.38" width="3.32" height="3.25" fill="#1c0103"/><rect x="530.00" y="146.38" width="3.32" height="3.25" fill="#270204"/><rect x="533.32" y="146.38" width="3.32" height="3.25" fill="#3a0305"/><rect x="536.64" y="146.38" width="3.32" height="3.25" fill="#530507"/><rect x="539.96" y="146.38" width="3.32" height="3.25" fill="#6f0c09"/><rect x="543.29" y="146.38" width="3.32" height="3.25" fill="#7c0f0a"/><rect x="546.61" y="146.38" width="3.32" height="3.25" fill="#87110b"/><rect x="549.93" y="146.38" width="3.32" height="3.25" fill="#9f160d"/><rect x="553.25" y="146.38" width="3.32" height="3.25" fill="#d22112"/><rect x="556.58" y="146.38" width="3.32" height="3.25" fill="#e82310"/><rect x="383.80" y="149.62" width="3.32" height="3.25" fill="#0e0101"/><rect x="387.12" y="149.62" width="3.32" height="3.25" fill="#140102"/><rect x="390.45" y="149.62" width="3.32" height="3.25" fill="#220103"/><rect x="393.77" y="149.62" width="3.32" height="3.25" fill="#300205"/><rect x="397.09" y="149.62" width="3.32" height="3.25" fill="#420306"/><rect x="400.41" y="149.62" width="3.32" height="3.25" fill="#580607"/><rect x="403.74" y="149.62" width="3.32" height="3.25" fill="#6f0c09"/><rect x="407.06" y="149.62" width="3.32" height="3.25" fill="#89120b"/><rect x="410.38" y="149.62" width="3.32" height="3.25" fill="#9c160d"/><rect x="413.70" y="149.62" width="3.32" height="3.25" fill="#aa190e"/><rect x="417.03" y="149.62" width="3.32" height="3.25" fill="#a7180e"/><rect x="420.35" y="149.62" width="3.32" height="3.25" fill="#a2170e"/><rect x="423.67" y="149.62" width="3.32" height="3.25" fill="#9f160d"/><rect x="426.99" y="149.62" width="3.32" height="3.25" fill="#a7180e"/><rect x="430.32" y="149.62" width="3.32" height="3.25" fill="#aa190e"/><rect x="433.64" y="149.62" width="3.32" height="3.25" fill="#9c160d"/><rect x="436.96" y="149.62" width="3.32" height="3.25" fill="#7c0f0a"/><rect x="440.28" y="149.62" width="3.32" height="3.25" fill="#510507"/><rect x="443.61" y="149.62" width="3.32" height="3.25" fill="#2d0204"/><rect x="446.93" y="149.62" width="3.32" height="3.25" fill="#220103"/><rect x="450.25" y="149.62" width="3.32" height="3.25" fill="#300205"/><rect x="453.58" y="149.62" width="3.32" height="3.25" fill="#580607"/><rect x="456.90" y="149.62" width="3.32" height="3.25" fill="#9a150d"/><rect x="460.22" y="149.62" width="3.32" height="3.25" fill="#dc2211"/><rect x="463.54" y="149.62" width="3.32" height="3.25" fill="#f52510"/><rect x="466.87" y="149.62" width="3.32" height="3.25" fill="#ff260f"/><rect x="470.19" y="149.62" width="3.32" height="3.25" fill="#fa250f"/><rect x="473.51" y="149.62" width="3.32" height="3.25" fill="#ef2410"/><rect x="476.83" y="149.62" width="3.32" height="3.25" fill="#e12211"/><rect x="480.16" y="149.62" width="3.32" height="3.25" fill="#c81f11"/><rect x="483.48" y="149.62" width="3.32" height="3.25" fill="#8f130c"/><rect x="486.80" y="149.62" width="3.32" height="3.25" fill="#580607"/><rect x="490.12" y="149.62" width="3.32" height="3.25" fill="#350205"/><rect x="493.45" y="149.62" width="3.32" height="3.25" fill="#270204"/><rect x="496.77" y="149.62" width="3.32" height="3.25" fill="#2a0204"/><rect x="500.09" y="149.62" width="3.32" height="3.25" fill="#3a0305"/><rect x="503.42" y="149.62" width="3.32" height="3.25" fill="#490406"/><rect x="506.74" y="149.62" width="3.32" height="3.25" fill="#4c0406"/><rect x="510.06" y="149.62" width="3.32" height="3.25" fill="#470406"/><rect x="513.38" y="149.62" width="3.32" height="3.25" fill="#3d0306"/><rect x="516.71" y="149.62" width="3.32" height="3.25" fill="#320205"/><rect x="520.03" y="149.62" width="3.32" height="3.25" fill="#2a0204"/><rect x="523.35" y="149.62" width="6.65" height="3.25" fill="#240104"/><rect x="530.00" y="149.62" width="3.32" height="3.25" fill="#2a0204"/><rect x="533.32" y="149.62" width="3.32" height="3.25" fill="#370205"/><rect x="536.64" y="149.62" width="3.32" height="3.25" fill="#4e0407"/><rect x="539.96" y="149.62" width="3.32" height="3.25" fill="#6a0a09"/><rect x="543.29" y="149.62" width="3.32" height="3.25" fill="#7c0f0a"/><rect x="546.61" y="149.62" width="3.32" height="3.25" fill="#89120b"/><rect x="549.93" y="149.62" width="3.32" height="3.25" fill="#a2170e"/><rect x="553.25" y="149.62" width="3.32" height="3.25" fill="#cf2012"/><rect x="556.58" y="149.62" width="3.32" height="3.25" fill="#e12211"/><rect x="383.80" y="152.87" width="6.65" height="3.25" fill="#0b0001"/><rect x="390.45" y="152.87" width="3.32" height="3.25" fill="#140102"/><rect x="393.77" y="152.87" width="3.32" height="3.25" fill="#240104"/><rect x="397.09" y="152.87" width="3.32" height="3.25" fill="#3d0306"/><rect x="400.41" y="152.87" width="3.32" height="3.25" fill="#560507"/><rect x="403.74" y="152.87" width="3.32" height="3.25" fill="#6f0c09"/><rect x="407.06" y="152.87" width="3.32" height="3.25" fill="#87110b"/><rect x="410.38" y="152.87" width="3.32" height="3.25" fill="#94140c"/><rect x="413.70" y="152.87" width="3.32" height="3.25" fill="#9f160d"/><rect x="417.03" y="152.87" width="3.32" height="3.25" fill="#a4170e"/><rect x="420.35" y="152.87" width="3.32" height="3.25" fill="#ad190f"/><rect x="423.67" y="152.87" width="3.32" height="3.25" fill="#b21a0f"/><rect x="426.99" y="152.87" width="3.32" height="3.25" fill="#b51b10"/><rect x="430.32" y="152.87" width="3.32" height="3.25" fill="#a7180e"/><rect x="433.64" y="152.87" width="3.32" height="3.25" fill="#81100a"/><rect x="436.96" y="152.87" width="3.32" height="3.25" fill="#580607"/><rect x="440.28" y="152.87" width="3.32" height="3.25" fill="#370205"/><rect x="443.61" y="152.87" width="3.32" height="3.25" fill="#240104"/><rect x="446.93" y="152.87" width="3.32" height="3.25" fill="#2a0204"/><rect x="450.25" y="152.87" width="3.32" height="3.25" fill="#470406"/><rect x="453.58" y="152.87" width="3.32" height="3.25" fill="#740d09"/><rect x="456.90" y="152.87" width="3.32" height="3.25" fill="#af1a0f"/><rect x="460.22" y="152.87" width="3.32" height="3.25" fill="#e32311"/><rect x="463.54" y="152.87" width="3.32" height="3.25" fill="#fa250f"/><rect x="466.87" y="152.87" width="3.32" height="3.25" fill="#fe2e11"/><rect x="470.19" y="152.87" width="3.32" height="3.25" fill="#fe2a10"/><rect x="473.51" y="152.87" width="3.32" height="3.25" fill="#f7250f"/><rect x="476.83" y="152.87" width="3.32" height="3.25" fill="#e92310"/><rect x="480.16" y="152.87" width="3.32" height="3.25" fill="#d22112"/><rect x="483.48" y="152.87" width="3.32" height="3.25" fill="#97140d"/><rect x="486.80" y="152.87" width="3.32" height="3.25" fill="#5b0707"/><rect x="490.12" y="152.87" width="3.32" height="3.25" fill="#320205"/><rect x="493.45" y="152.87" width="3.32" height="3.25" fill="#1f0103"/><rect x="496.77" y="152.87" width="3.32" height="3.25" fill="#1c0103"/><rect x="500.09" y="152.87" width="3.32" height="3.25" fill="#240104"/><rect x="503.42" y="152.87" width="3.32" height="3.25" fill="#320205"/><rect x="506.74" y="152.87" width="3.32" height="3.25" fill="#3a0305"/><rect x="510.06" y="152.87" width="3.32" height="3.25" fill="#3f0306"/><rect x="513.38" y="152.87" width="6.65" height="3.25" fill="#420306"/><rect x="520.03" y="152.87" width="3.32" height="3.25" fill="#3d0306"/><rect x="523.35" y="152.87" width="3.32" height="3.25" fill="#350205"/><rect x="526.67" y="152.87" width="6.65" height="3.25" fill="#2d0204"/><rect x="533.32" y="152.87" width="3.32" height="3.25" fill="#320205"/><rect x="536.64" y="152.87" width="3.32" height="3.25" fill="#3d0306"/><rect x="539.96" y="152.87" width="3.32" height="3.25" fill="#510507"/><rect x="543.29" y="152.87" width="3.32" height="3.25" fill="#6d0b09"/><rect x="546.61" y="152.87" width="3.32" height="3.25" fill="#91130c"/><rect x="549.93" y="152.87" width="3.32" height="3.25" fill="#ba1c10"/><rect x="553.25" y="152.87" width="3.32" height="3.25" fill="#da2211"/><rect x="556.58" y="152.87" width="3.32" height="3.25" fill="#e12211"/><rect x="383.80" y="156.11" width="3.32" height="3.25" fill="#0b0001"/><rect x="387.12" y="156.11" width="3.32" height="3.25" fill="#080001"/><rect x="390.45" y="156.11" width="3.32" height="3.25" fill="#0e0101"/><rect x="393.77" y="156.11" width="3.32" height="3.25" fill="#1c0103"/><rect x="397.09" y="156.11" width="3.32" height="3.25" fill="#320205"/><rect x="400.41" y="156.11" width="3.32" height="3.25" fill="#4c0406"/><rect x="403.74" y="156.11" width="3.32" height="3.25" fill="#600808"/><rect x="407.06" y="156.11" width="3.32" height="3.25" fill="#720c09"/><rect x="410.38" y="156.11" width="3.32" height="3.25" fill="#790e0a"/><rect x="413.70" y="156.11" width="3.32" height="3.25" fill="#81100a"/><rect x="417.03" y="156.11" width="3.32" height="3.25" fill="#91130c"/><rect x="420.35" y="156.11" width="3.32" height="3.25" fill="#a7180e"/><rect x="423.67" y="156.11" width="3.32" height="3.25" fill="#ba1c10"/><rect x="426.99" y="156.11" width="3.32" height="3.25" fill="#b71b10"/><rect x="430.32" y="156.11" width="3.32" height="3.25" fill="#94140c"/><rect x="433.64" y="156.11" width="3.32" height="3.25" fill="#600808"/><rect x="436.96" y="156.11" width="3.32" height="3.25" fill="#320205"/><rect x="440.28" y="156.11" width="6.65" height="3.25" fill="#1c0103"/><rect x="446.93" y="156.11" width="3.32" height="3.25" fill="#2d0204"/><rect x="450.25" y="156.11" width="3.32" height="3.25" fill="#510507"/><rect x="453.58" y="156.11" width="3.32" height="3.25" fill="#84100b"/><rect x="456.90" y="156.11" width="3.32" height="3.25" fill="#bf1d11"/><rect x="460.22" y="156.11" width="3.32" height="3.25" fill="#e92310"/><rect x="463.54" y="156.11" width="3.32" height="3.25" fill="#ff260f"/><rect x="466.87" y="156.11" width="3.32" height="3.25" fill="#fd3412"/><rect x="470.19" y="156.11" width="3.32" height="3.25" fill="#fd3212"/><rect x="473.51" y="156.11" width="3.32" height="3.25" fill="#fe260f"/><rect x="476.83" y="156.11" width="3.32" height="3.25" fill="#ed2410"/><rect x="480.16" y="156.11" width="3.32" height="3.25" fill="#d02012"/><rect x="483.48" y="156.11" width="3.32" height="3.25" fill="#8c120c"/><rect x="486.80" y="156.11" width="3.32" height="3.25" fill="#4e0407"/><rect x="490.12" y="156.11" width="3.32" height="3.25" fill="#270204"/><rect x="493.45" y="156.11" width="3.32" height="3.25" fill="#160102"/><rect x="496.77" y="156.11" width="3.32" height="3.25" fill="#140102"/><rect x="500.09" y="156.11" width="3.32" height="3.25" fill="#190103"/><rect x="503.42" y="156.11" width="3.32" height="3.25" fill="#220103"/><rect x="506.74" y="156.11" width="3.32" height="3.25" fill="#2a0204"/><rect x="510.06" y="156.11" width="3.32" height="3.25" fill="#350205"/><rect x="513.38" y="156.11" width="3.32" height="3.25" fill="#3f0306"/><rect x="516.71" y="156.11" width="3.32" height="3.25" fill="#470406"/><rect x="520.03" y="156.11" width="3.32" height="3.25" fill="#440406"/><rect x="523.35" y="156.11" width="3.32" height="3.25" fill="#3a0305"/><rect x="526.67" y="156.11" width="3.32" height="3.25" fill="#320205"/><rect x="530.00" y="156.11" width="3.32" height="3.25" fill="#2d0204"/><rect x="533.32" y="156.11" width="3.32" height="3.25" fill="#270204"/><rect x="536.64" y="156.11" width="3.32" height="3.25" fill="#240104"/><rect x="539.96" y="156.11" width="3.32" height="3.25" fill="#300205"/><rect x="543.29" y="156.11" width="3.32" height="3.25" fill="#530507"/><rect x="546.61" y="156.11" width="3.32" height="3.25" fill="#8c120c"/><rect x="549.93" y="156.11" width="3.32" height="3.25" fill="#c81f11"/><rect x="553.25" y="156.11" width="3.32" height="3.25" fill="#dc2211"/><rect x="556.58" y="156.11" width="3.32" height="3.25" fill="#d92111"/><rect x="383.80" y="159.36" width="3.32" height="3.25" fill="#190103"/><rect x="387.12" y="159.36" width="3.32" height="3.25" fill="#160102"/><rect x="390.45" y="159.36" width="3.32" height="3.25" fill="#140102"/><rect x="393.77" y="159.36" width="3.32" height="3.25" fill="#190103"/><rect x="397.09" y="159.36" width="3.32" height="3.25" fill="#240104"/><rect x="400.41" y="159.36" width="3.32" height="3.25" fill="#320205"/><rect x="403.74" y="159.36" width="3.32" height="3.25" fill="#3f0306"/><rect x="407.06" y="159.36" width="3.32" height="3.25" fill="#470406"/><rect x="410.38" y="159.36" width="3.32" height="3.25" fill="#490406"/><rect x="413.70" y="159.36" width="3.32" height="3.25" fill="#4e0407"/><rect x="417.03" y="159.36" width="3.32" height="3.25" fill="#5b0707"/><rect x="420.35" y="159.36" width="3.32" height="3.25" fill="#720c09"/><rect x="423.67" y="159.36" width="3.32" height="3.25" fill="#84100b"/><rect x="426.99" y="159.36" width="3.32" height="3.25" fill="#7f0f0a"/><rect x="430.32" y="159.36" width="3.32" height="3.25" fill="#650908"/><rect x="433.64" y="159.36" width="3.32" height="3.25" fill="#3d0306"/><rect x="436.96" y="159.36" width="3.32" height="3.25" fill="#190103"/><rect x="440.28" y="159.36" width="3.32" height="3.25" fill="#0e0101"/><rect x="443.61" y="159.36" width="3.32" height="3.25" fill="#140102"/><rect x="446.93" y="159.36" width="3.32" height="3.25" fill="#240104"/><rect x="450.25" y="159.36" width="3.32" height="3.25" fill="#470406"/><rect x="453.58" y="159.36" width="3.32" height="3.25" fill="#770d0a"/><rect x="456.90" y="159.36" width="3.32" height="3.25" fill="#b71b10"/><rect x="460.22" y="159.36" width="3.32" height="3.25" fill="#e82310"/><rect x="463.54" y="159.36" width="3.32" height="3.25" fill="#ff260f"/><rect x="466.87" y="159.36" width="3.32" height="3.25" fill="#fc3813"/><rect x="470.19" y="159.36" width="3.32" height="3.25" fill="#fb3b14"/><rect x="473.51" y="159.36" width="3.32" height="3.25" fill="#fd3011"/><rect x="476.83" y="159.36" width="3.32" height="3.25" fill="#f42510"/><rect x="480.16" y="159.36" width="3.32" height="3.25" fill="#d22112"/><rect x="483.48" y="159.36" width="3.32" height="3.25" fill="#81100a"/><rect x="486.80" y="159.36" width="3.32" height="3.25" fill="#420306"/><rect x="490.12" y="159.36" width="3.32" height="3.25" fill="#1f0103"/><rect x="493.45" y="159.36" width="3.32" height="3.25" fill="#110102"/><rect x="496.77" y="159.36" width="3.32" height="3.25" fill="#0e0101"/><rect x="500.09" y="159.36" width="3.32" height="3.25" fill="#110102"/><rect x="503.42" y="159.36" width="3.32" height="3.25" fill="#140102"/><rect x="506.74" y="159.36" width="3.32" height="3.25" fill="#1c0103"/><rect x="510.06" y="159.36" width="3.32" height="3.25" fill="#240104"/><rect x="513.38" y="159.36" width="3.32" height="3.25" fill="#300205"/><rect x="516.71" y="159.36" width="6.65" height="3.25" fill="#350205"/><rect x="523.35" y="159.36" width="3.32" height="3.25" fill="#2d0204"/><rect x="526.67" y="159.36" width="3.32" height="3.25" fill="#270204"/><rect x="530.00" y="159.36" width="3.32" height="3.25" fill="#220103"/><rect x="533.32" y="159.36" width="3.32" height="3.25" fill="#1c0103"/><rect x="536.64" y="159.36" width="3.32" height="3.25" fill="#160102"/><rect x="539.96" y="159.36" width="3.32" height="3.25" fill="#190103"/><rect x="543.29" y="159.36" width="3.32" height="3.25" fill="#370205"/><rect x="546.61" y="159.36" width="3.32" height="3.25" fill="#680a08"/><rect x="549.93" y="159.36" width="3.32" height="3.25" fill="#9a150d"/><rect x="553.25" y="159.36" width="3.32" height="3.25" fill="#aa190e"/><rect x="556.58" y="159.36" width="3.32" height="3.25" fill="#a2170e"/><rect x="383.80" y="162.60" width="3.32" height="3.25" fill="#350205"/><rect x="387.12" y="162.60" width="3.32" height="3.25" fill="#320205"/><rect x="390.45" y="162.60" width="3.32" height="3.25" fill="#2a0204"/><rect x="393.77" y="162.60" width="3.32" height="3.25" fill="#1f0103"/><rect x="397.09" y="162.60" width="3.32" height="3.25" fill="#190103"/><rect x="400.41" y="162.60" width="3.32" height="3.25" fill="#160102"/><rect x="403.74" y="162.60" width="3.32" height="3.25" fill="#190103"/><rect x="407.06" y="162.60" width="9.97" height="3.25" fill="#1c0103"/><rect x="417.03" y="162.60" width="3.32" height="3.25" fill="#240104"/><rect x="420.35" y="162.60" width="3.32" height="3.25" fill="#300205"/><rect x="423.67" y="162.60" width="6.65" height="3.25" fill="#3a0305"/><rect x="430.32" y="162.60" width="3.32" height="3.25" fill="#300205"/><rect x="433.64" y="162.60" width="3.32" height="3.25" fill="#1f0103"/><rect x="436.96" y="162.60" width="3.32" height="3.25" fill="#110102"/><rect x="440.28" y="162.60" width="3.32" height="3.25" fill="#0b0001"/><rect x="443.61" y="162.60" width="3.32" height="3.25" fill="#0e0101"/><rect x="446.93" y="162.60" width="3.32" height="3.25" fill="#190103"/><rect x="450.25" y="162.60" width="3.32" height="3.25" fill="#300205"/><rect x="453.58" y="162.60" width="3.32" height="3.25" fill="#580607"/><rect x="456.90" y="162.60" width="3.32" height="3.25" fill="#97140d"/><rect x="460.22" y="162.60" width="3.32" height="3.25" fill="#dc2211"/><rect x="463.54" y="162.60" width="3.32" height="3.25" fill="#fc260f"/><rect x="466.87" y="162.60" width="3.32" height="3.25" fill="#fc3a13"/><rect x="470.19" y="162.60" width="3.32" height="3.25" fill="#fa4115"/><rect x="473.51" y="162.60" width="3.32" height="3.25" fill="#fc3813"/><rect x="476.83" y="162.60" width="3.32" height="3.25" fill="#fa250f"/><rect x="480.16" y="162.60" width="3.32" height="3.25" fill="#d42112"/><rect x="483.48" y="162.60" width="3.32" height="3.25" fill="#7f0f0a"/><rect x="486.80" y="162.60" width="3.32" height="3.25" fill="#3d0306"/><rect x="490.12" y="162.60" width="3.32" height="3.25" fill="#190103"/><rect x="493.45" y="162.60" width="3.32" height="3.25" fill="#0e0101"/><rect x="496.77" y="162.60" width="9.97" height="3.25" fill="#0b0001"/><rect x="506.74" y="162.60" width="3.32" height="3.25" fill="#110102"/><rect x="510.06" y="162.60" width="3.32" height="3.25" fill="#140102"/><rect x="513.38" y="162.60" width="3.32" height="3.25" fill="#160102"/><rect x="516.71" y="162.60" width="3.32" height="3.25" fill="#190103"/><rect x="520.03" y="162.60" width="6.65" height="3.25" fill="#160102"/><rect x="526.67" y="162.60" width="6.65" height="3.25" fill="#140102"/><rect x="533.32" y="162.60" width="3.32" height="3.25" fill="#110102"/><rect x="536.64" y="162.60" width="3.32" height="3.25" fill="#0e0101"/><rect x="539.96" y="162.60" width="3.32" height="3.25" fill="#110102"/><rect x="543.29" y="162.60" width="3.32" height="3.25" fill="#1f0103"/><rect x="546.61" y="162.60" width="3.32" height="3.25" fill="#3a0305"/><rect x="549.93" y="162.60" width="3.32" height="3.25" fill="#510507"/><rect x="553.25" y="162.60" width="3.32" height="3.25" fill="#560507"/><rect x="556.58" y="162.60" width="3.32" height="3.25" fill="#510507"/><rect x="383.80" y="165.85" width="3.32" height="3.25" fill="#4c0406"/><rect x="387.12" y="165.85" width="3.32" height="3.25" fill="#470406"/><rect x="390.45" y="165.85" width="3.32" height="3.25" fill="#370205"/><rect x="393.77" y="165.85" width="3.32" height="3.25" fill="#240104"/><rect x="397.09" y="165.85" width="3.32" height="3.25" fill="#140102"/><rect x="400.41" y="165.85" width="3.32" height="3.25" fill="#0b0001"/><rect x="403.74" y="165.85" width="16.61" height="3.25" fill="#080001"/><rect x="420.35" y="165.85" width="3.32" height="3.25" fill="#0e0101"/><rect x="423.67" y="165.85" width="3.32" height="3.25" fill="#110102"/><rect x="426.99" y="165.85" width="3.32" height="3.25" fill="#140102"/><rect x="430.32" y="165.85" width="3.32" height="3.25" fill="#110102"/><rect x="433.64" y="165.85" width="3.32" height="3.25" fill="#0e0101"/><rect x="436.96" y="165.85" width="9.97" height="3.25" fill="#0b0001"/><rect x="446.93" y="165.85" width="3.32" height="3.25" fill="#110102"/><rect x="450.25" y="165.85" width="3.32" height="3.25" fill="#1c0103"/><rect x="453.58" y="165.85" width="3.32" height="3.25" fill="#3f0306"/><rect x="456.90" y="165.85" width="3.32" height="3.25" fill="#790e0a"/><rect x="460.22" y="165.85" width="3.32" height="3.25" fill="#cd2012"/><rect x="463.54" y="165.85" width="3.32" height="3.25" fill="#f52510"/><rect x="466.87" y="165.85" width="3.32" height="3.25" fill="#fc3613"/><rect x="470.19" y="165.85" width="3.32" height="3.25" fill="#fb3b14"/><rect x="473.51" y="165.85" width="3.32" height="3.25" fill="#fd3212"/><rect x="476.83" y="165.85" width="3.32" height="3.25" fill="#f52510"/><rect x="480.16" y="165.85" width="3.32" height="3.25" fill="#d22112"/><rect x="483.48" y="165.85" width="3.32" height="3.25" fill="#81100a"/><rect x="486.80" y="165.85" width="3.32" height="3.25" fill="#3d0306"/><rect x="490.12" y="165.85" width="3.32" height="3.25" fill="#190103"/><rect x="493.45" y="165.85" width="3.32" height="3.25" fill="#0b0001"/><rect x="496.77" y="165.85" width="13.29" height="3.25" fill="#080001"/><rect x="510.06" y="165.85" width="6.65" height="3.25" fill="#0b0001"/><rect x="516.71" y="165.85" width="9.97" height="3.25" fill="#080001"/><rect x="526.67" y="165.85" width="16.61" height="3.25" fill="#0b0001"/><rect x="543.29" y="165.85" width="3.32" height="3.25" fill="#110102"/><rect x="546.61" y="165.85" width="3.32" height="3.25" fill="#190103"/><rect x="549.93" y="165.85" width="3.32" height="3.25" fill="#1f0103"/><rect x="553.25" y="165.85" width="6.65" height="3.25" fill="#220103"/><rect x="383.80" y="169.09" width="3.32" height="3.25" fill="#4e0407"/><rect x="387.12" y="169.09" width="3.32" height="3.25" fill="#470406"/><rect x="390.45" y="169.09" width="3.32" height="3.25" fill="#350205"/><rect x="393.77" y="169.09" width="3.32" height="3.25" fill="#240104"/><rect x="397.09" y="169.09" width="3.32" height="3.25" fill="#160102"/><rect x="400.41" y="169.09" width="3.32" height="3.25" fill="#0e0101"/><rect x="403.74" y="169.09" width="3.32" height="3.25" fill="#080001"/><rect x="407.06" y="169.09" width="9.97" height="3.25" fill="#060001"/><rect x="417.03" y="169.09" width="3.32" height="3.25" fill="#080001"/><rect x="420.35" y="169.09" width="6.65" height="3.25" fill="#0b0001"/><rect x="426.99" y="169.09" width="3.32" height="3.25" fill="#0e0101"/><rect x="430.32" y="169.09" width="19.94" height="3.25" fill="#0b0001"/><rect x="450.25" y="169.09" width="3.32" height="3.25" fill="#160102"/><rect x="453.58" y="169.09" width="3.32" height="3.25" fill="#320205"/><rect x="456.90" y="169.09" width="3.32" height="3.25" fill="#680a08"/><rect x="460.22" y="169.09" width="3.32" height="3.25" fill="#b71b10"/><rect x="463.54" y="169.09" width="3.32" height="3.25" fill="#f02410"/><rect x="466.87" y="169.09" width="3.32" height="3.25" fill="#fe2e11"/><rect x="470.19" y="169.09" width="3.32" height="3.25" fill="#fe2a10"/><rect x="473.51" y="169.09" width="3.32" height="3.25" fill="#f52510"/><rect x="476.83" y="169.09" width="3.32" height="3.25" fill="#e62310"/><rect x="480.16" y="169.09" width="3.32" height="3.25" fill="#ca1f12"/><rect x="483.48" y="169.09" width="3.32" height="3.25" fill="#81100a"/><rect x="486.80" y="169.09" width="3.32" height="3.25" fill="#3f0306"/><rect x="490.12" y="169.09" width="3.32" height="3.25" fill="#190103"/><rect x="493.45" y="169.09" width="3.32" height="3.25" fill="#0e0101"/><rect x="496.77" y="169.09" width="3.32" height="3.25" fill="#0b0001"/><rect x="500.09" y="169.09" width="3.32" height="3.25" fill="#080001"/><rect x="503.42" y="169.09" width="3.32" height="3.25" fill="#060001"/><rect x="506.74" y="169.09" width="19.94" height="3.25" fill="#080001"/><rect x="526.67" y="169.09" width="6.65" height="3.25" fill="#0b0001"/><rect x="533.32" y="169.09" width="6.65" height="3.25" fill="#0e0101"/><rect x="539.96" y="169.09" width="13.29" height="3.25" fill="#0b0001"/><rect x="553.25" y="169.09" width="6.65" height="3.25" fill="#0e0101"/><rect x="383.80" y="172.34" width="3.32" height="3.25" fill="#3f0306"/><rect x="387.12" y="172.34" width="3.32" height="3.25" fill="#370205"/><rect x="390.45" y="172.34" width="3.32" height="3.25" fill="#2d0204"/><rect x="393.77" y="172.34" width="3.32" height="3.25" fill="#240104"/><rect x="397.09" y="172.34" width="3.32" height="3.25" fill="#220103"/><rect x="400.41" y="172.34" width="3.32" height="3.25" fill="#1c0103"/><rect x="403.74" y="172.34" width="3.32" height="3.25" fill="#140102"/><rect x="407.06" y="172.34" width="3.32" height="3.25" fill="#0b0001"/><rect x="410.38" y="172.34" width="3.32" height="3.25" fill="#080001"/><rect x="413.70" y="172.34" width="6.65" height="3.25" fill="#0b0001"/><rect x="420.35" y="172.34" width="13.29" height="3.25" fill="#0e0101"/><rect x="433.64" y="172.34" width="3.32" height="3.25" fill="#0b0001"/><rect x="436.96" y="172.34" width="9.97" height="3.25" fill="#080001"/><rect x="446.93" y="172.34" width="3.32" height="3.25" fill="#0b0001"/><rect x="450.25" y="172.34" width="3.32" height="3.25" fill="#110102"/><rect x="453.58" y="172.34" width="3.32" height="3.25" fill="#2a0204"/><rect x="456.90" y="172.34" width="3.32" height="3.25" fill="#580607"/><rect x="460.22" y="172.34" width="3.32" height="3.25" fill="#a7180e"/><rect x="463.54" y="172.34" width="3.32" height="3.25" fill="#eb2410"/><rect x="466.87" y="172.34" width="3.32" height="3.25" fill="#ff260f"/><rect x="470.19" y="172.34" width="3.32" height="3.25" fill="#f42510"/><rect x="473.51" y="172.34" width="3.32" height="3.25" fill="#de2211"/><rect x="476.83" y="172.34" width="3.32" height="3.25" fill="#cd2012"/><rect x="480.16" y="172.34" width="3.32" height="3.25" fill="#b21a0f"/><rect x="483.48" y="172.34" width="3.32" height="3.25" fill="#790e0a"/><rect x="486.80" y="172.34" width="3.32" height="3.25" fill="#3d0306"/><rect x="490.12" y="172.34" width="3.32" height="3.25" fill="#190103"/><rect x="493.45" y="172.34" width="3.32" height="3.25" fill="#110102"/><rect x="496.77" y="172.34" width="3.32" height="3.25" fill="#0e0101"/><rect x="500.09" y="172.34" width="3.32" height="3.25" fill="#080001"/><rect x="503.42" y="172.34" width="6.65" height="3.25" fill="#060001"/><rect x="510.06" y="172.34" width="3.32" height="3.25" fill="#080001"/><rect x="513.38" y="172.34" width="6.65" height="3.25" fill="#0e0101"/><rect x="520.03" y="172.34" width="3.32" height="3.25" fill="#110102"/><rect x="523.35" y="172.34" width="3.32" height="3.25" fill="#0e0101"/><rect x="526.67" y="172.34" width="3.32" height="3.25" fill="#110102"/><rect x="530.00" y="172.34" width="6.65" height="3.25" fill="#140102"/><rect x="536.64" y="172.34" width="3.32" height="3.25" fill="#110102"/><rect x="539.96" y="172.34" width="3.32" height="3.25" fill="#0e0101"/><rect x="543.29" y="172.34" width="3.32" height="3.25" fill="#080001"/><rect x="546.61" y="172.34" width="9.97" height="3.25" fill="#060001"/><rect x="556.58" y="172.34" width="3.32" height="3.25" fill="#080001"/><rect x="383.80" y="175.58" width="3.32" height="3.25" fill="#240104"/><rect x="387.12" y="175.58" width="6.65" height="3.25" fill="#220103"/><rect x="393.77" y="175.58" width="3.32" height="3.25" fill="#2a0204"/><rect x="397.09" y="175.58" width="6.65" height="3.25" fill="#300205"/><rect x="403.74" y="175.58" width="3.32" height="3.25" fill="#240104"/><rect x="407.06" y="175.58" width="3.32" height="3.25" fill="#160102"/><rect x="410.38" y="175.58" width="23.26" height="3.25" fill="#0e0101"/><rect x="433.64" y="175.58" width="3.32" height="3.25" fill="#0b0001"/><rect x="436.96" y="175.58" width="3.32" height="3.25" fill="#080001"/><rect x="440.28" y="175.58" width="3.32" height="3.25" fill="#060001"/><rect x="443.61" y="175.58" width="6.65" height="3.25" fill="#080001"/><rect x="450.25" y="175.58" width="3.32" height="3.25" fill="#0e0101"/><rect x="453.58" y="175.58" width="3.32" height="3.25" fill="#220103"/><rect x="456.90" y="175.58" width="3.32" height="3.25" fill="#4c0406"/><rect x="460.22" y="175.58" width="3.32" height="3.25" fill="#94140c"/><rect x="463.54" y="175.58" width="3.32" height="3.25" fill="#e32311"/><rect x="466.87" y="175.58" width="3.32" height="3.25" fill="#f9250f"/><rect x="470.19" y="175.58" width="3.32" height="3.25" fill="#e92310"/><rect x="473.51" y="175.58" width="3.32" height="3.25" fill="#c51e11"/><rect x="476.83" y="175.58" width="3.32" height="3.25" fill="#a7180e"/><rect x="480.16" y="175.58" width="3.32" height="3.25" fill="#94140c"/><rect x="483.48" y="175.58" width="3.32" height="3.25" fill="#650908"/><rect x="486.80" y="175.58" width="3.32" height="3.25" fill="#320205"/><rect x="490.12" y="175.58" width="3.32" height="3.25" fill="#160102"/><rect x="493.45" y="175.58" width="6.65" height="3.25" fill="#0e0101"/><rect x="500.09" y="175.58" width="3.32" height="3.25" fill="#080001"/><rect x="503.42" y="175.58" width="3.32" height="3.25" fill="#060001"/><rect x="506.74" y="175.58" width="3.32" height="3.25" fill="#080001"/><rect x="510.06" y="175.58" width="3.32" height="3.25" fill="#0b0001"/><rect x="513.38" y="175.58" width="3.32" height="3.25" fill="#140102"/><rect x="516.71" y="175.58" width="3.32" height="3.25" fill="#190103"/><rect x="520.03" y="175.58" width="6.65" height="3.25" fill="#1c0103"/><rect x="526.67" y="175.58" width="9.97" height="3.25" fill="#1f0103"/><rect x="536.64" y="175.58" width="3.32" height="3.25" fill="#190103"/><rect x="539.96" y="175.58" width="3.32" height="3.25" fill="#110102"/><rect x="543.29" y="175.58" width="3.32" height="3.25" fill="#0b0001"/><rect x="546.61" y="175.58" width="3.32" height="3.25" fill="#060001"/><rect x="549.93" y="175.58" width="3.32" height="3.25" fill="#030000"/><rect x="553.25" y="175.58" width="6.65" height="3.25" fill="#060001"/><rect x="383.80" y="178.83" width="6.65" height="3.25" fill="#110102"/><rect x="390.45" y="178.83" width="3.32" height="3.25" fill="#190103"/><rect x="393.77" y="178.83" width="3.32" height="3.25" fill="#2a0204"/><rect x="397.09" y="178.83" width="3.32" height="3.25" fill="#3a0305"/><rect x="400.41" y="178.83" width="3.32" height="3.25" fill="#3f0306"/><rect x="403.74" y="178.83" width="3.32" height="3.25" fill="#320205"/><rect x="407.06" y="178.83" width="3.32" height="3.25" fill="#1f0103"/><rect x="410.38" y="178.83" width="3.32" height="3.25" fill="#140102"/><rect x="413.70" y="178.83" width="19.94" height="3.25" fill="#0e0101"/><rect x="433.64" y="178.83" width="3.32" height="3.25" fill="#080001"/><rect x="436.96" y="178.83" width="9.97" height="3.25" fill="#060001"/><rect x="446.93" y="178.83" width="3.32" height="3.25" fill="#080001"/><rect x="450.25" y="178.83" width="3.32" height="3.25" fill="#0b0001"/><rect x="453.58" y="178.83" width="3.32" height="3.25" fill="#1c0103"/><rect x="456.90" y="178.83" width="3.32" height="3.25" fill="#3f0306"/><rect x="460.22" y="178.83" width="3.32" height="3.25" fill="#7f0f0a"/><rect x="463.54" y="178.83" width="3.32" height="3.25" fill="#d52111"/><rect x="466.87" y="178.83" width="3.32" height="3.25" fill="#ef2410"/><rect x="470.19" y="178.83" width="3.32" height="3.25" fill="#df2211"/><rect x="473.51" y="178.83" width="3.32" height="3.25" fill="#ad190f"/><rect x="476.83" y="178.83" width="3.32" height="3.25" fill="#91130c"/><rect x="480.16" y="178.83" width="3.32" height="3.25" fill="#7f0f0a"/><rect x="483.48" y="178.83" width="3.32" height="3.25" fill="#580607"/><rect x="486.80" y="178.83" width="3.32" height="3.25" fill="#2d0204"/><rect x="490.12" y="178.83" width="3.32" height="3.25" fill="#140102"/><rect x="493.45" y="178.83" width="6.65" height="3.25" fill="#0e0101"/><rect x="500.09" y="178.83" width="3.32" height="3.25" fill="#080001"/><rect x="503.42" y="178.83" width="3.32" height="3.25" fill="#060001"/><rect x="506.74" y="178.83" width="3.32" height="3.25" fill="#080001"/><rect x="510.06" y="178.83" width="3.32" height="3.25" fill="#110102"/><rect x="513.38" y="178.83" width="3.32" height="3.25" fill="#190103"/><rect x="516.71" y="178.83" width="3.32" height="3.25" fill="#240104"/><rect x="520.03" y="178.83" width="3.32" height="3.25" fill="#2a0204"/><rect x="523.35" y="178.83" width="3.32" height="3.25" fill="#300205"/><rect x="526.67" y="178.83" width="6.65" height="3.25" fill="#350205"/><rect x="533.32" y="178.83" width="3.32" height="3.25" fill="#320205"/><rect x="536.64" y="178.83" width="3.32" height="3.25" fill="#270204"/><rect x="539.96" y="178.83" width="3.32" height="3.25" fill="#1c0103"/><rect x="543.29" y="178.83" width="3.32" height="3.25" fill="#110102"/><rect x="546.61" y="178.83" width="3.32" height="3.25" fill="#080001"/><rect x="549.93" y="178.83" width="3.32" height="3.25" fill="#030000"/><rect x="553.25" y="178.83" width="6.65" height="3.25" fill="#060001"/><rect x="383.80" y="182.07" width="6.65" height="3.25" fill="#0b0001"/><rect x="390.45" y="182.07" width="3.32" height="3.25" fill="#110102"/><rect x="393.77" y="182.07" width="3.32" height="3.25" fill="#220103"/><rect x="397.09" y="182.07" width="3.32" height="3.25" fill="#320205"/><rect x="400.41" y="182.07" width="3.32" height="3.25" fill="#3a0305"/><rect x="403.74" y="182.07" width="3.32" height="3.25" fill="#320205"/><rect x="407.06" y="182.07" width="3.32" height="3.25" fill="#220103"/><rect x="410.38" y="182.07" width="3.32" height="3.25" fill="#160102"/><rect x="413.70" y="182.07" width="19.94" height="3.25" fill="#0e0101"/><rect x="433.64" y="182.07" width="6.65" height="3.25" fill="#080001"/><rect x="440.28" y="182.07" width="6.65" height="3.25" fill="#060001"/><rect x="446.93" y="182.07" width="3.32" height="3.25" fill="#080001"/><rect x="450.25" y="182.07" width="3.32" height="3.25" fill="#0b0001"/><rect x="453.58" y="182.07" width="3.32" height="3.25" fill="#190103"/><rect x="456.90" y="182.07" width="3.32" height="3.25" fill="#350205"/><rect x="460.22" y="182.07" width="3.32" height="3.25" fill="#680a08"/><rect x="463.54" y="182.07" width="3.32" height="3.25" fill="#ba1c10"/><rect x="466.87" y="182.07" width="3.32" height="3.25" fill="#df2211"/><rect x="470.19" y="182.07" width="3.32" height="3.25" fill="#cf2012"/><rect x="473.51" y="182.07" width="3.32" height="3.25" fill="#9c160d"/><rect x="476.83" y="182.07" width="3.32" height="3.25" fill="#87110b"/><rect x="480.16" y="182.07" width="3.32" height="3.25" fill="#790e0a"/><rect x="483.48" y="182.07" width="3.32" height="3.25" fill="#560507"/><rect x="486.80" y="182.07" width="3.32" height="3.25" fill="#2d0204"/><rect x="490.12" y="182.07" width="3.32" height="3.25" fill="#160102"/><rect x="493.45" y="182.07" width="3.32" height="3.25" fill="#0e0101"/><rect x="496.77" y="182.07" width="3.32" height="3.25" fill="#0b0001"/><rect x="500.09" y="182.07" width="6.65" height="3.25" fill="#080001"/><rect x="506.74" y="182.07" width="3.32" height="3.25" fill="#0e0101"/><rect x="510.06" y="182.07" width="3.32" height="3.25" fill="#190103"/><rect x="513.38" y="182.07" width="3.32" height="3.25" fill="#220103"/><rect x="516.71" y="182.07" width="3.32" height="3.25" fill="#2a0204"/><rect x="520.03" y="182.07" width="3.32" height="3.25" fill="#350205"/><rect x="523.35" y="182.07" width="3.32" height="3.25" fill="#420306"/><rect x="526.67" y="182.07" width="3.32" height="3.25" fill="#4c0406"/><rect x="530.00" y="182.07" width="3.32" height="3.25" fill="#4e0407"/><rect x="533.32" y="182.07" width="3.32" height="3.25" fill="#4c0406"/><rect x="536.64" y="182.07" width="3.32" height="3.25" fill="#3f0306"/><rect x="539.96" y="182.07" width="3.32" height="3.25" fill="#300205"/><rect x="543.29" y="182.07" width="3.32" height="3.25" fill="#1c0103"/><rect x="546.61" y="182.07" width="3.32" height="3.25" fill="#0e0101"/><rect x="549.93" y="182.07" width="6.65" height="3.25" fill="#060001"/><rect x="556.58" y="182.07" width="3.32" height="3.25" fill="#080001"/><rect x="383.80" y="185.32" width="6.65" height="3.25" fill="#080001"/><rect x="390.45" y="185.32" width="3.32" height="3.25" fill="#0b0001"/><rect x="393.77" y="185.32" width="3.32" height="3.25" fill="#160102"/><rect x="397.09" y="185.32" width="3.32" height="3.25" fill="#220103"/><rect x="400.41" y="185.32" width="3.32" height="3.25" fill="#2a0204"/><rect x="403.74" y="185.32" width="3.32" height="3.25" fill="#270204"/><rect x="407.06" y="185.32" width="3.32" height="3.25" fill="#1f0103"/><rect x="410.38" y="185.32" width="3.32" height="3.25" fill="#140102"/><rect x="413.70" y="185.32" width="6.65" height="3.25" fill="#0e0101"/><rect x="420.35" y="185.32" width="9.97" height="3.25" fill="#110102"/><rect x="430.32" y="185.32" width="3.32" height="3.25" fill="#0e0101"/><rect x="433.64" y="185.32" width="3.32" height="3.25" fill="#0b0001"/><rect x="436.96" y="185.32" width="9.97" height="3.25" fill="#080001"/><rect x="446.93" y="185.32" width="3.32" height="3.25" fill="#0b0001"/><rect x="450.25" y="185.32" width="3.32" height="3.25" fill="#0e0101"/><rect x="453.58" y="185.32" width="3.32" height="3.25" fill="#160102"/><rect x="456.90" y="185.32" width="3.32" height="3.25" fill="#2d0204"/><rect x="460.22" y="185.32" width="3.32" height="3.25" fill="#560507"/><rect x="463.54" y="185.32" width="3.32" height="3.25" fill="#97140d"/><rect x="466.87" y="185.32" width="3.32" height="3.25" fill="#c51e11"/><rect x="470.19" y="185.32" width="3.32" height="3.25" fill="#b51b10"/><rect x="473.51" y="185.32" width="3.32" height="3.25" fill="#91130c"/><rect x="476.83" y="185.32" width="3.32" height="3.25" fill="#84100b"/><rect x="480.16" y="185.32" width="3.32" height="3.25" fill="#7c0f0a"/><rect x="483.48" y="185.32" width="3.32" height="3.25" fill="#5e0708"/><rect x="486.80" y="185.32" width="3.32" height="3.25" fill="#350205"/><rect x="490.12" y="185.32" width="3.32" height="3.25" fill="#1c0103"/><rect x="493.45" y="185.32" width="3.32" height="3.25" fill="#110102"/><rect x="496.77" y="185.32" width="6.65" height="3.25" fill="#0b0001"/><rect x="503.42" y="185.32" width="3.32" height="3.25" fill="#0e0101"/><rect x="506.74" y="185.32" width="3.32" height="3.25" fill="#160102"/><rect x="510.06" y="185.32" width="3.32" height="3.25" fill="#220103"/><rect x="513.38" y="185.32" width="3.32" height="3.25" fill="#2a0204"/><rect x="516.71" y="185.32" width="3.32" height="3.25" fill="#300205"/><rect x="520.03" y="185.32" width="3.32" height="3.25" fill="#3a0305"/><rect x="523.35" y="185.32" width="3.32" height="3.25" fill="#4c0406"/><rect x="526.67" y="185.32" width="3.32" height="3.25" fill="#5e0708"/><rect x="530.00" y="185.32" width="3.32" height="3.25" fill="#650908"/><rect x="533.32" y="185.32" width="3.32" height="3.25" fill="#630808"/><rect x="536.64" y="185.32" width="3.32" height="3.25" fill="#560507"/><rect x="539.96" y="185.32" width="3.32" height="3.25" fill="#420306"/><rect x="543.29" y="185.32" width="3.32" height="3.25" fill="#2a0204"/><rect x="546.61" y="185.32" width="3.32" height="3.25" fill="#140102"/><rect x="549.93" y="185.32" width="6.65" height="3.25" fill="#080001"/><rect x="556.58" y="185.32" width="3.32" height="3.25" fill="#0e0101"/><rect x="383.80" y="188.56" width="3.32" height="3.25" fill="#0b0001"/><rect x="387.12" y="188.56" width="6.65" height="3.25" fill="#080001"/><rect x="393.77" y="188.56" width="3.32" height="3.25" fill="#0e0101"/><rect x="397.09" y="188.56" width="3.32" height="3.25" fill="#140102"/><rect x="400.41" y="188.56" width="6.65" height="3.25" fill="#1c0103"/><rect x="407.06" y="188.56" width="3.32" height="3.25" fill="#190103"/><rect x="410.38" y="188.56" width="3.32" height="3.25" fill="#140102"/><rect x="413.70" y="188.56" width="6.65" height="3.25" fill="#0e0101"/><rect x="420.35" y="188.56" width="3.32" height="3.25" fill="#110102"/><rect x="423.67" y="188.56" width="3.32" height="3.25" fill="#140102"/><rect x="426.99" y="188.56" width="3.32" height="3.25" fill="#110102"/><rect x="430.32" y="188.56" width="3.32" height="3.25" fill="#0e0101"/><rect x="433.64" y="188.56" width="13.29" height="3.25" fill="#0b0001"/><rect x="446.93" y="188.56" width="3.32" height="3.25" fill="#0e0101"/><rect x="450.25" y="188.56" width="3.32" height="3.25" fill="#110102"/><rect x="453.58" y="188.56" width="3.32" height="3.25" fill="#190103"/><rect x="456.90" y="188.56" width="3.32" height="3.25" fill="#2a0204"/><rect x="460.22" y="188.56" width="3.32" height="3.25" fill="#4c0406"/><rect x="463.54" y="188.56" width="3.32" height="3.25" fill="#7f0f0a"/><rect x="466.87" y="188.56" width="3.32" height="3.25" fill="#a4170e"/><rect x="470.19" y="188.56" width="3.32" height="3.25" fill="#a2170e"/><rect x="473.51" y="188.56" width="3.32" height="3.25" fill="#8c120c"/><rect x="476.83" y="188.56" width="3.32" height="3.25" fill="#87110b"/><rect x="480.16" y="188.56" width="3.32" height="3.25" fill="#7f0f0a"/><rect x="483.48" y="188.56" width="3.32" height="3.25" fill="#600808"/><rect x="486.80" y="188.56" width="3.32" height="3.25" fill="#3a0305"/><rect x="490.12" y="188.56" width="3.32" height="3.25" fill="#1f0103"/><rect x="493.45" y="188.56" width="3.32" height="3.25" fill="#140102"/><rect x="496.77" y="188.56" width="6.65" height="3.25" fill="#0e0101"/><rect x="503.42" y="188.56" width="3.32" height="3.25" fill="#140102"/><rect x="506.74" y="188.56" width="3.32" height="3.25" fill="#220103"/><rect x="510.06" y="188.56" width="3.32" height="3.25" fill="#300205"/><rect x="513.38" y="188.56" width="3.32" height="3.25" fill="#320205"/><rect x="516.71" y="188.56" width="3.32" height="3.25" fill="#300205"/><rect x="520.03" y="188.56" width="3.32" height="3.25" fill="#370205"/><rect x="523.35" y="188.56" width="3.32" height="3.25" fill="#4c0406"/><rect x="526.67" y="188.56" width="3.32" height="3.25" fill="#5e0708"/><rect x="530.00" y="188.56" width="3.32" height="3.25" fill="#650908"/><rect x="533.32" y="188.56" width="3.32" height="3.25" fill="#630808"/><rect x="536.64" y="188.56" width="3.32" height="3.25" fill="#580607"/><rect x="539.96" y="188.56" width="3.32" height="3.25" fill="#470406"/><rect x="543.29" y="188.56" width="3.32" height="3.25" fill="#2d0204"/><rect x="546.61" y="188.56" width="3.32" height="3.25" fill="#160102"/><rect x="549.93" y="188.56" width="6.65" height="3.25" fill="#0b0001"/><rect x="556.58" y="188.56" width="3.32" height="3.25" fill="#0e0101"/><rect x="383.80" y="191.81" width="3.32" height="3.25" fill="#080001"/><rect x="387.12" y="191.81" width="3.32" height="3.25" fill="#060001"/><rect x="390.45" y="191.81" width="3.32" height="3.25" fill="#080001"/><rect x="393.77" y="191.81" width="3.32" height="3.25" fill="#0b0001"/><rect x="397.09" y="191.81" width="3.32" height="3.25" fill="#140102"/><rect x="400.41" y="191.81" width="6.65" height="3.25" fill="#160102"/><rect x="407.06" y="191.81" width="3.32" height="3.25" fill="#110102"/><rect x="410.38" y="191.81" width="9.97" height="3.25" fill="#0e0101"/><rect x="420.35" y="191.81" width="6.65" height="3.25" fill="#110102"/><rect x="426.99" y="191.81" width="19.94" height="3.25" fill="#0e0101"/><rect x="446.93" y="191.81" width="3.32" height="3.25" fill="#110102"/><rect x="450.25" y="191.81" width="3.32" height="3.25" fill="#140102"/><rect x="453.58" y="191.81" width="3.32" height="3.25" fill="#1f0103"/><rect x="456.90" y="191.81" width="3.32" height="3.25" fill="#300205"/><rect x="460.22" y="191.81" width="3.32" height="3.25" fill="#4c0406"/><rect x="463.54" y="191.81" width="3.32" height="3.25" fill="#720c09"/><rect x="466.87" y="191.81" width="3.32" height="3.25" fill="#91130c"/><rect x="470.19" y="191.81" width="3.32" height="3.25" fill="#97140d"/><rect x="473.51" y="191.81" width="3.32" height="3.25" fill="#8f130c"/><rect x="476.83" y="191.81" width="3.32" height="3.25" fill="#84100b"/><rect x="480.16" y="191.81" width="3.32" height="3.25" fill="#770d0a"/><rect x="483.48" y="191.81" width="3.32" height="3.25" fill="#580607"/><rect x="486.80" y="191.81" width="3.32" height="3.25" fill="#370205"/><rect x="490.12" y="191.81" width="3.32" height="3.25" fill="#1f0103"/><rect x="493.45" y="191.81" width="3.32" height="3.25" fill="#140102"/><rect x="496.77" y="191.81" width="3.32" height="3.25" fill="#110102"/><rect x="500.09" y="191.81" width="3.32" height="3.25" fill="#140102"/><rect x="503.42" y="191.81" width="3.32" height="3.25" fill="#220103"/><rect x="506.74" y="191.81" width="3.32" height="3.25" fill="#320205"/><rect x="510.06" y="191.81" width="3.32" height="3.25" fill="#3f0306"/><rect x="513.38" y="191.81" width="3.32" height="3.25" fill="#370205"/><rect x="516.71" y="191.81" width="6.65" height="3.25" fill="#2d0204"/><rect x="523.35" y="191.81" width="3.32" height="3.25" fill="#3a0305"/><rect x="526.67" y="191.81" width="6.65" height="3.25" fill="#440406"/><rect x="533.32" y="191.81" width="3.32" height="3.25" fill="#3f0306"/><rect x="536.64" y="191.81" width="3.32" height="3.25" fill="#370205"/><rect x="539.96" y="191.81" width="3.32" height="3.25" fill="#2d0204"/><rect x="543.29" y="191.81" width="3.32" height="3.25" fill="#1f0103"/><rect x="546.61" y="191.81" width="3.32" height="3.25" fill="#140102"/><rect x="549.93" y="191.81" width="3.32" height="3.25" fill="#0b0001"/><rect x="553.25" y="191.81" width="3.32" height="3.25" fill="#080001"/><rect x="556.58" y="191.81" width="3.32" height="3.25" fill="#0b0001"/><rect x="383.80" y="195.05" width="6.65" height="3.25" fill="#060001"/><rect x="390.45" y="195.05" width="3.32" height="3.25" fill="#080001"/><rect x="393.77" y="195.05" width="3.32" height="3.25" fill="#0e0101"/><rect x="397.09" y="195.05" width="3.32" height="3.25" fill="#160102"/><rect x="400.41" y="195.05" width="3.32" height="3.25" fill="#1c0103"/><rect x="403.74" y="195.05" width="3.32" height="3.25" fill="#160102"/><rect x="407.06" y="195.05" width="3.32" height="3.25" fill="#0e0101"/><rect x="410.38" y="195.05" width="3.32" height="3.25" fill="#0b0001"/><rect x="413.70" y="195.05" width="33.23" height="3.25" fill="#0e0101"/><rect x="446.93" y="195.05" width="3.32" height="3.25" fill="#110102"/><rect x="450.25" y="195.05" width="3.32" height="3.25" fill="#160102"/><rect x="453.58" y="195.05" width="3.32" height="3.25" fill="#220103"/><rect x="456.90" y="195.05" width="3.32" height="3.25" fill="#320205"/><rect x="460.22" y="195.05" width="3.32" height="3.25" fill="#4e0407"/><rect x="463.54" y="195.05" width="3.32" height="3.25" fill="#720c09"/><rect x="466.87" y="195.05" width="3.32" height="3.25" fill="#91130c"/><rect x="470.19" y="195.05" width="3.32" height="3.25" fill="#97140d"/><rect x="473.51" y="195.05" width="3.32" height="3.25" fill="#8f130c"/><rect x="476.83" y="195.05" width="3.32" height="3.25" fill="#81100a"/><rect x="480.16" y="195.05" width="3.32" height="3.25" fill="#6f0c09"/><rect x="483.48" y="195.05" width="3.32" height="3.25" fill="#510507"/><rect x="486.80" y="195.05" width="3.32" height="3.25" fill="#320205"/><rect x="490.12" y="195.05" width="3.32" height="3.25" fill="#1c0103"/><rect x="493.45" y="195.05" width="6.65" height="3.25" fill="#140102"/><rect x="500.09" y="195.05" width="3.32" height="3.25" fill="#190103"/><rect x="503.42" y="195.05" width="3.32" height="3.25" fill="#270204"/><rect x="506.74" y="195.05" width="3.32" height="3.25" fill="#3a0305"/><rect x="510.06" y="195.05" width="3.32" height="3.25" fill="#440406"/><rect x="513.38" y="195.05" width="3.32" height="3.25" fill="#3a0305"/><rect x="516.71" y="195.05" width="3.32" height="3.25" fill="#2a0204"/><rect x="520.03" y="195.05" width="3.32" height="3.25" fill="#270204"/><rect x="523.35" y="195.05" width="3.32" height="3.25" fill="#300205"/><rect x="526.67" y="195.05" width="3.32" height="3.25" fill="#320205"/><rect x="530.00" y="195.05" width="3.32" height="3.25" fill="#2d0204"/><rect x="533.32" y="195.05" width="3.32" height="3.25" fill="#240104"/><rect x="536.64" y="195.05" width="3.32" height="3.25" fill="#1f0103"/><rect x="539.96" y="195.05" width="3.32" height="3.25" fill="#1c0103"/><rect x="543.29" y="195.05" width="3.32" height="3.25" fill="#160102"/><rect x="546.61" y="195.05" width="3.32" height="3.25" fill="#0e0101"/><rect x="549.93" y="195.05" width="3.32" height="3.25" fill="#080001"/><rect x="553.25" y="195.05" width="6.65" height="3.25" fill="#060001"/></g><defs><linearGradient id="cg" x1="0" y1="0" x2="0" y2="1"><stop offset="0.000" stop-color="rgb(255, 255, 250)"/><stop offset="0.010" stop-color="rgb(253, 255, 238)"/><stop offset="0.020" stop-color="rgb(252, 255, 227)"/><stop offset="0.030" stop-color="rgb(250, 255, 215)"/><stop offset="0.040" stop-color="rgb(249, 255, 204)"/><stop offset="0.050" stop-color="rgb(247, 255, 192)"/><stop offset="0.060" stop-color="rgb(246, 255, 181)"/><stop offset="0.070" stop-color="rgb(244, 255, 169)"/><stop offset="0.080" stop-color="rgb(243, 255, 158)"/><stop offset="0.090" stop-color="rgb(241, 255, 146)"/><stop offset="0.100" stop-color="rgb(240, 255, 135)"/><stop offset="0.110" stop-color="rgb(240, 255, 127)"/><stop offset="0.120" stop-color="rgb(240, 255, 120)"/><stop offset="0.130" stop-color="rgb(240, 255, 112)"/><stop offset="0.140" stop-color="rgb(240, 255, 105)"/><stop offset="0.150" stop-color="rgb(240, 255, 98)"/><stop offset="0.160" stop-color="rgb(240, 255, 90)"/><stop offset="0.170" stop-color="rgb(240, 255, 83)"/><stop offset="0.180" stop-color="rgb(240, 255, 75)"/><stop offset="0.190" stop-color="rgb(240, 255, 68)"/><stop offset="0.200" stop-color="rgb(240, 255, 60)"/><stop offset="0.210" stop-color="rgb(240, 247, 59)"/><stop offset="0.220" stop-color="rgb(239, 238, 57)"/><stop offset="0.230" stop-color="rgb(239, 229, 56)"/><stop offset="0.240" stop-color="rgb(238, 220, 54)"/><stop offset="0.250" stop-color="rgb(238, 212, 53)"/><stop offset="0.260" stop-color="rgb(237, 203, 51)"/><stop offset="0.270" stop-color="rgb(237, 194, 50)"/><stop offset="0.280" stop-color="rgb(236, 186, 48)"/><stop offset="0.290" stop-color="rgb(236, 177, 47)"/><stop offset="0.300" stop-color="rgb(235, 168, 45)"/><stop offset="0.310" stop-color="rgb(236, 161, 43)"/><stop offset="0.320" stop-color="rgb(237, 153, 42)"/><stop offset="0.330" stop-color="rgb(238, 146, 40)"/><stop offset="0.340" stop-color="rgb(239, 139, 38)"/><stop offset="0.350" stop-color="rgb(240, 132, 37)"/><stop offset="0.360" stop-color="rgb(241, 124, 35)"/><stop offset="0.370" stop-color="rgb(242, 117, 33)"/><stop offset="0.380" stop-color="rgb(243, 110, 31)"/><stop offset="0.390" stop-color="rgb(244, 102, 30)"/><stop offset="0.400" stop-color="rgb(245, 95, 28)"/><stop offset="0.410" stop-color="rgb(246, 89, 27)"/><stop offset="0.420" stop-color="rgb(247, 84, 25)"/><stop offset="0.430" stop-color="rgb(248, 78, 24)"/><stop offset="0.440" stop-color="rgb(249, 72, 23)"/><stop offset="0.450" stop-color="rgb(250, 66, 21)"/><stop offset="0.460" stop-color="rgb(251, 61, 20)"/><stop offset="0.470" stop-color="rgb(252, 55, 19)"/><stop offset="0.480" stop-color="rgb(253, 49, 18)"/><stop offset="0.490" stop-color="rgb(254, 44, 16)"/><stop offset="0.500" stop-color="rgb(255, 38, 15)"/><stop offset="0.510" stop-color="rgb(250, 37, 15)"/><stop offset="0.520" stop-color="rgb(245, 37, 16)"/><stop offset="0.530" stop-color="rgb(240, 36, 16)"/><stop offset="0.540" stop-color="rgb(235, 36, 16)"/><stop offset="0.550" stop-color="rgb(230, 35, 17)"/><stop offset="0.560" stop-color="rgb(225, 34, 17)"/><stop offset="0.570" stop-color="rgb(220, 34, 17)"/><stop offset="0.580" stop-color="rgb(215, 33, 17)"/><stop offset="0.590" stop-color="rgb(210, 33, 18)"/><stop offset="0.600" stop-color="rgb(205, 32, 18)"/><stop offset="0.610" stop-color="rgb(197, 30, 17)"/><stop offset="0.620" stop-color="rgb(189, 29, 16)"/><stop offset="0.630" stop-color="rgb(181, 27, 16)"/><stop offset="0.640" stop-color="rgb(173, 25, 15)"/><stop offset="0.650" stop-color="rgb(165, 24, 14)"/><stop offset="0.660" stop-color="rgb(157, 22, 13)"/><stop offset="0.670" stop-color="rgb(149, 20, 12)"/><stop offset="0.680" stop-color="rgb(141, 18, 12)"/><stop offset="0.690" stop-color="rgb(133, 17, 11)"/><stop offset="0.700" stop-color="rgb(125, 15, 10)"/><stop offset="0.710" stop-color="rgb(118, 13, 9)"/><stop offset="0.720" stop-color="rgb(110, 11, 9)"/><stop offset="0.730" stop-color="rgb(103, 9, 8)"/><stop offset="0.740" stop-color="rgb(95, 8, 8)"/><stop offset="0.750" stop-color="rgb(88, 6, 7)"/><stop offset="0.760" stop-color="rgb(80, 5, 7)"/><stop offset="0.770" stop-color="rgb(72, 4, 6)"/><stop offset="0.780" stop-color="rgb(65, 3, 6)"/><stop offset="0.790" stop-color="rgb(57, 3, 5)"/><stop offset="0.800" stop-color="rgb(50, 2, 5)"/><stop offset="0.810" stop-color="rgb(42, 2, 4)"/><stop offset="0.820" stop-color="rgb(33, 1, 3)"/><stop offset="0.830" stop-color="rgb(25, 1, 2)"/><stop offset="0.840" stop-color="rgb(17, 1, 2)"/><stop offset="0.850" stop-color="rgb(8, 0, 1)"/><stop offset="0.860" stop-color="rgb(0, 0, 0)"/><stop offset="0.870" stop-color="rgb(0, 0, 0)"/><stop offset="0.880" stop-color="rgb(0, 0, 0)"/><stop offset="0.890" stop-color="rgb(0, 0, 0)"/><stop offset="0.900" stop-color="rgb(0, 0, 0)"/><stop offset="0.910" stop-color="rgb(0, 0, 0)"/><stop offset="0.920" stop-color="rgb(0, 0, 0)"/><stop offset="0.930" stop-color="rgb(0, 0, 0)"/><stop offset="0.940" stop-color="rgb(0, 0, 0)"/><stop offset="0.950" stop-color="rgb(0, 0, 0)"/><stop offset="0.960" stop-color="rgb(0, 0, 0)"/><stop offset="0.970" stop-color="rgb(0, 0, 0)"/><stop offset="0.980" stop-color="rgb(0, 0, 0)"/><stop offset="0.990" stop-color="rgb(0, 0, 0)"/><stop offset="1.000" stop-color="rgb(0, 0, 0)"/></linearGradient></defs><rect x="248.4" y="26.3" width="12.3" height="172.2" fill="url(#cg)" stroke="#8c8c8c" stroke-width="0.8"/><line x1="258.2" x2="260.7" y1="164.1" y2="164.1" stroke="#666" stroke-width="0.7"/><line x1="258.2" x2="260.7" y1="129.6" y2="129.6" stroke="#666" stroke-width="0.7"/><line x1="258.2" x2="260.7" y1="95.2" y2="95.2" stroke="#666" stroke-width="0.7"/><line x1="258.2" x2="260.7" y1="60.7" y2="60.7" stroke="#666" stroke-width="0.7"/><rect x="571.5" y="26.3" width="12.2" height="172.1" fill="url(#cg)" stroke="#8c8c8c" stroke-width="0.8"/><line x1="581.2" x2="583.7" y1="164.0" y2="164.0" stroke="#666" stroke-width="0.7"/><line x1="581.2" x2="583.7" y1="129.6" y2="129.6" stroke="#666" stroke-width="0.7"/><line x1="581.2" x2="583.7" y1="95.1" y2="95.1" stroke="#666" stroke-width="0.7"/><line x1="581.2" x2="583.7" y1="60.7" y2="60.7" stroke="#666" stroke-width="0.7"/><rect x="65.9" y="26.3" width="172.8" height="172.2" fill="none" stroke="#2b2b2b" stroke-width="0.7"/><path d="M69.22 198.50v-2M69.22 26.30v2M65.90 195.19h2M238.70 195.19h-2M110.76 198.50v-2M110.76 26.30v2M65.90 153.79h2M238.70 153.79h-2M152.30 198.50v-2M152.30 26.30v2M65.90 112.40h2M238.70 112.40h-2M193.84 198.50v-2M193.84 26.30v2M65.90 71.01h2M238.70 71.01h-2M235.38 198.50v-2M235.38 26.30v2M65.90 29.61h2M238.70 29.61h-2" stroke="#2b2b2b" stroke-width="0.8" fill="none"/><rect x="383.8" y="26.3" width="176.1" height="172.0" fill="none" stroke="#2b2b2b" stroke-width="0.7"/><path d="M383.80 198.30v-2M383.80 26.30v2M383.80 198.30h2M559.90 198.30h-2M427.82 198.30v-2M427.82 26.30v2M383.80 155.30h2M559.90 155.30h-2M471.85 198.30v-2M471.85 26.30v2M383.80 112.30h2M559.90 112.30h-2M515.88 198.30v-2M515.88 26.30v2M383.80 69.30h2M559.90 69.30h-2M559.90 198.30v-2M559.90 26.30v2M383.80 26.30h2M559.90 26.30h-2" stroke="#2b2b2b" stroke-width="0.8" fill="none"/><rect x="84.5" y="289.3" width="506.7" height="225.1" fill="none" stroke="#9c9c9c" stroke-width="1"/><path d="M84.5 514.4v-4.5M84.5 289.3v4.5M211.2 514.4v-4.5M211.2 289.3v4.5M337.9 514.4v-4.5M337.9 289.3v4.5M464.5 514.4v-4.5M464.5 289.3v4.5M591.2 514.4v-4.5M591.2 289.3v4.5M84.5 514.4h4.5M591.2 514.4h-4.5M84.5 401.9h4.5M591.2 401.9h-4.5M84.5 289.3h4.5M591.2 289.3h-4.5" stroke="#9c9c9c" stroke-width="1" fill="none"/><polyline points="84.5,425.4 94.6,382.3 104.8,350.5 114.9,329.0 125.0,304.5 135.2,289.3 145.3,292.3 155.4,306.9 165.6,327.5 175.7,362.6 185.8,413.0 196.0,464.5 206.1,491.6 216.2,486.5 226.4,467.4 236.5,453.0 246.6,445.4 256.8,450.2 266.9,472.0 277.0,503.3 287.2,514.2 297.3,497.0 307.4,464.5 317.6,442.9 327.7,435.4 337.9,436.2 348.0,444.4 358.1,466.5 368.3,497.0 378.4,514.2 388.5,501.4 398.7,471.2 408.8,449.2 418.9,444.0 429.1,452.4 439.2,470.2 449.3,491.0 459.5,495.6 469.6,464.7 479.7,412.0 489.9,361.2 500.0,326.7 510.1,303.8 520.3,289.6 530.4,289.6 540.5,305.9 550.7,331.0 560.8,358.3 570.9,386.5 581.1,430.0 591.2,480.7" fill="none" stroke="#DA541E" stroke-width="1.9" stroke-linejoin="round"/><polyline points="84.5,418.3 94.6,381.5 104.8,349.4 114.9,335.0 125.0,320.5 135.2,313.0 145.3,305.5 155.4,316.5 165.6,327.5 175.7,352.7 185.8,377.9 196.0,422.8 206.1,461.6 216.2,486.5 226.4,511.3 236.5,513.0 246.6,514.6 256.8,508.0 266.9,501.5 277.0,495.0 287.2,488.4 297.3,479.0 307.4,470.2 317.6,469.7 327.7,469.3 337.9,464.7 348.0,460.1 358.1,456.0 368.3,453.0 378.4,450.0 388.5,446.3 398.7,444.0 408.8,441.5 418.9,452.5 429.1,463.5 439.2,476.4 449.3,489.5 459.5,476.6 469.6,463.7 479.7,430.0 489.9,393.0 500.0,355.0 510.1,317.4 520.3,303.5 530.4,289.6 591.2,457.1" fill="none" stroke="#E6B12C" stroke-width="1.9" stroke-linejoin="round"/><polyline points="84.5,514.4 94.6,514.4 104.8,514.4 114.9,514.4 125.0,514.4 135.2,289.3 145.3,514.4 155.4,514.4 165.6,514.4 175.7,514.4 185.8,514.4 196.0,514.4 206.1,514.4 216.2,514.4 226.4,514.4 236.5,514.4 246.6,514.4 256.8,514.4 266.9,514.4 277.0,514.4 287.2,514.4 297.3,514.4 307.4,514.4 317.6,514.4 327.7,514.4 337.9,514.4 348.0,514.4 358.1,514.4 368.3,514.4 378.4,514.4 388.5,514.4 398.7,514.4 408.8,514.4 418.9,514.4 429.1,514.4 439.2,514.4 449.3,514.4 459.5,514.4 469.6,514.4 479.7,514.4 489.9,514.4 500.0,514.4 510.1,514.4 520.3,514.4 530.4,289.3 540.5,514.4 550.7,514.4 560.8,514.4 570.9,514.4 581.1,514.4 591.2,514.4" fill="none" stroke="#3274C6" stroke-width="1.9" stroke-dasharray="6.85 6.73"/><rect x="592.7" y="461.4" width="90.9" height="52.7" fill="#fff" stroke="#9c9c9c" stroke-width="1"/><rect x="590.9" y="461.4" width="1.9" height="53" fill="#c4c4c4"/><line x1="594.8" x2="611.1" y1="471" y2="471" stroke="#DA541E" stroke-width="1.9"/><line x1="594.8" x2="611.1" y1="487.8" y2="487.8" stroke="#E6B12C" stroke-width="1.9"/><line x1="594.8" x2="611.1" y1="505" y2="505" stroke="#3274C6" stroke-width="1.9" stroke-dasharray="7 6.5"/><text transform="translate(-0.20 17.10)" font-size="22" class="s" fill="#000">(</text><text transform="translate(5.70 17.10)" font-size="20.5" class="s" fill="#000">a</text><text transform="translate(17.90 17.10)" font-size="22" class="s" fill="#000">)</text><text transform="translate(307.70 17.20)" font-size="22" class="s" fill="#000">(</text><text transform="translate(314.50 17.20)" font-size="20.5" class="s" fill="#000">b</text><text transform="translate(326.60 17.20)" font-size="22" class="s" fill="#000">)</text><text transform="translate(-0.50 274.50)" font-size="22" class="s" fill="#000">(</text><text transform="translate(6.40 274.50)" font-size="20.5" class="s" fill="#000">c</text><text transform="translate(17.70 274.50)" font-size="22" class="s" fill="#000">)</text><text transform="translate(43.20 18.60)" font-size="18" font-weight="bold" textLength="218.5" lengthAdjust="spacingAndGlyphs" fill="#000">Simulation pressure map</text><text transform="translate(352.60 18.60)" font-size="18" font-weight="bold" textLength="238.5" lengthAdjust="spacingAndGlyphs" fill="#000">Experimental pressure map</text><text transform="translate(246.80 279.80)" font-size="21" font-weight="bold" textLength="181.5" lengthAdjust="spacingAndGlyphs" fill="#000">Pressure profiles</text><text transform="translate(55.60 36.10) scale(1 0.97)" font-size="17.0" text-anchor="end">2</text><path transform="translate(47.35 77.20) scale(0.00830 -0.00805)" d="M731 0H550V1102C509 1063 456 1024 389 984C322 944 262 915 208 894V1061C304 1106 389 1161 461 1226C533 1291 584 1354 614 1409H731Z" stroke="#262626" stroke-width="34"/><text transform="translate(55.60 119.10) scale(1 0.97)" font-size="17.0" text-anchor="end">0</text><text transform="translate(45.58 160.50) scale(1 0.97)" font-size="17.0">-</text><path transform="translate(51.25 160.50) scale(0.00830 -0.00805)" d="M731 0H550V1102C509 1063 456 1024 389 984C322 944 262 915 208 894V1061C304 1106 389 1161 461 1226C533 1291 584 1354 614 1409H731Z" stroke="#262626" stroke-width="34"/><text transform="translate(59.80 204.20) scale(1 0.97)" font-size="17.0" text-anchor="end">-2</text><text transform="translate(68.90 221.10) scale(1 0.97)" font-size="17.0" text-anchor="middle">-2</text><text transform="translate(103.44 221.10) scale(1 0.97)" font-size="17.0">-</text><path transform="translate(109.10 221.10) scale(0.00830 -0.00805)" d="M731 0H550V1102C509 1063 456 1024 389 984C322 944 262 915 208 894V1061C304 1106 389 1161 461 1226C533 1291 584 1354 614 1409H731Z" stroke="#262626" stroke-width="34"/><text transform="translate(149.60 221.10) scale(1 0.97)" font-size="17.0" text-anchor="middle">0</text><path transform="translate(187.47 221.10) scale(0.00830 -0.00805)" d="M731 0H550V1102C509 1063 456 1024 389 984C322 944 262 915 208 894V1061C304 1106 389 1161 461 1226C533 1291 584 1354 614 1409H731Z" stroke="#262626" stroke-width="34"/><text transform="translate(233.00 221.10) scale(1 0.97)" font-size="17.0" text-anchor="middle">2</text><text transform="translate(374.50 34.90) scale(1 0.97)" font-size="17.0" text-anchor="end">2</text><path transform="translate(366.35 76.80) scale(0.00830 -0.00805)" d="M731 0H550V1102C509 1063 456 1024 389 984C322 944 262 915 208 894V1061C304 1106 389 1161 461 1226C533 1291 584 1354 614 1409H731Z" stroke="#262626" stroke-width="34"/><text transform="translate(374.50 118.80) scale(1 0.97)" font-size="17.0" text-anchor="end">0</text><text transform="translate(362.68 160.80) scale(1 0.97)" font-size="17.0">-</text><path transform="translate(368.35 160.80) scale(0.00830 -0.00805)" d="M731 0H550V1102C509 1063 456 1024 389 984C322 944 262 915 208 894V1061C304 1106 389 1161 461 1226C533 1291 584 1354 614 1409H731Z" stroke="#262626" stroke-width="34"/><text transform="translate(377.20 204.00) scale(1 0.97)" font-size="17.0" text-anchor="end">-2</text><text transform="translate(385.00 221.30) scale(1 0.97)" font-size="17.0" text-anchor="middle">-2</text><text transform="translate(421.74 221.30) scale(1 0.97)" font-size="17.0">-</text><path transform="translate(427.40 221.30) scale(0.00830 -0.00805)" d="M731 0H550V1102C509 1063 456 1024 389 984C322 944 262 915 208 894V1061C304 1106 389 1161 461 1226C533 1291 584 1354 614 1409H731Z" stroke="#262626" stroke-width="34"/><text transform="translate(469.30 221.30) scale(1 0.97)" font-size="17.0" text-anchor="middle">0</text><path transform="translate(508.87 221.30) scale(0.00830 -0.00805)" d="M731 0H550V1102C509 1063 456 1024 389 984C322 944 262 915 208 894V1061C304 1106 389 1161 461 1226C533 1291 584 1354 614 1409H731Z" stroke="#262626" stroke-width="34"/><text transform="translate(555.10 221.30) scale(1 0.97)" font-size="17.0" text-anchor="middle">2</text><text transform="translate(152.30 243.60) scale(1 0.99)" font-size="18.8" text-anchor="middle" textLength="57" lengthAdjust="spacingAndGlyphs">x (mm)</text><text transform="translate(470.80 243.60) scale(1 0.99)" font-size="18.8" text-anchor="middle" textLength="56.5" lengthAdjust="spacingAndGlyphs">x (mm)</text><text transform="translate(39.20 112.20) rotate(-90)" font-size="17.8" text-anchor="middle" textLength="57.6" lengthAdjust="spacingAndGlyphs">y (mm)</text><text transform="translate(357.20 112.35) rotate(-90)" font-size="17.8" text-anchor="middle" textLength="57.2" lengthAdjust="spacingAndGlyphs">y (mm)</text><text transform="translate(264.60 202.90)" font-size="11" class="s">0</text><text transform="translate(588.00 202.80)" font-size="11" class="s">0</text><text transform="translate(264.60 168.46)" font-size="11" class="s">0.2</text><text transform="translate(588.00 168.38)" font-size="11" class="s">0.2</text><text transform="translate(264.60 134.02)" font-size="11" class="s">0.4</text><text transform="translate(588.00 133.96)" font-size="11" class="s">0.4</text><text transform="translate(264.60 99.58)" font-size="11" class="s">0.6</text><text transform="translate(588.00 99.54)" font-size="11" class="s">0.6</text><text transform="translate(264.60 65.14)" font-size="11" class="s">0.8</text><text transform="translate(588.00 65.12)" font-size="11" class="s">0.8</text><path transform="translate(264.60 30.70) scale(0.00537 -0.00537)" d="M731 0H550V1102C509 1063 456 1024 389 984C322 944 262 915 208 894V1061C304 1106 389 1161 461 1226C533 1291 584 1354 614 1409H731Z" stroke="#262626" stroke-width="15"/><path transform="translate(588.00 30.70) scale(0.00537 -0.00537)" d="M731 0H550V1102C509 1063 456 1024 389 984C322 944 262 915 208 894V1061C304 1106 389 1161 461 1226C533 1291 584 1354 614 1409H731Z" stroke="#262626" stroke-width="15"/><text transform="translate(299.80 112.40) rotate(-90)" font-size="17.2" text-anchor="middle" textLength="155.5" lengthAdjust="spacingAndGlyphs">Normalized pressure</text><text transform="translate(623.10 111.90) rotate(-90)" font-size="17.2" text-anchor="middle" textLength="154.5" lengthAdjust="spacingAndGlyphs">Normalized pressure</text><text transform="translate(79.00 521.60)" font-size="20" text-anchor="end">0</text><text transform="translate(79.00 409.05)" font-size="20" text-anchor="end">0.5</text><path transform="translate(68.58 296.50) scale(0.00977 -0.00977)" d="M731 0H550V1102C509 1063 456 1024 389 984C322 944 262 915 208 894V1061C304 1106 389 1161 461 1226C533 1291 584 1354 614 1409H731Z" stroke="#262626" stroke-width="29"/><text transform="translate(84.00 541.20)" font-size="20" text-anchor="middle">-2</text><text transform="translate(201.91 541.20)" font-size="20">-</text><path transform="translate(208.57 541.20) scale(0.00977 -0.00977)" d="M731 0H550V1102C509 1063 456 1024 389 984C322 944 262 915 208 894V1061C304 1106 389 1161 461 1226C533 1291 584 1354 614 1409H731Z" stroke="#262626" stroke-width="29"/><text transform="translate(335.20 541.20)" font-size="20" text-anchor="middle">0</text><path transform="translate(456.94 541.20) scale(0.00977 -0.00977)" d="M731 0H550V1102C509 1063 456 1024 389 984C322 944 262 915 208 894V1061C304 1106 389 1161 461 1226C533 1291 584 1354 614 1409H731Z" stroke="#262626" stroke-width="29"/><text transform="translate(588.40 541.20)" font-size="20" text-anchor="middle">2</text><text transform="translate(337.40 568.80)" font-size="22" text-anchor="middle" textLength="70" lengthAdjust="spacingAndGlyphs">x (mm)</text><text transform="translate(43.60 401.90) rotate(-90)" font-size="22.4" text-anchor="middle" textLength="196" lengthAdjust="spacingAndGlyphs">Normlized pressure</text><text transform="translate(613.20 476.20)" font-size="13.5" class="s" fill="#000">Simulation</text><text transform="translate(613.20 493.00)" font-size="13.5" class="s" fill="#000">Experiment</text><text transform="translate(613.20 509.80)" font-size="13.5" class="s" fill="#000">Target</text></svg>

</body></html>
